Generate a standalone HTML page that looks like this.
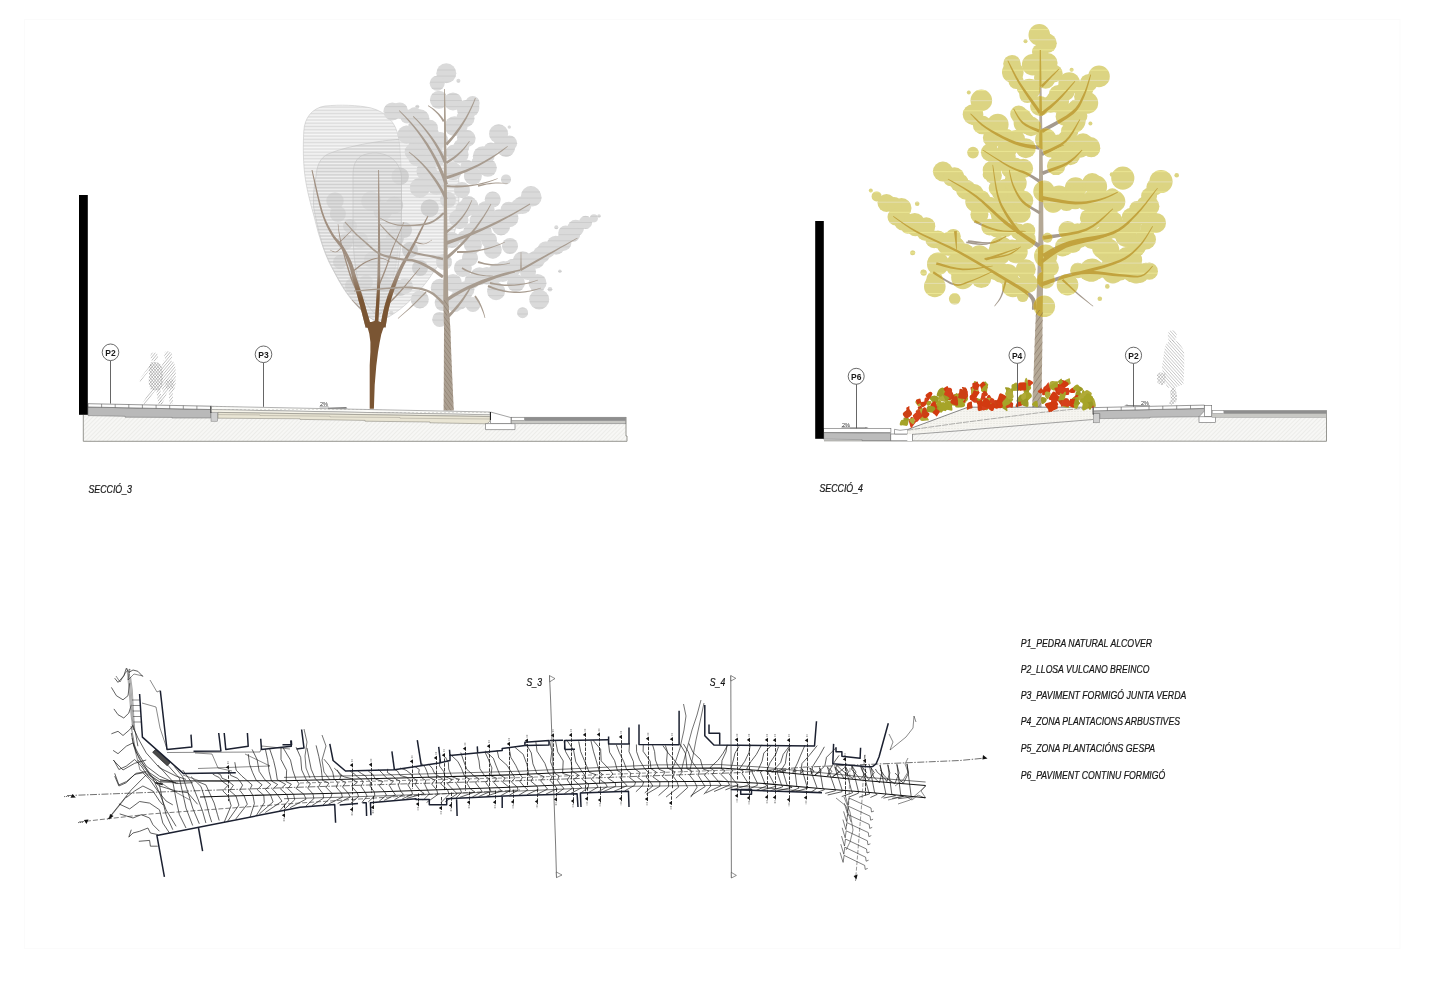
<!DOCTYPE html>
<html><head><meta charset="utf-8"><title>Seccions</title>
<style>
html,body{margin:0;padding:0;background:#fff;}
body{width:1447px;height:1000px;overflow:hidden;font-family:"Liberation Sans",sans-serif;}
svg{display:block;position:absolute;left:0;top:0;}
text{font-family:"Liberation Sans",sans-serif;}
svg{opacity:0.999;}
.it{font-style:italic;fill:#151515;stroke:#151515;stroke-width:0.22px;}
.bd{font-weight:bold;fill:#1a1a1a;}
</style></head><body>
<svg width="1447" height="1000" viewBox="0 0 1447 1000">
<defs>
<pattern id="hatchG" width="3" height="3" patternUnits="userSpaceOnUse" patternTransform="rotate(-45)">
  <rect width="3" height="3" fill="#f7f7f5"/><line x1="0" y1="0" x2="3" y2="0" stroke="#dcdcd8" stroke-width="0.8"/>
</pattern>
<pattern id="hatchB" width="4" height="1.45" patternUnits="userSpaceOnUse">
  <rect width="4" height="1.45" fill="#ffffff" fill-opacity="0"/><line x1="0" y1="0.5" x2="4" y2="0.5" stroke="#b0b0b0" stroke-width="0.46"/>
</pattern>
<pattern id="hatchP" width="2.2" height="2.2" patternUnits="userSpaceOnUse" patternTransform="rotate(-50)">
  <line x1="0" y1="0" x2="2.2" y2="0" stroke="#7c7c7c" stroke-width="0.72"/>
</pattern>
<pattern id="hatchP2" width="2.2" height="2.2" patternUnits="userSpaceOnUse" patternTransform="rotate(50)">
  <line x1="0" y1="0" x2="2.2" y2="0" stroke="#7c7c7c" stroke-width="0.72"/>
</pattern>
<pattern id="hatchT" width="3.2" height="3.2" patternUnits="userSpaceOnUse" patternTransform="rotate(55)">
  <line x1="0" y1="0" x2="3.2" y2="0" stroke="#7a6a5a" stroke-width="0.7"/>
</pattern>
<pattern id="dots" width="4" height="3" patternUnits="userSpaceOnUse">
  <rect width="4" height="3" fill="#fbfbf8"/><circle cx="1" cy="1.5" r="0.5" fill="#b8b8b0"/>
</pattern>
</defs>
<rect width="1447" height="1000" fill="#ffffff"/>
<rect x="24.5" y="19.5" width="1375.5" height="929" fill="none" stroke="#fbfbfb" stroke-width="1"/>

<g id="secc3"><clipPath id="clipGrey"><circle cx="446.3" cy="73.2" r="10"/><circle cx="437.2" cy="83.2" r="7.5"/><circle cx="458.4" cy="80.7" r="2"/><circle cx="438.9" cy="99.8" r="9"/><circle cx="453" cy="101.4" r="9"/><circle cx="470.4" cy="108" r="9"/><circle cx="392.4" cy="111.4" r="9"/><circle cx="417.3" cy="106.7" r="2"/><circle cx="419.8" cy="118.8" r="9.6"/><circle cx="429.7" cy="128" r="8.3"/><circle cx="454.6" cy="126.3" r="10"/><circle cx="406.5" cy="134.6" r="9"/><circle cx="498.6" cy="133.8" r="9.6"/><circle cx="509.3" cy="127.1" r="1.7"/><circle cx="506" cy="147.9" r="9"/><circle cx="482.8" cy="156.2" r="10"/><circle cx="459.6" cy="154.5" r="9"/><circle cx="418.1" cy="147.9" r="10"/><circle cx="436.4" cy="157.8" r="9"/><circle cx="487.8" cy="167.8" r="9"/><circle cx="472.9" cy="176" r="9"/><circle cx="453" cy="171.1" r="9"/><circle cx="426.4" cy="171.1" r="10"/><circle cx="506" cy="179.4" r="5"/><circle cx="530.9" cy="196" r="10"/><circle cx="419.8" cy="187.7" r="10"/><circle cx="436.4" cy="186" r="9"/><circle cx="465" cy="138" r="8"/><circle cx="440" cy="140" r="8"/><circle cx="532.6" cy="197.5" r="9"/><circle cx="522.6" cy="204.9" r="9"/><circle cx="509.4" cy="218.2" r="9"/><circle cx="501" cy="226.5" r="9"/><circle cx="492.8" cy="198.3" r="5"/><circle cx="469.6" cy="206.6" r="9"/><circle cx="459.6" cy="219.9" r="9"/><circle cx="482.8" cy="231.5" r="9"/><circle cx="472.9" cy="244.7" r="9"/><circle cx="492.8" cy="249.7" r="9"/><circle cx="585.6" cy="222.3" r="6.6"/><circle cx="593.9" cy="218.2" r="4"/><circle cx="575.7" cy="228.1" r="8.3"/><circle cx="565.7" cy="233.1" r="7.5"/><circle cx="555.8" cy="244.7" r="9"/><circle cx="545.8" cy="249.7" r="8.3"/><circle cx="535.9" cy="259.7" r="9"/><circle cx="522.6" cy="261.3" r="10"/><circle cx="556.3" cy="227.3" r="2"/><circle cx="559.9" cy="271.3" r="1.7"/><circle cx="537.5" cy="282.9" r="9"/><circle cx="539.2" cy="299.5" r="10"/><circle cx="516" cy="282.9" r="9"/><circle cx="502.7" cy="272.9" r="9"/><circle cx="496.1" cy="291.2" r="9"/><circle cx="479.5" cy="276.2" r="9"/><circle cx="462.9" cy="267.9" r="9"/><circle cx="453" cy="282.9" r="9"/><circle cx="459.6" cy="299.5" r="10"/><circle cx="472.9" cy="304.4" r="7.5"/><circle cx="522.6" cy="312.7" r="5.5"/><circle cx="550" cy="289.2" r="2.3"/><circle cx="439.7" cy="287.8" r="9"/><circle cx="443" cy="302.8" r="8.3"/><circle cx="439.7" cy="319.4" r="7.5"/><circle cx="419.8" cy="299.5" r="9"/><circle cx="404.9" cy="286.2" r="8"/><circle cx="391.3" cy="312.7" r="2"/><circle cx="599" cy="216" r="1.8"/><circle cx="489" cy="240" r="8"/><circle cx="510" cy="246" r="8"/><circle cx="528" cy="272" r="8"/><circle cx="470" cy="258" r="8"/><circle cx="462" cy="190" r="8"/><circle cx="448" cy="200" r="8"/><circle cx="452" cy="240" r="8"/><circle cx="444" cy="262" r="8"/><circle cx="459.1" cy="125.7" r="8.7"/><circle cx="465.5" cy="118.2" r="9.0"/><circle cx="466.0" cy="109.2" r="9.1"/><circle cx="472.6" cy="103.0" r="7.1"/><circle cx="436.2" cy="142.5" r="8.1"/><circle cx="431.7" cy="134.0" r="7.3"/><circle cx="425.0" cy="130.8" r="8.6"/><circle cx="418.7" cy="123.4" r="7.1"/><circle cx="414.4" cy="114.0" r="6.8"/><circle cx="435.5" cy="153.3" r="7.3"/><circle cx="431.5" cy="148.4" r="7.5"/><circle cx="426.5" cy="139.4" r="8.4"/><circle cx="418.0" cy="133.8" r="8.5"/><circle cx="415.8" cy="126.5" r="7.5"/><circle cx="407.2" cy="116.5" r="7.1"/><circle cx="399.7" cy="110.6" r="8.2"/><circle cx="453.4" cy="152.3" r="7.6"/><circle cx="461.3" cy="146.8" r="8.0"/><circle cx="467.1" cy="138.4" r="8.5"/><circle cx="467.2" cy="166.6" r="6.9"/><circle cx="478.4" cy="162.2" r="6.8"/><circle cx="486.5" cy="155.8" r="8.2"/><circle cx="490.8" cy="149.7" r="7.2"/><circle cx="502.4" cy="145.4" r="8.6"/><circle cx="509.5" cy="143.2" r="7.6"/><circle cx="435.2" cy="179.4" r="8.7"/><circle cx="428.8" cy="173.1" r="8.7"/><circle cx="426.3" cy="163.1" r="9.1"/><circle cx="416.7" cy="158.0" r="8.3"/><circle cx="413.6" cy="152.0" r="9.0"/><circle cx="476.9" cy="225.8" r="7.6"/><circle cx="483.6" cy="221.2" r="7.2"/><circle cx="494.0" cy="221.4" r="7.2"/><circle cx="499.2" cy="217.4" r="8.1"/><circle cx="508.8" cy="209.9" r="8.2"/><circle cx="518.5" cy="206.5" r="7.8"/><circle cx="522.9" cy="204.0" r="6.9"/><circle cx="464.4" cy="237.6" r="7.1"/><circle cx="471.5" cy="231.4" r="8.3"/><circle cx="477.3" cy="220.7" r="7.8"/><circle cx="479.7" cy="216.6" r="7.5"/><circle cx="485.9" cy="209.7" r="8.8"/><circle cx="492.7" cy="199.5" r="8.0"/><circle cx="472.0" cy="281.1" r="7.5"/><circle cx="478.8" cy="275.9" r="7.7"/><circle cx="489.7" cy="276.2" r="8.3"/><circle cx="496.1" cy="270.5" r="7.0"/><circle cx="503.7" cy="269.9" r="8.9"/><circle cx="512.8" cy="267.8" r="8.7"/><circle cx="541.4" cy="254.5" r="8.6"/><circle cx="547.8" cy="250.3" r="7.5"/><circle cx="556.1" cy="246.2" r="8.5"/><circle cx="563.1" cy="242.5" r="8.4"/><circle cx="572.2" cy="234.0" r="8.1"/><circle cx="454.7" cy="304.1" r="7.9"/><circle cx="462.8" cy="297.0" r="8.7"/><circle cx="465.8" cy="289.5" r="8.6"/><circle cx="486.8" cy="275.7" r="8.8"/><circle cx="495.5" cy="274.1" r="9.1"/><circle cx="504.4" cy="270.6" r="8.1"/><circle cx="509.6" cy="269.5" r="9.0"/><circle cx="457.4" cy="218.4" r="8.5"/><circle cx="464.3" cy="209.2" r="8.7"/><circle cx="468.5" cy="203.8" r="7.8"/></clipPath><g fill="#c9c9c9"><circle cx="335" cy="201" r="8.7"/><circle cx="337.9" cy="214" r="8"/><circle cx="371.2" cy="201" r="10"/><circle cx="382.8" cy="211" r="9.4"/><circle cx="400.2" cy="176.2" r="8.7"/><circle cx="394.4" cy="205.2" r="8.7"/><circle cx="345" cy="242" r="8"/><circle cx="360" cy="240" r="8"/><circle cx="372" cy="260" r="8"/><circle cx="353" cy="286" r="8"/><circle cx="400" cy="288" r="8"/><circle cx="340" cy="262" r="7"/><circle cx="386" cy="246" r="8"/><circle cx="410" cy="250" r="8"/><circle cx="420" cy="268" r="8"/><circle cx="404" cy="230" r="8"/><circle cx="350" cy="226" r="7"/><circle cx="394.9" cy="238.1" r="9"/><circle cx="429.7" cy="208.2" r="9"/><circle cx="366" cy="282" r="7"/><circle cx="384" cy="284" r="8"/></g><path d="M303.8,131 C304.5,118 312,108 325,106 C340,104.5 358,105 371.2,108 C386,112 396,122 398.8,138.5 C400.5,150 401.5,170 401.5,196 C401.5,230 398,262 390,290 C386,304 381,314 375,321 C362,313 349,299 339,281 C330,264 321,245 316.5,226 C312,208 308,196 305.5,180 C303,165 303,145 303.8,131 Z" fill="#ffffff" fill-opacity="0.35"/><path d="M303.8,131 C304.5,118 312,108 325,106 C340,104.5 358,105 371.2,108 C386,112 396,122 398.8,138.5 C400.5,150 401.5,170 401.5,196 C401.5,230 398,262 390,290 C386,304 381,314 375,321 C362,313 349,299 339,281 C330,264 321,245 316.5,226 C312,208 308,196 305.5,180 C303,165 303,145 303.8,131 Z" fill="url(#hatchB)" stroke="#bcbcbc" stroke-width="0.5"/><path d="M316,176 C317,165 320,158 328,154 C340,149 352,146.5 362.5,144.3 C380,141 398,138.5 415,139 C435,140 452,148 457,165 C460,180 459.5,200 457.5,219 C455,234 451,243 448,248 C444,257 439,265 433.5,272 C428,281 421,289 414.4,296 C408,303 402,308 395.2,312.8 C389,317 383,320 378,322 C368,318 360,310 354,302 C344,290 336,275 331.6,267.2 C326,257 322,245 320.8,238.4 C317,225 314.5,212 313.6,207.2 C313,196 314,185 316,176 Z" fill="#ffffff" fill-opacity="0.35"/><path d="M316,176 C317,165 320,158 328,154 C340,149 352,146.5 362.5,144.3 C380,141 398,138.5 415,139 C435,140 452,148 457,165 C460,180 459.5,200 457.5,219 C455,234 451,243 448,248 C444,257 439,265 433.5,272 C428,281 421,289 414.4,296 C408,303 402,308 395.2,312.8 C389,317 383,320 378,322 C368,318 360,310 354,302 C344,290 336,275 331.6,267.2 C326,257 322,245 320.8,238.4 C317,225 314.5,212 313.6,207.2 C313,196 314,185 316,176 Z" fill="url(#hatchB)" stroke="#bcbcbc" stroke-width="0.5"/><path d="M353,176 C353,166 355,160 361,156 C368,152.5 378,152 386,155 C394,158 400,165 401.5,176 L401.5,230 C401,255 397,280 389,300 C386,308 382,313 378,316 C372,312 366,304 362,294 C356,278 353,255 353,230 Z" fill="#ffffff" fill-opacity="0.35"/><path d="M353,176 C353,166 355,160 361,156 C368,152.5 378,152 386,155 C394,158 400,165 401.5,176 L401.5,230 C401,255 397,280 389,300 C386,308 382,313 378,316 C372,312 366,304 362,294 C356,278 353,255 353,230 Z" fill="url(#hatchB)" stroke="#bcbcbc" stroke-width="0.5"/><g fill="#dadada"><circle cx="446.3" cy="73.2" r="10"/><circle cx="437.2" cy="83.2" r="7.5"/><circle cx="458.4" cy="80.7" r="2"/><circle cx="438.9" cy="99.8" r="9"/><circle cx="453" cy="101.4" r="9"/><circle cx="470.4" cy="108" r="9"/><circle cx="392.4" cy="111.4" r="9"/><circle cx="417.3" cy="106.7" r="2"/><circle cx="419.8" cy="118.8" r="9.6"/><circle cx="429.7" cy="128" r="8.3"/><circle cx="454.6" cy="126.3" r="10"/><circle cx="406.5" cy="134.6" r="9"/><circle cx="498.6" cy="133.8" r="9.6"/><circle cx="509.3" cy="127.1" r="1.7"/><circle cx="506" cy="147.9" r="9"/><circle cx="482.8" cy="156.2" r="10"/><circle cx="459.6" cy="154.5" r="9"/><circle cx="418.1" cy="147.9" r="10"/><circle cx="436.4" cy="157.8" r="9"/><circle cx="487.8" cy="167.8" r="9"/><circle cx="472.9" cy="176" r="9"/><circle cx="453" cy="171.1" r="9"/><circle cx="426.4" cy="171.1" r="10"/><circle cx="506" cy="179.4" r="5"/><circle cx="530.9" cy="196" r="10"/><circle cx="419.8" cy="187.7" r="10"/><circle cx="436.4" cy="186" r="9"/><circle cx="465" cy="138" r="8"/><circle cx="440" cy="140" r="8"/><circle cx="532.6" cy="197.5" r="9"/><circle cx="522.6" cy="204.9" r="9"/><circle cx="509.4" cy="218.2" r="9"/><circle cx="501" cy="226.5" r="9"/><circle cx="492.8" cy="198.3" r="5"/><circle cx="469.6" cy="206.6" r="9"/><circle cx="459.6" cy="219.9" r="9"/><circle cx="482.8" cy="231.5" r="9"/><circle cx="472.9" cy="244.7" r="9"/><circle cx="492.8" cy="249.7" r="9"/><circle cx="585.6" cy="222.3" r="6.6"/><circle cx="593.9" cy="218.2" r="4"/><circle cx="575.7" cy="228.1" r="8.3"/><circle cx="565.7" cy="233.1" r="7.5"/><circle cx="555.8" cy="244.7" r="9"/><circle cx="545.8" cy="249.7" r="8.3"/><circle cx="535.9" cy="259.7" r="9"/><circle cx="522.6" cy="261.3" r="10"/><circle cx="556.3" cy="227.3" r="2"/><circle cx="559.9" cy="271.3" r="1.7"/><circle cx="537.5" cy="282.9" r="9"/><circle cx="539.2" cy="299.5" r="10"/><circle cx="516" cy="282.9" r="9"/><circle cx="502.7" cy="272.9" r="9"/><circle cx="496.1" cy="291.2" r="9"/><circle cx="479.5" cy="276.2" r="9"/><circle cx="462.9" cy="267.9" r="9"/><circle cx="453" cy="282.9" r="9"/><circle cx="459.6" cy="299.5" r="10"/><circle cx="472.9" cy="304.4" r="7.5"/><circle cx="522.6" cy="312.7" r="5.5"/><circle cx="550" cy="289.2" r="2.3"/><circle cx="439.7" cy="287.8" r="9"/><circle cx="443" cy="302.8" r="8.3"/><circle cx="439.7" cy="319.4" r="7.5"/><circle cx="419.8" cy="299.5" r="9"/><circle cx="404.9" cy="286.2" r="8"/><circle cx="391.3" cy="312.7" r="2"/><circle cx="599" cy="216" r="1.8"/><circle cx="489" cy="240" r="8"/><circle cx="510" cy="246" r="8"/><circle cx="528" cy="272" r="8"/><circle cx="470" cy="258" r="8"/><circle cx="462" cy="190" r="8"/><circle cx="448" cy="200" r="8"/><circle cx="452" cy="240" r="8"/><circle cx="444" cy="262" r="8"/><circle cx="459.1" cy="125.7" r="8.7"/><circle cx="465.5" cy="118.2" r="9.0"/><circle cx="466.0" cy="109.2" r="9.1"/><circle cx="472.6" cy="103.0" r="7.1"/><circle cx="436.2" cy="142.5" r="8.1"/><circle cx="431.7" cy="134.0" r="7.3"/><circle cx="425.0" cy="130.8" r="8.6"/><circle cx="418.7" cy="123.4" r="7.1"/><circle cx="414.4" cy="114.0" r="6.8"/><circle cx="435.5" cy="153.3" r="7.3"/><circle cx="431.5" cy="148.4" r="7.5"/><circle cx="426.5" cy="139.4" r="8.4"/><circle cx="418.0" cy="133.8" r="8.5"/><circle cx="415.8" cy="126.5" r="7.5"/><circle cx="407.2" cy="116.5" r="7.1"/><circle cx="399.7" cy="110.6" r="8.2"/><circle cx="453.4" cy="152.3" r="7.6"/><circle cx="461.3" cy="146.8" r="8.0"/><circle cx="467.1" cy="138.4" r="8.5"/><circle cx="467.2" cy="166.6" r="6.9"/><circle cx="478.4" cy="162.2" r="6.8"/><circle cx="486.5" cy="155.8" r="8.2"/><circle cx="490.8" cy="149.7" r="7.2"/><circle cx="502.4" cy="145.4" r="8.6"/><circle cx="509.5" cy="143.2" r="7.6"/><circle cx="435.2" cy="179.4" r="8.7"/><circle cx="428.8" cy="173.1" r="8.7"/><circle cx="426.3" cy="163.1" r="9.1"/><circle cx="416.7" cy="158.0" r="8.3"/><circle cx="413.6" cy="152.0" r="9.0"/><circle cx="476.9" cy="225.8" r="7.6"/><circle cx="483.6" cy="221.2" r="7.2"/><circle cx="494.0" cy="221.4" r="7.2"/><circle cx="499.2" cy="217.4" r="8.1"/><circle cx="508.8" cy="209.9" r="8.2"/><circle cx="518.5" cy="206.5" r="7.8"/><circle cx="522.9" cy="204.0" r="6.9"/><circle cx="464.4" cy="237.6" r="7.1"/><circle cx="471.5" cy="231.4" r="8.3"/><circle cx="477.3" cy="220.7" r="7.8"/><circle cx="479.7" cy="216.6" r="7.5"/><circle cx="485.9" cy="209.7" r="8.8"/><circle cx="492.7" cy="199.5" r="8.0"/><circle cx="472.0" cy="281.1" r="7.5"/><circle cx="478.8" cy="275.9" r="7.7"/><circle cx="489.7" cy="276.2" r="8.3"/><circle cx="496.1" cy="270.5" r="7.0"/><circle cx="503.7" cy="269.9" r="8.9"/><circle cx="512.8" cy="267.8" r="8.7"/><circle cx="541.4" cy="254.5" r="8.6"/><circle cx="547.8" cy="250.3" r="7.5"/><circle cx="556.1" cy="246.2" r="8.5"/><circle cx="563.1" cy="242.5" r="8.4"/><circle cx="572.2" cy="234.0" r="8.1"/><circle cx="454.7" cy="304.1" r="7.9"/><circle cx="462.8" cy="297.0" r="8.7"/><circle cx="465.8" cy="289.5" r="8.6"/><circle cx="486.8" cy="275.7" r="8.8"/><circle cx="495.5" cy="274.1" r="9.1"/><circle cx="504.4" cy="270.6" r="8.1"/><circle cx="509.6" cy="269.5" r="9.0"/><circle cx="457.4" cy="218.4" r="8.5"/><circle cx="464.3" cy="209.2" r="8.7"/><circle cx="468.5" cy="203.8" r="7.8"/></g><g clip-path="url(#clipGrey)" stroke="#bdbdbd" stroke-width="0.45"><line x1="385" y1="70.0" x2="605" y2="70.0"/><line x1="385" y1="76.1" x2="605" y2="76.1"/><line x1="385" y1="82.2" x2="605" y2="82.2"/><line x1="385" y1="88.3" x2="605" y2="88.3"/><line x1="385" y1="94.4" x2="605" y2="94.4"/><line x1="385" y1="100.5" x2="605" y2="100.5"/><line x1="385" y1="106.6" x2="605" y2="106.6"/><line x1="385" y1="112.7" x2="605" y2="112.7"/><line x1="385" y1="118.8" x2="605" y2="118.8"/><line x1="385" y1="124.9" x2="605" y2="124.9"/><line x1="385" y1="131.0" x2="605" y2="131.0"/><line x1="385" y1="137.1" x2="605" y2="137.1"/><line x1="385" y1="143.2" x2="605" y2="143.2"/><line x1="385" y1="149.3" x2="605" y2="149.3"/><line x1="385" y1="155.4" x2="605" y2="155.4"/><line x1="385" y1="161.5" x2="605" y2="161.5"/><line x1="385" y1="167.6" x2="605" y2="167.6"/><line x1="385" y1="173.7" x2="605" y2="173.7"/><line x1="385" y1="179.8" x2="605" y2="179.8"/><line x1="385" y1="185.9" x2="605" y2="185.9"/><line x1="385" y1="192.0" x2="605" y2="192.0"/><line x1="385" y1="198.1" x2="605" y2="198.1"/><line x1="385" y1="204.2" x2="605" y2="204.2"/><line x1="385" y1="210.3" x2="605" y2="210.3"/><line x1="385" y1="216.4" x2="605" y2="216.4"/><line x1="385" y1="222.5" x2="605" y2="222.5"/><line x1="385" y1="228.6" x2="605" y2="228.6"/><line x1="385" y1="234.7" x2="605" y2="234.7"/><line x1="385" y1="240.8" x2="605" y2="240.8"/><line x1="385" y1="246.9" x2="605" y2="246.9"/><line x1="385" y1="253.0" x2="605" y2="253.0"/><line x1="385" y1="259.1" x2="605" y2="259.1"/><line x1="385" y1="265.2" x2="605" y2="265.2"/><line x1="385" y1="271.3" x2="605" y2="271.3"/><line x1="385" y1="277.4" x2="605" y2="277.4"/><line x1="385" y1="283.5" x2="605" y2="283.5"/><line x1="385" y1="289.6" x2="605" y2="289.6"/><line x1="385" y1="295.7" x2="605" y2="295.7"/><line x1="385" y1="301.8" x2="605" y2="301.8"/><line x1="385" y1="307.9" x2="605" y2="307.9"/><line x1="385" y1="314.0" x2="605" y2="314.0"/><line x1="385" y1="320.1" x2="605" y2="320.1"/></g><defs><linearGradient id="gLimb" x1="0" y1="300" x2="0" y2="274" gradientUnits="userSpaceOnUse"><stop offset="0" stop-color="#7a5533"/><stop offset="1" stop-color="#7a5533" stop-opacity="0"/></linearGradient></defs><polygon points="371.1,326.3 370.0,322.5 368.5,317.1 366.7,310.9 365.0,304.7 363.4,299.3 362.0,294.8 360.7,290.7 359.4,286.8 358.2,283.1 357.1,279.4 356.0,275.8 355.0,272.4 354.0,269.1 353.0,265.7 351.7,262.3 350.2,259.0 348.6,255.7 346.9,252.4 345.1,249.2 343.2,246.2 341.3,243.5 339.2,241.1 337.1,238.9 335.0,236.4 333.0,233.4 331.0,230.0 328.9,226.3 326.9,222.3 324.8,217.5 322.8,211.8 320.6,204.0 318.2,194.5 315.9,184.6 313.9,175.9 312.5,169.9 311.5,170.1 312.8,176.2 314.7,184.9 316.8,194.8 319.1,204.4 321.2,212.2 323.2,218.1 325.1,223.1 327.1,227.3 329.0,231.0 331.0,234.6 333.0,237.8 335.1,240.5 337.1,242.9 339.0,245.2 340.8,247.8 342.4,250.8 344.1,253.9 345.6,257.1 347.0,260.4 348.3,263.7 349.4,266.9 350.3,270.1 351.1,273.5 352.0,276.9 352.9,280.6 354.0,284.3 355.1,288.1 356.2,292.0 357.4,296.2 358.6,300.7 360.1,306.1 361.7,312.3 363.3,318.5 364.7,323.9 365.7,327.7" fill="#a08f80" /><polygon points="385.5,327.5 385.9,324.9 386.5,321.2 387.2,316.9 388.0,312.5 388.8,308.6 389.7,305.0 390.6,301.5 391.6,298.0 392.7,294.4 394.0,290.7 395.3,286.7 396.8,282.6 398.4,278.4 400.0,274.4 401.6,270.7 403.1,267.4 404.7,264.3 406.2,261.4 407.8,258.5 409.3,255.7 410.7,252.9 412.0,250.3 413.4,247.8 414.7,245.2 416.0,242.5 417.4,239.7 418.7,236.8 420.1,233.9 421.4,231.1 422.7,228.4 424.0,225.6 425.4,222.8 426.6,220.1 427.7,217.9 428.4,216.2 427.6,215.8 426.7,217.3 425.5,219.6 424.1,222.2 422.7,224.9 421.3,227.6 419.9,230.3 418.4,233.1 417.0,235.9 415.5,238.8 414.0,241.5 412.6,244.1 411.1,246.6 409.7,249.1 408.3,251.6 406.7,254.3 405.1,257.1 403.5,259.9 401.8,262.8 400.1,265.9 398.4,269.3 396.7,273.0 394.9,277.0 393.2,281.2 391.6,285.3 390.0,289.3 388.7,293.0 387.4,296.6 386.3,300.2 385.2,303.8 384.2,307.4 383.2,311.5 382.2,316.0 381.4,320.3 380.7,323.9 380.1,326.5" fill="#a08f80" /><polygon points="378.2,324.1 378.4,319.4 378.8,312.8 379.2,305.0 379.6,297.2 379.9,290.1 380.1,283.8 380.2,277.7 380.2,271.8 380.2,266.0 380.2,260.0 380.2,254.0 380.2,248.0 380.1,242.0 380.0,236.0 380.0,230.0 379.9,224.0 379.8,218.0 379.7,212.0 379.6,206.0 379.5,200.0 379.4,193.5 379.3,186.6 379.2,179.8 379.1,174.1 379.0,170.0 378.2,170.0 378.2,174.1 378.2,179.8 378.1,186.6 378.1,193.5 378.1,200.0 378.1,206.0 378.1,212.0 378.1,218.0 378.1,224.0 378.0,230.0 378.0,236.0 378.0,242.0 377.9,248.0 377.9,254.0 377.8,260.0 377.6,265.9 377.5,271.8 377.4,277.7 377.2,283.7 376.9,289.9 376.5,297.0 376.0,304.8 375.4,312.5 375.0,319.2 374.6,323.9" fill="#a08f80" /><polygon points="361.4,297.6 360.2,295.2 358.5,291.9 356.5,288.0 354.5,283.8 352.8,279.7 351.2,275.6 349.7,271.2 348.3,266.6 346.9,262.2 345.6,257.8 344.4,253.6 343.2,249.4 342.2,245.4 341.2,241.5 340.4,237.9 339.8,234.5 339.2,231.2 338.8,228.3 338.5,225.8 338.2,224.0 337.8,224.0 337.9,225.8 338.2,228.3 338.5,231.3 339.0,234.7 339.6,238.1 340.3,241.7 341.2,245.6 342.2,249.7 343.3,253.9 344.4,258.2 345.6,262.5 346.9,267.1 348.3,271.6 349.7,276.1 351.2,280.3 353.0,284.5 354.9,288.7 356.8,292.7 358.5,296.0 359.6,298.4" fill="#a08f80" /><polygon points="352.5,272.6 354.3,271.1 357.0,269.0 360.1,266.6 363.3,264.3 366.3,262.5 369.1,261.2 372.0,260.1 374.8,259.2 377.5,258.6 380.0,258.4 382.3,258.7 384.6,259.5 386.8,260.6 388.6,261.6 389.9,262.2 390.1,261.8 388.8,261.1 387.1,260.0 384.9,258.9 382.5,258.0 380.0,257.6 377.4,257.7 374.6,258.3 371.6,259.1 368.7,260.2 365.7,261.5 362.6,263.3 359.3,265.5 356.2,267.9 353.5,270.0 351.5,271.4" fill="#a08f80" /><polygon points="386.6,306.6 388.2,305.0 390.5,302.7 393.2,300.1 395.9,297.2 398.5,294.5 400.9,291.7 403.4,288.9 405.8,285.9 408.1,283.1 410.4,280.3 412.6,277.6 414.9,274.7 417.1,272.1 418.9,269.8 420.2,268.2 419.8,267.8 418.4,269.4 416.5,271.6 414.3,274.2 411.9,277.0 409.6,279.7 407.3,282.4 404.9,285.2 402.4,288.0 399.9,290.9 397.5,293.5 394.9,296.2 392.1,299.0 389.4,301.6 387.0,303.8 385.4,305.4" fill="#a08f80" /><polygon points="379.7,285.3 380.7,283.0 382.0,279.8 383.6,276.0 385.2,272.0 386.6,268.2 387.9,264.6 389.1,260.9 390.2,257.1 391.3,253.5 392.5,250.2 393.7,247.1 394.8,244.3 396.0,241.6 397.2,238.9 398.4,236.2 399.6,233.1 401.0,229.9 402.3,226.7 403.4,224.0 404.2,222.1 403.8,221.9 402.9,223.8 401.8,226.5 400.4,229.6 399.0,232.8 397.6,235.8 396.4,238.6 395.2,241.2 394.0,243.9 392.7,246.8 391.5,249.8 390.3,253.2 389.1,256.8 387.9,260.5 386.7,264.2 385.4,267.8 383.9,271.5 382.3,275.4 380.7,279.2 379.3,282.4 378.3,284.7" fill="#a08f80" /><polygon points="338.4,244.4 339.5,243.2 341.0,241.6 342.8,239.7 344.7,237.9 346.2,236.2 347.7,234.8 349.0,233.4 350.3,232.1 351.4,230.9 352.1,230.1 351.9,229.9 351.1,230.6 349.9,231.7 348.6,233.0 347.2,234.3 345.8,235.8 344.1,237.3 342.3,239.2 340.4,241.0 338.8,242.5 337.6,243.6" fill="#a08f80" /><polygon points="368.5,317.6 367.4,316.3 365.8,314.3 364.0,312.0 362.1,309.7 360.3,307.7 358.6,305.9 356.7,304.0 354.8,302.3 353.3,300.9 352.2,299.8 351.8,300.2 352.9,301.3 354.4,302.8 356.2,304.5 358.0,306.4 359.7,308.3 361.4,310.3 363.2,312.6 365.0,314.9 366.5,317.0 367.5,318.4" fill="#a08f80" /><polygon points="341.7,246.6 340.9,247.5 339.7,248.7 338.4,250.0 337.1,251.0 335.9,251.7 334.8,251.7 333.4,251.3 332.1,250.8 330.9,250.2 330.1,249.8 329.9,250.2 330.7,250.6 331.9,251.2 333.2,251.9 334.7,252.3 336.1,252.3 337.5,251.7 339.0,250.6 340.3,249.3 341.5,248.1 342.3,247.4" fill="#a08f80" /><polygon points="414.9,242.5 416.1,242.8 417.9,243.4 419.9,243.9 422.1,244.3 424.0,244.3 425.9,243.8 427.8,242.9 429.6,241.8 431.0,240.8 432.1,240.2 431.9,239.8 430.8,240.4 429.3,241.4 427.5,242.4 425.7,243.2 424.0,243.7 422.2,243.6 420.1,243.1 418.1,242.5 416.4,241.9 415.1,241.5" fill="#a08f80" /><polygon points="371.1,326.3 370.0,322.5 368.5,317.1 366.7,310.9 365.0,304.7 363.4,299.3 362.0,294.8 360.7,290.7 359.4,286.8 358.2,283.1 357.1,279.4 356.0,275.8 355.0,272.4 354.0,269.1 353.0,265.7 351.7,262.3 350.2,259.0 348.6,255.7 346.9,252.4 345.1,249.2 343.2,246.2 341.3,243.5 339.2,241.1 337.1,238.9 335.0,236.4 333.0,233.4 331.0,230.0 328.9,226.3 326.9,222.3 324.8,217.5 322.8,211.8 320.6,204.0 318.2,194.5 315.9,184.6 313.9,175.9 312.5,169.9 311.5,170.1 312.8,176.2 314.7,184.9 316.8,194.8 319.1,204.4 321.2,212.2 323.2,218.1 325.1,223.1 327.1,227.3 329.0,231.0 331.0,234.6 333.0,237.8 335.1,240.5 337.1,242.9 339.0,245.2 340.8,247.8 342.4,250.8 344.1,253.9 345.6,257.1 347.0,260.4 348.3,263.7 349.4,266.9 350.3,270.1 351.1,273.5 352.0,276.9 352.9,280.6 354.0,284.3 355.1,288.1 356.2,292.0 357.4,296.2 358.6,300.7 360.1,306.1 361.7,312.3 363.3,318.5 364.7,323.9 365.7,327.7" fill="url(#gLimb)" /><polygon points="385.5,327.5 385.9,324.9 386.5,321.2 387.2,316.9 388.0,312.5 388.8,308.6 389.7,305.0 390.6,301.5 391.6,298.0 392.7,294.4 394.0,290.7 395.3,286.7 396.8,282.6 398.4,278.4 400.0,274.4 401.6,270.7 403.1,267.4 404.7,264.3 406.2,261.4 407.8,258.5 409.3,255.7 410.7,252.9 412.0,250.3 413.4,247.8 414.7,245.2 416.0,242.5 417.4,239.7 418.7,236.8 420.1,233.9 421.4,231.1 422.7,228.4 424.0,225.6 425.4,222.8 426.6,220.1 427.7,217.9 428.4,216.2 427.6,215.8 426.7,217.3 425.5,219.6 424.1,222.2 422.7,224.9 421.3,227.6 419.9,230.3 418.4,233.1 417.0,235.9 415.5,238.8 414.0,241.5 412.6,244.1 411.1,246.6 409.7,249.1 408.3,251.6 406.7,254.3 405.1,257.1 403.5,259.9 401.8,262.8 400.1,265.9 398.4,269.3 396.7,273.0 394.9,277.0 393.2,281.2 391.6,285.3 390.0,289.3 388.7,293.0 387.4,296.6 386.3,300.2 385.2,303.8 384.2,307.4 383.2,311.5 382.2,316.0 381.4,320.3 380.7,323.9 380.1,326.5" fill="url(#gLimb)" /><polygon points="378.2,324.1 378.4,319.4 378.8,312.8 379.2,305.0 379.6,297.2 379.9,290.1 380.1,283.8 380.2,277.7 380.2,271.8 380.2,266.0 380.2,260.0 380.2,254.0 380.2,248.0 380.1,242.0 380.0,236.0 380.0,230.0 379.9,224.0 379.8,218.0 379.7,212.0 379.6,206.0 379.5,200.0 379.4,193.5 379.3,186.6 379.2,179.8 379.1,174.1 379.0,170.0 378.2,170.0 378.2,174.1 378.2,179.8 378.1,186.6 378.1,193.5 378.1,200.0 378.1,206.0 378.1,212.0 378.1,218.0 378.1,224.0 378.0,230.0 378.0,236.0 378.0,242.0 377.9,248.0 377.9,254.0 377.8,260.0 377.6,265.9 377.5,271.8 377.4,277.7 377.2,283.7 376.9,289.9 376.5,297.0 376.0,304.8 375.4,312.5 375.0,319.2 374.6,323.9" fill="url(#gLimb)" /><polygon points="373.9,408.8 374.7,385.1 376.3,365.7 378.0,352.3 379.6,342.7 381.3,334.2 383.5,327.7 367.5,327.3 369.3,333.8 370.4,342.1 370.4,351.7 369.7,365.3 369.7,384.9 369.7,408.8" fill="#7a5533" /><polygon points="367.4,328 365.6,322 371.2,322 376,320.6 380.6,322 385.6,322 383.6,328" fill="#7a5533"/><polygon points="453.8,410.4 452.6,384.9 451.3,354.9 450.4,328.9 448.3,299.9 447.6,250.0 447.0,200.0 446.4,150.0 445.6,110.0 444.9,89.0 444.1,89.0 444.0,110.0 444.0,150.0 443.8,200.0 443.6,250.0 443.3,300.1 444.0,329.1 443.9,355.1 443.8,385.1 443.6,410.6" fill="#ab9f91" /><polygon points="453.8,410.4 452.6,384.9 451.3,354.9 450.4,328.9 448.3,299.9 443.3,300.1 444.0,329.1 443.9,355.1 443.8,385.1 443.6,410.6" fill="url(#hatchT)" /><polygon points="444.7,120.7 443.4,118.9 442.0,117.0 440.5,115.3 439.0,113.6 437.4,112.0 435.7,110.5 434.0,109.1 432.1,107.7 430.2,106.5 428.3,105.3 427.9,105.9 429.8,107.2 431.6,108.5 433.2,109.9 434.9,111.4 436.4,113.0 437.9,114.6 439.2,116.3 440.6,118.1 441.8,119.9 442.9,121.9" fill="#a89c90" /><polygon points="447.3,145.4 451.0,141.2 454.5,136.9 457.9,132.5 461.0,127.9 463.9,123.2 466.7,118.5 469.2,113.6 471.6,108.6 473.8,103.5 475.8,98.2 475.0,98.0 472.9,103.1 470.5,108.1 468.0,112.9 465.3,117.7 462.4,122.3 459.3,126.8 456.1,131.1 452.7,135.4 449.1,139.5 445.3,143.6" fill="#a89c90" /><polygon points="446.9,162.2 444.4,157.0 441.7,151.9 438.8,146.9 435.7,142.1 432.5,137.4 429.0,132.9 425.4,128.5 421.6,124.2 417.6,120.1 413.5,116.1 412.9,116.7 416.9,120.8 420.7,125.1 424.3,129.4 427.7,133.9 430.9,138.5 433.9,143.3 436.7,148.1 439.4,153.1 441.8,158.2 444.1,163.4" fill="#a89c90" /><polygon points="448.0,183.8 444.7,175.4 441.1,167.2 437.1,159.2 432.7,151.5 428.1,144.0 423.0,136.8 417.6,129.8 411.9,123.0 405.8,116.5 399.4,110.2 398.8,110.8 405.0,117.2 410.9,123.9 416.3,130.8 421.5,137.9 426.2,145.2 430.6,152.7 434.7,160.5 438.3,168.4 441.7,176.6 444.6,185.0" fill="#a89c90" /><polygon points="447.0,163.9 449.7,162.1 452.4,160.3 455.0,158.3 457.4,156.2 459.7,154.0 462.0,151.7 464.1,149.3 466.1,146.7 468.0,144.1 469.8,141.4 469.2,141.0 467.3,143.6 465.3,146.1 463.2,148.4 460.9,150.7 458.6,152.8 456.2,154.8 453.7,156.7 451.1,158.5 448.5,160.1 445.6,161.7" fill="#a89c90" /><polygon points="446.7,179.2 453.4,177.0 460.0,174.6 466.5,171.9 472.8,169.0 479.0,165.9 485.1,162.5 491.0,158.9 496.8,155.0 502.4,150.9 507.9,146.5 507.5,145.9 501.8,150.0 496.1,153.9 490.2,157.6 484.2,161.0 478.1,164.2 471.9,167.1 465.6,169.7 459.1,172.1 452.6,174.3 445.9,176.2" fill="#a89c90" /><polygon points="447.7,198.6 444.8,193.1 441.8,187.8 438.5,182.6 435.0,177.6 431.2,172.8 427.3,168.2 423.1,163.8 418.7,159.6 414.1,155.5 409.3,151.7 408.7,152.3 413.4,156.3 417.8,160.5 422.0,164.8 426.0,169.3 429.7,174.0 433.2,178.9 436.5,183.9 439.5,189.1 442.3,194.4 444.9,200.0" fill="#a89c90" /><polygon points="446.2,187.0 451.6,187.3 456.9,187.4 462.1,187.2 467.4,186.7 472.5,186.0 477.7,185.1 482.8,183.9 487.8,182.4 492.9,180.8 497.8,178.8 497.6,178.2 492.6,180.0 487.6,181.5 482.5,182.8 477.5,183.9 472.4,184.7 467.2,185.2 462.1,185.5 456.9,185.6 451.6,185.4 446.4,185.0" fill="#a89c90" /><polygon points="478.2,186.7 481.1,185.9 484.0,185.2 486.9,184.6 489.8,184.2 492.8,183.8 495.7,183.6 498.7,183.4 501.7,183.4 504.7,183.6 507.7,183.8 507.7,183.2 504.7,182.9 501.7,182.7 498.7,182.6 495.7,182.6 492.7,182.7 489.7,183.0 486.7,183.4 483.7,183.9 480.8,184.5 477.8,185.3" fill="#a89c90" /><polygon points="447.1,244.7 455.8,241.5 464.5,238.2 473.1,234.7 481.5,230.9 489.9,227.0 498.2,222.9 506.3,218.6 514.4,214.0 522.4,209.3 530.2,204.4 529.8,203.6 521.8,208.3 513.7,212.8 505.5,217.1 497.3,221.1 488.9,225.0 480.5,228.7 472.0,232.1 463.4,235.4 454.7,238.5 445.9,241.3" fill="#a89c90" /><polygon points="447.5,259.2 452.9,254.5 458.0,249.6 463.0,244.5 467.7,239.3 472.2,233.8 476.5,228.2 480.5,222.5 484.4,216.6 488.0,210.5 491.3,204.2 490.7,203.8 487.1,209.9 483.3,215.9 479.3,221.6 475.1,227.2 470.7,232.6 466.1,237.8 461.3,242.8 456.2,247.7 451.0,252.3 445.5,256.8" fill="#a89c90" /><polygon points="447.4,301.5 454.2,297.1 461.1,293.0 468.1,289.2 475.3,285.7 482.5,282.4 489.9,279.5 497.4,276.9 505.1,274.5 512.8,272.5 520.7,270.7 520.5,269.3 512.5,270.9 504.6,272.7 496.8,274.9 489.1,277.4 481.6,280.1 474.1,283.2 466.8,286.6 459.6,290.3 452.5,294.2 445.6,298.5" fill="#a89c90" /><polygon points="521.2,271.0 526.8,267.7 532.5,264.5 538.1,261.2 543.8,257.9 549.4,254.7 555.1,251.4 560.7,248.1 566.4,244.9 572.0,241.6 577.7,238.3 577.3,237.7 571.6,240.8 565.9,243.9 560.1,247.1 554.4,250.2 548.7,253.3 542.9,256.5 537.2,259.6 531.5,262.7 525.8,265.9 520.0,269.0" fill="#a89c90" /><polygon points="447.6,319.1 450.3,316.4 453.0,313.5 455.5,310.6 458.0,307.7 460.3,304.6 462.6,301.5 464.7,298.3 466.8,295.1 468.8,291.7 470.6,288.3 469.4,287.7 467.4,290.9 465.3,294.1 463.2,297.3 460.9,300.3 458.6,303.3 456.1,306.1 453.6,308.9 451.0,311.7 448.3,314.3 445.4,316.9" fill="#a89c90" /><polygon points="470.5,289.0 474.8,287.0 479.2,285.0 483.5,283.2 487.9,281.4 492.4,279.7 496.9,278.1 501.4,276.6 505.9,275.2 510.5,273.8 515.1,272.6 514.9,271.4 510.2,272.6 505.5,273.8 500.9,275.1 496.4,276.5 491.8,278.1 487.3,279.7 482.8,281.3 478.3,283.1 473.9,285.0 469.5,287.0" fill="#a89c90" /><polygon points="457.0,253.0 462.0,253.0 467.0,252.7 472.0,252.2 476.9,251.5 481.7,250.6 486.5,249.4 491.3,247.9 495.9,246.3 500.6,244.4 505.1,242.3 504.9,241.7 500.3,243.7 495.6,245.4 490.9,246.9 486.2,248.2 481.5,249.2 476.7,250.0 471.8,250.6 466.9,251.0 462.0,251.1 457.0,251.0" fill="#a89c90" /><polygon points="477.7,262.9 481.0,263.8 484.2,264.5 487.4,265.0 490.7,265.4 493.9,265.5 497.1,265.5 500.4,265.2 503.6,264.8 506.9,264.2 510.1,263.3 509.9,262.7 506.7,263.4 503.5,263.9 500.3,264.2 497.1,264.3 493.9,264.3 490.8,264.0 487.6,263.6 484.5,263.0 481.4,262.1 478.3,261.1" fill="#a89c90" /><polygon points="461.6,268.8 464.5,270.4 467.5,271.8 470.5,273.0 473.6,274.1 476.7,274.9 479.9,275.6 483.1,276.1 486.4,276.3 489.7,276.4 493.0,276.3 493.0,275.7 489.7,275.6 486.5,275.4 483.3,275.0 480.1,274.5 477.1,273.7 474.0,272.8 471.1,271.7 468.1,270.4 465.3,268.9 462.4,267.2" fill="#a89c90" /><polygon points="489.8,283.9 494.7,284.8 499.7,285.5 504.5,285.9 509.4,285.9 514.3,285.7 519.1,285.2 523.9,284.4 528.7,283.4 533.4,282.0 538.1,280.3 537.9,279.7 533.2,281.2 528.4,282.5 523.7,283.4 518.9,284.1 514.2,284.5 509.4,284.6 504.6,284.4 499.8,283.9 495.0,283.2 490.2,282.1" fill="#a89c90" /><polygon points="487.6,286.9 492.9,289.0 498.2,290.6 503.6,291.8 508.9,292.6 514.3,293.0 519.6,292.9 525.0,292.4 530.4,291.5 535.7,290.1 541.1,288.3 540.9,287.7 535.5,289.3 530.2,290.5 524.9,291.3 519.6,291.7 514.3,291.6 509.1,291.2 503.9,290.3 498.7,289.0 493.5,287.3 488.4,285.1" fill="#a89c90" /><polygon points="474.3,296.5 475.7,298.5 477.0,300.5 478.3,302.5 479.4,304.6 480.5,306.8 481.5,308.9 482.4,311.2 483.3,313.4 484.0,315.7 484.7,318.1 485.3,317.9 484.8,315.5 484.1,313.1 483.4,310.8 482.6,308.5 481.7,306.2 480.7,304.0 479.6,301.8 478.4,299.7 477.1,297.6 475.7,295.5" fill="#a89c90" /><polygon points="521.8,270.0 521.7,268.2 521.7,266.4 521.6,264.6 521.6,262.8 521.5,261.0 521.5,259.2 521.4,257.4 521.4,255.6 521.3,253.8 521.3,252.0 520.7,252.0 520.7,253.8 520.6,255.6 520.6,257.4 520.5,259.2 520.5,261.0 520.4,262.8 520.4,264.6 520.3,266.4 520.3,268.2 520.2,270.0" fill="#a89c90" /><polygon points="447.2,232.9 450.6,230.3 453.8,227.6 456.8,224.7 459.6,221.6 462.2,218.4 464.7,215.0 466.9,211.5 468.9,207.9 470.7,204.1 472.3,200.1 471.7,199.9 469.9,203.7 468.0,207.4 465.9,210.9 463.6,214.3 461.1,217.4 458.4,220.5 455.5,223.4 452.5,226.1 449.3,228.6 445.8,231.1" fill="#a89c90" /><polygon points="445.0,303.0 443.1,301.3 440.6,298.8 437.5,295.9 434.1,293.1 430.5,291.0 426.9,289.5 423.2,288.3 419.2,287.5 414.8,286.9 410.0,286.6 404.6,286.5 398.5,286.8 392.1,287.3 385.8,287.8 379.9,288.3 374.1,288.7 368.0,289.2 362.3,289.7 357.4,290.2 354.0,290.5 354.0,291.5 357.5,291.3 362.4,290.9 368.1,290.5 374.2,290.1 380.1,289.7 386.0,289.3 392.3,288.9 398.6,288.5 404.6,288.3 410.0,288.4 414.6,288.9 418.8,289.5 422.6,290.4 426.2,291.6 429.5,293.0 432.7,295.1 435.9,297.8 438.8,300.6 441.2,303.2 443.0,305.0" fill="#a89c90" /><polygon points="425.5,291.5 423.6,293.4 420.9,296.2 417.8,299.4 414.6,302.7 411.6,305.6 408.7,308.4 405.4,311.4 402.3,314.2 399.7,316.6 397.8,318.3 398.2,318.7 400.1,317.1 402.8,314.8 406.0,312.0 409.3,309.2 412.4,306.4 415.4,303.5 418.7,300.3 421.9,297.1 424.6,294.4 426.5,292.5" fill="#a89c90" /><polygon points="443.9,275.7 442.2,274.5 439.7,272.7 436.8,270.7 433.7,268.6 430.7,266.8 427.8,265.2 424.8,263.6 421.7,262.1 418.5,260.8 415.4,259.8 412.3,259.1 409.4,258.8 406.5,258.6 403.5,258.4 400.2,257.9 396.4,257.2 392.3,256.5 388.1,255.6 384.1,254.5 380.4,253.1 377.1,251.2 374.0,248.9 371.0,246.3 368.2,243.7 365.5,241.4 363.2,239.4 361.1,237.7 359.2,236.1 357.4,234.4 355.5,232.5 353.3,230.3 351.0,227.8 348.7,225.3 346.8,223.2 345.4,221.7 344.6,222.3 346.0,223.9 347.9,226.1 350.1,228.6 352.4,231.2 354.5,233.5 356.4,235.4 358.3,237.1 360.1,238.8 362.2,240.6 364.5,242.6 367.0,244.9 369.8,247.6 372.8,250.3 376.1,252.8 379.6,254.9 383.4,256.4 387.6,257.7 391.9,258.6 396.0,259.4 399.8,260.1 403.2,260.7 406.3,261.0 409.1,261.2 411.9,261.6 414.6,262.2 417.6,263.3 420.5,264.6 423.5,266.0 426.5,267.6 429.3,269.2 432.1,271.1 435.1,273.1 437.9,275.2 440.3,277.0 442.1,278.3" fill="#a89c90" /><polygon points="443.3,257.7 441.6,257.4 439.1,256.8 436.2,256.2 433.2,255.5 430.2,254.9 427.2,254.4 424.1,253.9 420.9,253.3 417.9,252.8 415.3,252.1 413.1,251.4 411.2,250.7 409.5,249.9 407.7,248.9 405.4,247.4 402.7,245.3 399.7,242.9 396.5,240.1 393.3,237.3 390.4,234.6 387.6,231.8 384.8,228.8 382.1,225.9 379.9,223.5 378.3,221.7 377.7,222.3 379.3,224.1 381.4,226.6 384.0,229.5 386.8,232.6 389.6,235.4 392.5,238.2 395.6,241.1 398.8,243.9 401.8,246.5 404.6,248.6 406.8,250.2 408.7,251.4 410.5,252.3 412.5,253.1 414.7,253.9 417.5,254.7 420.5,255.3 423.7,255.9 426.9,256.5 429.8,257.1 432.7,257.8 435.7,258.5 438.6,259.2 441.0,259.8 442.7,260.3" fill="#a89c90" /><polygon points="443.1,212.2 441.3,213.7 439.0,215.9 436.2,218.3 433.0,220.5 429.4,222.1 425.1,223.2 420.0,224.0 414.6,224.5 409.4,224.8 404.9,224.9 401.3,224.8 398.1,224.4 395.3,223.9 392.7,223.2 390.2,222.5 387.7,221.6 385.4,220.5 383.3,219.4 381.5,218.4 380.2,217.7 379.8,218.3 381.1,219.1 382.8,220.1 385.0,221.3 387.3,222.5 389.8,223.5 392.4,224.3 395.0,225.1 397.9,225.7 401.2,226.1 404.9,226.3 409.4,226.3 414.7,226.1 420.2,225.7 425.4,224.9 430.0,223.9 433.9,222.1 437.4,219.8 440.4,217.4 442.8,215.3 444.5,213.8" fill="#a89c90" /><polygon points="83.3,415.2 211,418 490,423.4 626,423.8 626,436 627,436 627,441.3 83.3,441.3" fill="url(#hatchG)" stroke="none"/><polyline points="83.3,415 83.3,441.3 627,441.3 627,436 626,436 626,417" fill="none" stroke="#8a8a84" stroke-width="0.9"/><polygon points="88,407 210.5,409.5 210.5,418 172,418 172,417.4 125,417.2 125,416.3 88,415.6" fill="#b9b9b9" stroke="#666" stroke-width="0.5"/><polygon points="88,403.7 210.5,406.2 210.5,409.5 88,407.0" fill="#fdfdfd" stroke="#555" stroke-width="0.6"/><line x1="101.6" y1="404.0" x2="101.6" y2="407.3" stroke="#555" stroke-width="0.6"/><line x1="115.2" y1="404.3" x2="115.2" y2="407.6" stroke="#555" stroke-width="0.6"/><line x1="128.8" y1="404.5" x2="128.8" y2="407.8" stroke="#555" stroke-width="0.6"/><line x1="142.4" y1="404.8" x2="142.4" y2="408.1" stroke="#555" stroke-width="0.6"/><line x1="156.1" y1="405.1" x2="156.1" y2="408.4" stroke="#555" stroke-width="0.6"/><line x1="169.7" y1="405.4" x2="169.7" y2="408.7" stroke="#555" stroke-width="0.6"/><line x1="183.3" y1="405.6" x2="183.3" y2="408.9" stroke="#555" stroke-width="0.6"/><line x1="196.9" y1="405.9" x2="196.9" y2="409.2" stroke="#555" stroke-width="0.6"/><rect x="211" y="412" width="6.5" height="9.2" fill="#cfcfcf" stroke="#777" stroke-width="0.5"/><line x1="211" y1="405.8" x2="211" y2="413" stroke="#222" stroke-width="1"/><polygon points="211.5,406.3 490,412 490,414.8 211.5,409.6" fill="url(#dots)" stroke="#666" stroke-width="0.5"/><polygon points="211.5,409.6 490,414.8 490,416.4 211.5,412.3" fill="#f6f4ea" stroke="#777" stroke-width="0.4"/><polygon points="218,412.4 490,416.6 490,421.2 487,423.8 430,422.8 430,422 365,421.2 365,420.4 300,419.4 300,418.8 218,418.2" fill="#e9e5d4" stroke="#77746a" stroke-width="0.5"/><polyline points="218,414.6 260,414.9 260,415.5 330,416.2 330,416.9 400,417.5 400,418.2 490,419" fill="none" stroke="#8a877c" stroke-width="0.4"/><polygon points="490.5,412 511,417.6 511,423.6 490.5,423.6" fill="#fff" stroke="#666" stroke-width="0.6"/><polygon points="485.5,423.6 515,423.6 515,429.6 485.5,429.6" fill="#fff" stroke="#666" stroke-width="0.6"/><line x1="490.5" y1="412" x2="490.5" y2="420" stroke="#222" stroke-width="1"/><rect x="511.3" y="417.2" width="114.5" height="6.6" fill="#c8c8c4" stroke="#777" stroke-width="0.5"/><rect x="524.5" y="417.2" width="101.3" height="3.6" fill="#8e8e8e"/><rect x="511.8" y="417.6" width="12.5" height="2.6" fill="#fff" stroke="#777" stroke-width="0.4"/><rect x="79" y="195" width="8.8" height="219.8" fill="#000"/><text x="320" y="406.2" font-size="5.5" fill="#333">2%</text><line x1="319.5" y1="406.9" x2="328.5" y2="406.9" stroke="#333" stroke-width="0.5"/><polygon points="328,407.8 346,407.3 347.5,408.3 345,408.6 328,408.4" fill="#555"/><path d="M151.2,353.2 c1.6,-1.2 4.6,-1 6,0.6 c1.4,1.8 1.2,5 -0.4,7 l-4.6,0.6 c-1.6,-2 -2.4,-5.8 -1,-8.2z" fill="url(#hatchP)"/><path d="M150.4,364.6 l1.6,1.8 l-11.6,15.6 l-1.6,-1.4z" fill="url(#hatchP)"/><path d="M151.4,388.2 l4.6,1 l-10.2,15 l-3.4,-0.6z M156.2,389 l4.2,-0.6 l1.6,15.8 l-3.6,0.2 l-1.4,-8.4z" fill="url(#hatchP)"/><path d="M165,351.8 c1.8,-1 5,-0.8 6.4,1 c1.2,1.8 1,5 -0.6,7 l-5,0.4 c-1.6,-2.2 -2,-6 -0.8,-8.4z" fill="url(#hatchP)"/><path d="M163.6,360.6 c3,-1 7.4,-0.8 9.6,1 c2,2.6 2.6,7 2.6,12 l-0.2,10 c-0.2,4 -1,6 -2.4,7.2 l-10.6,-0.2 c-1.2,-2 -1.6,-5 -1.4,-9 l0.4,-12 c0.2,-4 0.6,-7 2,-9z" fill="url(#hatchP)"/><path d="M163.4,390.4 l4.6,0.4 l-5.6,13 l-3.6,-0.2z M168.6,390.6 l4.2,-0.2 l0.2,13.4 l-3.4,0.2z" fill="url(#hatchP)"/><path d="M150.6,362.6 c3.4,-1 7.6,-0.6 10,1.6 c1.6,2.4 2,6 2,10 l-0.2,9 c-0.2,3.6 -1.4,6 -3.4,6.8 c-3,0.8 -6.6,0.4 -8.4,-1.4 c-1.6,-2 -2,-5 -1.8,-9 l0.4,-8 c0,-3.6 0.2,-7 1.4,-9z" fill="url(#hatchP)"/><path d="M150.6,362.6 c3.4,-1 7.6,-0.6 10,1.6 c1.6,2.4 2,6 2,10 l-0.2,9 c-0.2,3.6 -1.4,6 -3.4,6.8 c-3,0.8 -6.6,0.4 -8.4,-1.4 c-1.6,-2 -2,-5 -1.8,-9 l0.4,-8 c0,-3.6 0.2,-7 1.4,-9z" fill="url(#hatchP2)"/><path d="M165.4,380 l8,-0.4 l0.4,8.6 l-8,0.6z" fill="url(#hatchP2)"/><line x1="110.5" y1="360.6" x2="110.5" y2="403.6" stroke="#555" stroke-width="0.9"/><circle cx="110.5" cy="352.3" r="8.3" fill="#fff" stroke="#444" stroke-width="0.8"/><text x="110.5" y="355.8" text-anchor="middle" class="bd" font-size="8.5">P2</text><line x1="263.5" y1="362.6" x2="263.5" y2="406.8" stroke="#555" stroke-width="0.9"/><circle cx="263.5" cy="354.3" r="8.3" fill="#fff" stroke="#444" stroke-width="0.8"/><text x="263.5" y="357.8" text-anchor="middle" class="bd" font-size="8.5">P3</text></g>
<g id="secc4"><defs>
<pattern id="hatchT2" width="4.2" height="4.2" patternUnits="userSpaceOnUse" patternTransform="rotate(-55)">
  <line x1="0" y1="0" x2="4.2" y2="0" stroke="#6e5c4c" stroke-width="0.7"/>
</pattern>
<pattern id="hatchP3" width="2.3" height="2.3" patternUnits="userSpaceOnUse" patternTransform="rotate(48)">
  <line x1="0" y1="0" x2="2.3" y2="0" stroke="#868686" stroke-width="0.7"/>
</pattern>
<pattern id="hatchP4" width="2.3" height="2.3" patternUnits="userSpaceOnUse" patternTransform="rotate(-48)">
  <line x1="0" y1="0" x2="2.3" y2="0" stroke="#868686" stroke-width="0.7"/>
</pattern>
<pattern id="dots2" width="3" height="2.4" patternUnits="userSpaceOnUse">
  <rect width="3" height="2.4" fill="#f6f5f0"/><circle cx="1" cy="1.2" r="0.45" fill="#d0cfc6"/>
</pattern>
</defs><clipPath id="clipYel"><circle cx="1039.3" cy="34.9" r="10.8"/><circle cx="1046.8" cy="43.2" r="10"/><circle cx="1025.5" cy="41.2" r="2"/><circle cx="1032.7" cy="64.7" r="10.8"/><circle cx="1047.6" cy="63.1" r="10"/><circle cx="1012.8" cy="72.2" r="10.8"/><circle cx="1099" cy="76.4" r="10.8"/><circle cx="1069.2" cy="83" r="10.8"/><circle cx="1071.6" cy="69.7" r="2"/><circle cx="981.3" cy="100.4" r="10.8"/><circle cx="973" cy="114.5" r="10.3"/><circle cx="1029.4" cy="89.6" r="10.8"/><circle cx="1087.4" cy="102.9" r="10.8"/><circle cx="1057.5" cy="101.2" r="11.5"/><circle cx="997.8" cy="124.5" r="10.8"/><circle cx="992.9" cy="137.7" r="10"/><circle cx="1024.4" cy="122.8" r="10.8"/><circle cx="1074.1" cy="121.1" r="11.5"/><circle cx="1045.9" cy="139.4" r="10.8"/><circle cx="1090.7" cy="146" r="9"/><circle cx="973" cy="152.6" r="5.8"/><circle cx="1007.8" cy="147.7" r="10"/><circle cx="1090.4" cy="123.6" r="2"/><circle cx="968.8" cy="92.6" r="2"/><circle cx="1040" cy="52" r="8"/><circle cx="1040" cy="106" r="10"/><circle cx="1043" cy="78" r="9"/><circle cx="942.9" cy="171.5" r="10"/><circle cx="954.5" cy="177.3" r="10"/><circle cx="966.1" cy="189.8" r="10"/><circle cx="976.1" cy="201.4" r="10.8"/><circle cx="979.4" cy="214.6" r="9"/><circle cx="987.7" cy="174.8" r="5"/><circle cx="876.6" cy="196.4" r="5"/><circle cx="870.8" cy="190.6" r="2"/><circle cx="886.5" cy="203" r="9"/><circle cx="901.5" cy="208" r="10"/><circle cx="917.2" cy="203.8" r="2.3"/><circle cx="914.7" cy="222.9" r="10"/><circle cx="926.3" cy="226.2" r="9"/><circle cx="937.9" cy="239.5" r="9"/><circle cx="949.5" cy="242.8" r="10.8"/><circle cx="913" cy="252.8" r="2.3"/><circle cx="937.9" cy="264.4" r="10.8"/><circle cx="959.5" cy="262.7" r="10"/><circle cx="923.8" cy="272.7" r="3"/><circle cx="934.6" cy="279.3" r="8.3"/><circle cx="962.8" cy="277.6" r="11.6"/><circle cx="979.4" cy="256" r="10.8"/><circle cx="1001" cy="247.8" r="11.6"/><circle cx="1005.9" cy="189.7" r="10.8"/><circle cx="1015.9" cy="183.1" r="10.8"/><circle cx="1009.2" cy="206.3" r="10"/><circle cx="1020.8" cy="213" r="10"/><circle cx="996" cy="227.9" r="9"/><circle cx="1025.8" cy="239.5" r="10"/><circle cx="1045.7" cy="256" r="11.6"/><circle cx="1025.8" cy="269.3" r="10"/><circle cx="1001" cy="272.7" r="10"/><circle cx="1047.4" cy="237.8" r="5"/><circle cx="1044.1" cy="191.4" r="10.8"/><circle cx="1059" cy="196.4" r="10.8"/><circle cx="1075.6" cy="188.1" r="10.8"/><circle cx="1092.2" cy="183.1" r="10"/><circle cx="1088.9" cy="217.9" r="9"/><circle cx="1077.2" cy="239.5" r="9"/><circle cx="1092.2" cy="269.3" r="10.8"/><circle cx="1025.8" cy="148.3" r="10"/><circle cx="1059" cy="150" r="10.8"/><circle cx="1075.6" cy="146.6" r="10"/><circle cx="1009.2" cy="156.6" r="6.6"/><circle cx="894" cy="205" r="8"/><circle cx="1091.3" cy="148.3" r="9"/><circle cx="1083" cy="143.3" r="10"/><circle cx="1122.8" cy="178.1" r="11.6"/><circle cx="1112" cy="174.5" r="2.3"/><circle cx="1096.3" cy="186.4" r="10.8"/><circle cx="1074.7" cy="194.7" r="9"/><circle cx="1053.2" cy="203" r="10"/><circle cx="1114.5" cy="201.4" r="10.8"/><circle cx="1161" cy="181.5" r="11.6"/><circle cx="1176.7" cy="175.2" r="2.3"/><circle cx="1149.4" cy="206.3" r="10"/><circle cx="1156" cy="222.9" r="10"/><circle cx="1146" cy="239.5" r="10"/><circle cx="1093" cy="217.9" r="10.8"/><circle cx="1112.9" cy="221.3" r="10"/><circle cx="1126.1" cy="236.2" r="10.8"/><circle cx="1136.1" cy="247.8" r="9"/><circle cx="1102.9" cy="247.8" r="10.8"/><circle cx="1126.1" cy="256.1" r="9"/><circle cx="1074.7" cy="241.2" r="8.3"/><circle cx="1061.5" cy="249.5" r="6.6"/><circle cx="1091.3" cy="271" r="10.8"/><circle cx="1112.9" cy="272.7" r="10.8"/><circle cx="1136.1" cy="272.7" r="10.8"/><circle cx="1146" cy="271" r="8.3"/><circle cx="1049.9" cy="267.7" r="9"/><circle cx="1140" cy="216" r="9"/><circle cx="1132" cy="226" r="9"/><circle cx="948.1" cy="244.9" r="10.8"/><circle cx="912.4" cy="252.9" r="2.3"/><circle cx="938.1" cy="263.2" r="10.8"/><circle cx="956.4" cy="263.2" r="10"/><circle cx="974.6" cy="258.2" r="10"/><circle cx="923.2" cy="272.3" r="2.7"/><circle cx="934.8" cy="286.4" r="10.8"/><circle cx="961.4" cy="274.8" r="10"/><circle cx="981.3" cy="278.1" r="10"/><circle cx="954.7" cy="298.8" r="5.8"/><circle cx="999.5" cy="253.2" r="11.6"/><circle cx="1016.1" cy="251.6" r="11.6"/><circle cx="1007.8" cy="274.8" r="10.8"/><circle cx="1012.8" cy="286.4" r="10.8"/><circle cx="1027.7" cy="283.1" r="10"/><circle cx="1022.7" cy="296.3" r="5.8"/><circle cx="1045.9" cy="258.2" r="10"/><circle cx="1045.9" cy="279.7" r="9"/><circle cx="1044.3" cy="306.3" r="10.8"/><circle cx="1067.5" cy="284.7" r="10.8"/><circle cx="1062.5" cy="251.6" r="5"/><circle cx="1079.1" cy="238.3" r="10"/><circle cx="1090.7" cy="269.8" r="10.8"/><circle cx="1107.3" cy="249.9" r="12"/><circle cx="1115.6" cy="268.1" r="10"/><circle cx="1132.2" cy="259.9" r="10"/><circle cx="1137.1" cy="276.4" r="6.6"/><circle cx="1107.3" cy="286.4" r="2.3"/><circle cx="1099.8" cy="298.8" r="2.3"/><circle cx="1027.3" cy="95.0" r="8.0"/><circle cx="1024.0" cy="88.0" r="7.2"/><circle cx="1016.2" cy="81.4" r="7.7"/><circle cx="1013.0" cy="74.4" r="8.3"/><circle cx="1012.0" cy="63.7" r="8.8"/><circle cx="1045.6" cy="79.4" r="9.4"/><circle cx="1053.8" cy="73.5" r="8.9"/><circle cx="1050.6" cy="104.1" r="8.7"/><circle cx="1058.3" cy="94.3" r="9.4"/><circle cx="1065.3" cy="91.2" r="9.5"/><circle cx="1072.5" cy="85.4" r="8.1"/><circle cx="1065.2" cy="116.5" r="9.6"/><circle cx="1073.1" cy="109.7" r="7.4"/><circle cx="1076.1" cy="107.7" r="8.2"/><circle cx="1082.5" cy="96.6" r="8.4"/><circle cx="1084.9" cy="88.6" r="8.6"/><circle cx="1088.8" cy="82.8" r="8.9"/><circle cx="1031.0" cy="126.4" r="9.8"/><circle cx="1022.4" cy="117.8" r="9.4"/><circle cx="1018.8" cy="114.1" r="8.6"/><circle cx="1015.8" cy="139.3" r="9.3"/><circle cx="1006.8" cy="136.1" r="7.2"/><circle cx="1000.2" cy="135.5" r="7.2"/><circle cx="992.2" cy="128.2" r="7.4"/><circle cx="982.2" cy="124.9" r="9.4"/><circle cx="974.2" cy="118.2" r="7.1"/><circle cx="1058.2" cy="143.9" r="9.5"/><circle cx="1067.0" cy="139.9" r="9.8"/><circle cx="1069.7" cy="131.1" r="8.7"/><circle cx="1073.0" cy="124.1" r="8.1"/><circle cx="1080.3" cy="116.0" r="7.1"/><circle cx="1023.4" cy="168.5" r="9.7"/><circle cx="1015.1" cy="165.7" r="8.3"/><circle cx="1005.3" cy="162.8" r="8.7"/><circle cx="997.8" cy="158.0" r="9.6"/><circle cx="989.9" cy="152.3" r="9.0"/><circle cx="1023.6" cy="200.5" r="9.7"/><circle cx="1019.1" cy="195.0" r="7.0"/><circle cx="1014.3" cy="187.3" r="7.1"/><circle cx="1012.1" cy="179.1" r="7.2"/><circle cx="1010.3" cy="169.5" r="8.9"/><circle cx="1008.5" cy="224.4" r="9.1"/><circle cx="999.8" cy="215.6" r="8.9"/><circle cx="997.8" cy="210.6" r="8.3"/><circle cx="989.4" cy="204.7" r="8.0"/><circle cx="981.4" cy="198.9" r="8.7"/><circle cx="974.3" cy="193.2" r="9.2"/><circle cx="965.5" cy="189.1" r="9.1"/><circle cx="959.3" cy="182.7" r="9.3"/><circle cx="951.1" cy="178.1" r="8.2"/><circle cx="1006.8" cy="209.3" r="7.9"/><circle cx="1000.6" cy="205.1" r="8.2"/><circle cx="1000.0" cy="193.3" r="7.9"/><circle cx="997.0" cy="188.1" r="8.3"/><circle cx="993.4" cy="175.4" r="8.5"/><circle cx="992.0" cy="170.0" r="9.3"/><circle cx="994.7" cy="270.6" r="9.3"/><circle cx="989.2" cy="268.6" r="8.0"/><circle cx="978.9" cy="261.5" r="9.2"/><circle cx="971.9" cy="257.2" r="8.2"/><circle cx="964.8" cy="253.1" r="9.6"/><circle cx="955.6" cy="246.8" r="9.6"/><circle cx="951.2" cy="247.6" r="8.2"/><circle cx="943.4" cy="243.5" r="7.6"/><circle cx="934.2" cy="239.3" r="8.9"/><circle cx="924.9" cy="232.7" r="8.0"/><circle cx="915.4" cy="227.6" r="8.6"/><circle cx="907.9" cy="226.7" r="7.1"/><circle cx="903.5" cy="221.1" r="9.6"/><circle cx="896.1" cy="217.0" r="8.6"/><circle cx="953.3" cy="236.4" r="7.5"/><circle cx="955.4" cy="245.0" r="8.5"/><circle cx="1066.5" cy="202.3" r="8.7"/><circle cx="1075.1" cy="199.8" r="9.4"/><circle cx="1084.7" cy="202.0" r="8.0"/><circle cx="1092.2" cy="199.4" r="9.3"/><circle cx="1100.8" cy="198.4" r="9.6"/><circle cx="1112.3" cy="195.2" r="7.0"/><circle cx="1050.0" cy="150.5" r="7.1"/><circle cx="1056.6" cy="144.3" r="8.5"/><circle cx="1056.1" cy="165.9" r="9.2"/><circle cx="1062.2" cy="160.3" r="7.4"/><circle cx="1070.4" cy="155.5" r="9.7"/><circle cx="1080.6" cy="149.4" r="8.4"/><circle cx="995.7" cy="252.8" r="8.0"/><circle cx="1005.9" cy="251.2" r="8.0"/><circle cx="1012.1" cy="246.9" r="7.3"/><circle cx="954.3" cy="267.2" r="8.1"/><circle cx="960.8" cy="265.8" r="8.0"/><circle cx="972.5" cy="268.4" r="8.1"/><circle cx="982.4" cy="266.4" r="8.2"/><circle cx="989.1" cy="264.4" r="9.0"/><circle cx="989.6" cy="227.1" r="8.3"/><circle cx="997.4" cy="228.7" r="8.9"/><circle cx="1005.5" cy="228.9" r="8.2"/><circle cx="1018.5" cy="231.5" r="8.0"/><circle cx="1027.6" cy="230.7" r="7.7"/><circle cx="1067.7" cy="230.3" r="9.3"/><circle cx="1077.5" cy="232.4" r="9.2"/><circle cx="1086.2" cy="229.1" r="8.6"/><circle cx="1091.3" cy="224.2" r="7.0"/><circle cx="1098.6" cy="219.7" r="7.1"/><circle cx="1105.0" cy="210.2" r="9.5"/><circle cx="1082.2" cy="235.2" r="9.4"/><circle cx="1090.8" cy="237.7" r="8.9"/><circle cx="1103.2" cy="236.4" r="8.6"/><circle cx="1111.6" cy="229.5" r="9.1"/><circle cx="1118.4" cy="229.2" r="7.3"/><circle cx="1126.9" cy="225.1" r="7.2"/><circle cx="1131.2" cy="217.0" r="9.3"/><circle cx="1137.0" cy="208.6" r="7.7"/><circle cx="1144.8" cy="204.6" r="8.1"/><circle cx="1149.1" cy="195.8" r="8.0"/><circle cx="1154.8" cy="187.1" r="8.4"/><circle cx="1111.2" cy="262.5" r="9.1"/><circle cx="1115.6" cy="260.9" r="9.1"/><circle cx="1126.2" cy="256.1" r="8.4"/><circle cx="1133.3" cy="252.7" r="7.4"/><circle cx="1137.0" cy="245.7" r="9.6"/><circle cx="1144.7" cy="237.1" r="9.0"/><circle cx="1147.8" cy="228.6" r="7.6"/><circle cx="1077.8" cy="270.5" r="7.7"/><circle cx="1087.3" cy="272.7" r="7.8"/><circle cx="1096.3" cy="270.2" r="9.4"/><circle cx="1104.7" cy="270.3" r="7.6"/><circle cx="1110.8" cy="272.5" r="8.1"/><circle cx="1120.5" cy="272.7" r="7.9"/><circle cx="1132.5" cy="272.5" r="9.8"/><circle cx="1140.0" cy="274.7" r="8.3"/><circle cx="1149.3" cy="271.2" r="8.6"/><circle cx="1064.5" cy="246.3" r="9.4"/><circle cx="1072.6" cy="243.4" r="9.7"/><circle cx="1081.7" cy="238.9" r="7.7"/><circle cx="1091.7" cy="239.2" r="9.7"/><circle cx="1101.1" cy="234.9" r="7.5"/><circle cx="1106.6" cy="231.5" r="9.0"/><circle cx="1117.8" cy="231.3" r="7.7"/></clipPath><polygon points="1041.5,408.1 1041.8,380.1 1042.4,340.1 1042.7,310.1 1043.3,270.1 1043.4,230.0 1043.0,180.0 1042.3,130.0 1041.6,90.0 1040.9,50.0 1039.7,50.0 1039.4,90.0 1039.3,130.0 1039.0,180.0 1038.6,230.0 1037.5,269.9 1036.1,309.9 1034.8,339.9 1033.4,379.9 1032.1,407.9" fill="#b4a896" /><polygon points="1041.4,111.8 1038.3,107.7 1034.0,101.8 1029.0,95.1 1024.2,88.3 1020.3,82.5 1017.1,77.2 1014.3,72.1 1011.8,67.3 1009.7,63.3 1008.2,60.4 1007.4,60.8 1008.8,63.8 1010.6,67.9 1012.9,72.8 1015.5,78.1 1018.5,83.5 1022.3,89.6 1026.9,96.6 1031.6,103.5 1035.8,109.5 1038.6,113.8" fill="#a59a8e" /><polygon points="1042.7,87.2 1043.8,86.0 1045.2,84.4 1047.0,82.5 1048.8,80.5 1050.6,78.6 1052.4,76.6 1054.5,74.4 1056.5,72.3 1058.2,70.5 1059.4,69.1 1059.0,68.7 1057.6,69.8 1055.8,71.5 1053.6,73.5 1051.4,75.6 1049.4,77.4 1047.5,79.2 1045.5,81.1 1043.7,82.8 1042.0,84.3 1040.9,85.4" fill="#a59a8e" /><polygon points="1042.2,115.9 1044.4,113.9 1047.5,111.1 1051.3,107.9 1055.2,104.3 1058.8,100.8 1062.4,96.9 1066.2,92.5 1069.9,88.1 1073.1,84.3 1075.3,81.6 1074.7,81.0 1072.3,83.6 1068.9,87.2 1065.0,91.4 1061.0,95.6 1057.2,99.2 1053.5,102.5 1049.5,105.7 1045.6,108.8 1042.3,111.3 1039.8,113.1" fill="#a59a8e" /><polygon points="1042.8,132.9 1047.2,130.3 1053.7,126.7 1061.0,122.5 1068.0,118.1 1073.5,114.0 1077.2,110.2 1079.8,106.5 1081.7,102.8 1083.3,99.2 1084.9,95.4 1086.5,91.1 1088.0,86.3 1089.3,81.7 1090.4,77.6 1091.1,74.8 1090.3,74.6 1089.4,77.4 1088.1,81.3 1086.6,85.9 1085.0,90.5 1083.1,94.6 1081.3,98.3 1079.6,101.7 1077.6,105.1 1075.1,108.3 1071.5,111.6 1066.2,115.4 1059.3,119.5 1051.9,123.5 1045.3,126.9 1040.8,129.3" fill="#a59a8e" /><polygon points="1039.9,129.7 1037.5,128.7 1034.0,127.5 1030.1,125.9 1026.4,124.0 1023.3,122.1 1020.9,119.6 1018.7,116.5 1016.7,113.3 1015.1,110.5 1013.9,108.5 1013.3,108.9 1014.3,110.9 1015.7,113.9 1017.5,117.3 1019.6,120.6 1022.1,123.5 1025.3,125.9 1029.1,128.0 1033.0,129.9 1036.4,131.4 1038.7,132.5" fill="#a59a8e" /><polygon points="1039.6,145.7 1036.2,145.2 1031.6,144.7 1026.1,143.9 1020.4,142.8 1014.9,141.3 1009.4,139.1 1003.3,136.3 997.3,133.1 991.6,130.0 986.7,127.0 982.5,124.0 978.8,120.9 975.5,117.8 972.8,115.2 970.8,113.4 970.2,114.0 972.1,116.0 974.6,118.7 977.8,122.0 981.5,125.4 985.7,128.6 990.5,131.8 996.2,135.2 1002.2,138.6 1008.2,141.6 1013.9,144.1 1019.6,146.0 1025.5,147.4 1031.0,148.4 1035.7,149.1 1039.0,149.7" fill="#a59a8e" /><polygon points="1042.6,155.9 1045.9,154.1 1050.8,151.7 1056.4,148.8 1061.9,145.4 1066.5,141.8 1070.2,137.5 1073.5,132.4 1076.3,127.3 1078.6,122.8 1080.2,119.7 1079.6,119.3 1077.7,122.3 1075.2,126.6 1072.1,131.5 1068.7,136.3 1065.1,140.2 1060.6,143.4 1055.1,146.3 1049.5,149.0 1044.5,151.1 1041.0,152.7" fill="#a59a8e" /><polygon points="1040.8,180.1 1038.9,179.0 1036.2,177.4 1033.0,175.6 1029.6,173.7 1026.3,172.1 1023.2,170.8 1020.2,169.9 1017.1,168.9 1013.6,167.6 1009.7,165.8 1004.6,163.0 998.4,159.3 992.2,155.4 986.7,152.0 982.9,149.7 982.5,150.3 986.2,152.8 991.6,156.3 997.8,160.3 1003.8,164.2 1008.9,167.2 1012.9,169.2 1016.4,170.7 1019.5,171.9 1022.4,173.0 1025.3,174.3 1028.4,176.0 1031.6,178.0 1034.6,180.0 1037.2,181.7 1039.0,182.9" fill="#a59a8e" /><polygon points="1040.7,211.7 1038.2,210.2 1034.5,208.2 1030.4,205.8 1026.5,203.2 1023.3,200.6 1020.9,197.8 1018.7,194.6 1016.8,191.3 1015.2,187.9 1013.7,184.7 1012.5,181.5 1011.5,178.0 1010.7,174.7 1010.1,171.9 1009.6,169.8 1009.0,170.0 1009.3,172.0 1009.7,174.9 1010.4,178.3 1011.2,181.8 1012.3,185.3 1013.6,188.6 1015.2,192.1 1017.0,195.6 1019.1,199.0 1021.7,202.2 1025.0,205.2 1029.0,208.0 1033.1,210.6 1036.7,212.8 1039.1,214.3" fill="#a59a8e" /><polygon points="1040.3,244.3 1035.7,241.3 1029.1,237.0 1021.6,232.0 1013.9,226.7 1006.9,221.6 1000.7,216.6 994.6,211.1 988.6,205.6 982.6,200.3 976.7,195.6 970.4,191.3 963.7,187.3 957.4,183.7 952.0,180.8 948.1,178.7 947.7,179.3 951.5,181.7 956.8,184.8 963.0,188.6 969.4,192.8 975.5,197.2 981.2,202.0 986.9,207.4 992.7,213.1 998.7,218.8 1004.9,224.2 1011.8,229.5 1019.5,235.0 1026.9,240.3 1033.4,244.7 1037.9,247.9" fill="#a59a8e" /><polygon points="1020.6,231.9 1018.5,229.1 1015.4,225.0 1012.0,220.3 1008.7,215.6 1006.1,211.4 1004.1,208.0 1002.4,205.0 1001.0,202.0 999.7,198.6 998.4,194.5 997.1,188.9 995.8,182.2 994.7,175.2 993.8,169.1 993.0,164.8 992.4,165.0 992.9,169.2 993.7,175.4 994.6,182.3 995.7,189.2 996.8,194.9 998.0,199.2 999.2,202.7 1000.5,205.9 1002.0,209.1 1003.9,212.6 1006.5,217.0 1009.7,221.9 1013.0,226.7 1015.9,230.9 1017.8,233.9" fill="#a59a8e" /><polygon points="1036.6,309.5 1036.4,307.8 1036.4,305.3 1036.1,302.1 1034.9,298.5 1032.5,295.0 1028.9,291.9 1024.7,289.0 1019.7,285.9 1013.8,282.4 1006.9,278.4 998.6,273.4 988.9,267.7 978.5,261.7 968.2,255.8 958.5,250.6 949.5,246.0 940.5,241.9 931.9,238.1 924.0,234.5 917.0,231.0 910.8,227.5 905.2,224.0 900.3,220.7 896.4,217.9 893.4,216.0 893.0,216.6 895.8,218.7 899.7,221.6 904.5,225.0 910.0,228.7 916.2,232.4 923.2,236.0 931.1,239.8 939.7,243.8 948.5,248.0 957.5,252.6 966.9,258.0 977.2,263.9 987.5,270.1 997.1,276.0 1005.3,281.0 1012.1,285.2 1017.9,288.8 1022.7,291.9 1026.6,294.8 1029.5,297.6 1031.3,300.3 1032.0,302.9 1032.1,305.5 1031.9,307.9 1032.0,309.7" fill="#a59a8e" /><polygon points="954.0,231.3 956.3,250.0 956.9,250.0 956.8,231.1" fill="#a59a8e" /><polygon points="1042.1,199.9 1046.7,200.6 1053.4,201.7 1061.1,203.0 1068.8,204.0 1075.5,204.4 1081.2,204.3 1086.5,203.7 1091.3,202.8 1095.9,201.8 1100.2,200.6 1104.5,199.1 1108.7,197.3 1112.5,195.4 1115.7,193.7 1118.0,192.6 1117.6,191.8 1115.3,192.8 1112.0,194.3 1108.2,196.0 1104.0,197.6 1099.8,198.8 1095.5,199.8 1090.9,200.6 1086.2,201.3 1081.1,201.6 1075.7,201.6 1069.2,200.9 1061.6,199.7 1054.0,198.3 1047.4,197.0 1042.7,196.1" fill="#a59a8e" /><polygon points="1042.9,154.5 1064.1,145.3 1063.9,144.7 1041.9,152.1" fill="#a59a8e" /><polygon points="1043.1,175.0 1046.6,173.6 1051.6,171.6 1057.4,169.3 1063.1,166.8 1067.9,164.2 1071.8,161.4 1075.3,158.2 1078.3,155.0 1080.7,152.2 1082.5,150.3 1081.9,149.7 1079.9,151.5 1077.3,154.0 1074.1,156.9 1070.5,159.7 1066.7,162.2 1062.0,164.4 1056.3,166.5 1050.5,168.5 1045.3,170.2 1041.7,171.4" fill="#a59a8e" /><polygon points="986.4,260.6 1019.3,248.1 1019.1,247.5 985.6,258.2" fill="#a59a8e" /><polygon points="967.7,242.2 971.3,242.5 976.4,243.0 982.3,243.5 988.1,243.7 992.8,243.5 996.5,242.5 999.7,240.9 1002.4,239.1 1004.5,237.5 1006.1,236.5 1005.7,235.9 1004.1,236.9 1001.9,238.4 999.2,240.0 996.1,241.3 992.6,242.1 988.1,242.2 982.4,241.9 976.6,241.2 971.5,240.6 967.9,240.2" fill="#a59a8e" /><polygon points="936.0,264.7 939.5,265.6 944.5,266.9 950.5,268.4 956.7,269.6 962.8,270.2 969.1,270.0 976.0,269.2 982.8,268.1 988.6,267.0 992.8,266.3 992.6,265.7 988.5,266.2 982.6,267.0 975.9,267.9 969.0,268.5 962.8,268.6 957.0,267.8 950.9,266.4 945.1,264.8 940.2,263.3 936.6,262.3" fill="#a59a8e" /><polygon points="973.9,222.5 977.0,223.8 981.3,225.7 986.5,227.9 992.0,229.8 997.4,231.2 1003.3,231.8 1009.9,232.0 1016.3,231.9 1021.9,231.7 1025.8,231.5 1025.8,230.9 1021.9,230.8 1016.3,230.8 1009.9,230.7 1003.4,230.4 997.8,229.6 992.6,228.1 987.2,226.0 982.2,223.7 978.0,221.6 974.9,220.1" fill="#a59a8e" /><polygon points="1043.5,239.7 1049.6,238.7 1058.4,237.3 1068.4,235.6 1078.4,233.5 1086.7,230.7 1093.7,226.8 1099.9,221.9 1105.4,216.7 1109.9,212.2 1113.2,209.1 1112.6,208.5 1109.2,211.4 1104.5,215.7 1098.9,220.5 1092.6,225.1 1085.9,228.5 1077.7,230.9 1067.9,232.7 1057.9,234.1 1049.1,235.1 1042.9,235.9" fill="#a59a8e" /><polygon points="1044.4,258.3 1047.7,256.3 1052.2,253.5 1057.7,250.4 1063.8,247.3 1070.4,244.7 1078.1,242.5 1087.1,240.7 1096.6,238.9 1105.7,236.8 1113.4,234.2 1119.5,231.1 1124.4,227.5 1128.7,223.7 1132.6,219.6 1136.8,215.2 1141.5,209.9 1146.4,203.8 1151.1,197.6 1155.1,192.1 1157.9,188.3 1157.3,187.9 1154.3,191.5 1150.1,196.8 1145.3,202.9 1140.2,208.9 1135.4,214.0 1131.2,218.2 1127.1,222.1 1122.9,225.6 1118.2,228.8 1112.4,231.6 1104.9,233.9 1096.0,235.7 1086.5,237.3 1077.3,238.9 1069.2,240.9 1062.2,243.6 1055.7,246.6 1050.0,249.6 1045.4,252.2 1042.0,253.9" fill="#a59a8e" /><polygon points="1081.9,274.3 1087.3,272.7 1095.2,270.5 1104.1,267.9 1112.9,265.1 1120.0,262.2 1125.3,259.4 1129.7,256.4 1133.4,253.3 1136.8,250.1 1140.0,246.6 1143.3,242.5 1146.3,237.9 1149.1,233.2 1151.4,229.2 1153.0,226.4 1152.4,226.0 1150.6,228.8 1148.2,232.7 1145.3,237.2 1142.1,241.7 1138.8,245.6 1135.5,248.8 1132.2,251.9 1128.5,254.7 1124.2,257.4 1119.0,260.0 1112.0,262.6 1103.3,265.2 1094.4,267.6 1086.5,269.6 1080.9,271.1" fill="#a59a8e" /><polygon points="1042.3,286.3 1047.7,284.4 1055.3,281.6 1064.2,278.6 1073.3,276.0 1081.6,274.3 1089.4,273.9 1097.4,274.2 1105.4,275.0 1112.8,275.9 1119.4,276.4 1124.9,276.8 1129.7,277.2 1133.9,277.5 1137.8,277.5 1141.3,276.8 1144.6,275.2 1147.5,272.8 1149.8,270.2 1151.6,267.9 1153.0,266.3 1152.4,265.7 1150.9,267.2 1149.0,269.4 1146.6,271.8 1143.9,273.9 1140.9,275.2 1137.6,275.7 1134.0,275.6 1129.9,275.1 1125.1,274.5 1119.6,274.0 1113.1,273.3 1105.7,272.3 1097.7,271.3 1089.4,270.8 1081.2,271.1 1072.5,272.6 1063.2,275.1 1054.1,278.0 1046.4,280.6 1040.9,282.3" fill="#a59a8e" /><polygon points="932.6,273.3 935.6,275.2 940.0,278.0 945.0,281.1 950.1,283.9 954.5,285.6 958.0,286.0 960.9,285.6 963.7,284.6 966.5,283.4 969.9,282.0 974.4,280.2 979.7,277.9 985.1,275.5 989.8,273.3 993.0,271.8 992.8,271.2 989.4,272.6 984.7,274.6 979.3,277.0 974.0,279.2 969.5,280.8 966.0,282.1 963.2,283.3 960.6,284.1 958.0,284.3 954.9,283.8 950.9,282.2 946.0,279.4 941.1,276.2 936.8,273.3 933.8,271.3" fill="#a59a8e" /><polygon points="1005.1,279.4 1004.5,281.8 1003.7,285.2 1002.7,289.1 1001.7,292.9 1000.6,296.0 999.4,298.6 997.9,301.0 996.4,303.1 995.1,304.8 994.3,306.1 994.7,306.5 995.7,305.3 997.1,303.6 998.8,301.6 1000.4,299.2 1001.8,296.6 1003.1,293.4 1004.3,289.6 1005.4,285.7 1006.4,282.3 1007.1,280.0" fill="#a59a8e" /><polygon points="1061.8,280.5 1064.0,282.4 1067.0,285.1 1070.5,288.3 1074.2,291.6 1077.6,294.5 1080.9,297.2 1084.5,300.1 1088.0,302.7 1090.9,305.0 1093.0,306.5 1093.4,306.1 1091.4,304.4 1088.5,302.0 1085.2,299.3 1081.7,296.3 1078.4,293.5 1075.2,290.5 1071.6,287.1 1068.2,283.8 1065.3,281.0 1063.2,278.9" fill="#a59a8e" /><polygon points="1042.8,263.0 1045.9,260.8 1050.2,257.6 1055.2,254.1 1060.7,250.7 1066.3,247.8 1072.4,245.7 1079.3,243.9 1086.5,242.3 1093.3,240.8 1099.3,239.1 1104.4,237.2 1109.1,235.2 1113.3,233.3 1116.6,231.6 1119.1,230.4 1118.7,229.6 1116.2,230.7 1112.8,232.2 1108.6,234.0 1103.9,235.8 1098.7,237.5 1092.8,238.9 1086.0,240.3 1078.8,241.7 1071.7,243.3 1065.3,245.4 1059.3,248.1 1053.6,251.5 1048.3,255.0 1043.9,258.0 1040.8,260.0" fill="#a59a8e" /><polygon points="984.8,260.0 988.0,259.5 992.8,258.7 998.3,257.8 1003.6,256.8 1008.0,255.5 1011.6,253.9 1014.7,251.9 1017.4,249.9 1019.6,248.1 1021.2,246.8 1020.8,246.4 1019.1,247.5 1016.9,249.2 1014.1,251.1 1011.0,252.8 1007.6,254.3 1003.3,255.3 998.0,256.2 992.6,257.0 987.8,257.6 984.4,258.0" fill="#a59a8e" /><polygon points="966.2,243.3 968.9,243.6 972.7,244.2 977.2,244.7 981.9,245.0 986.3,244.7 990.7,243.6 995.3,241.8 999.7,239.9 1003.5,238.1 1006.2,236.9 1006.0,236.3 1003.2,237.4 999.4,239.1 994.9,241.0 990.3,242.6 986.1,243.5 981.9,243.7 977.4,243.3 972.9,242.6 969.1,241.9 966.4,241.5" fill="#a59a8e" /><g fill="#dcd482"><circle cx="1039.3" cy="34.9" r="10.8"/><circle cx="1046.8" cy="43.2" r="10"/><circle cx="1025.5" cy="41.2" r="2"/><circle cx="1032.7" cy="64.7" r="10.8"/><circle cx="1047.6" cy="63.1" r="10"/><circle cx="1012.8" cy="72.2" r="10.8"/><circle cx="1099" cy="76.4" r="10.8"/><circle cx="1069.2" cy="83" r="10.8"/><circle cx="1071.6" cy="69.7" r="2"/><circle cx="981.3" cy="100.4" r="10.8"/><circle cx="973" cy="114.5" r="10.3"/><circle cx="1029.4" cy="89.6" r="10.8"/><circle cx="1087.4" cy="102.9" r="10.8"/><circle cx="1057.5" cy="101.2" r="11.5"/><circle cx="997.8" cy="124.5" r="10.8"/><circle cx="992.9" cy="137.7" r="10"/><circle cx="1024.4" cy="122.8" r="10.8"/><circle cx="1074.1" cy="121.1" r="11.5"/><circle cx="1045.9" cy="139.4" r="10.8"/><circle cx="1090.7" cy="146" r="9"/><circle cx="973" cy="152.6" r="5.8"/><circle cx="1007.8" cy="147.7" r="10"/><circle cx="1090.4" cy="123.6" r="2"/><circle cx="968.8" cy="92.6" r="2"/><circle cx="1040" cy="52" r="8"/><circle cx="1040" cy="106" r="10"/><circle cx="1043" cy="78" r="9"/><circle cx="942.9" cy="171.5" r="10"/><circle cx="954.5" cy="177.3" r="10"/><circle cx="966.1" cy="189.8" r="10"/><circle cx="976.1" cy="201.4" r="10.8"/><circle cx="979.4" cy="214.6" r="9"/><circle cx="987.7" cy="174.8" r="5"/><circle cx="876.6" cy="196.4" r="5"/><circle cx="870.8" cy="190.6" r="2"/><circle cx="886.5" cy="203" r="9"/><circle cx="901.5" cy="208" r="10"/><circle cx="917.2" cy="203.8" r="2.3"/><circle cx="914.7" cy="222.9" r="10"/><circle cx="926.3" cy="226.2" r="9"/><circle cx="937.9" cy="239.5" r="9"/><circle cx="949.5" cy="242.8" r="10.8"/><circle cx="913" cy="252.8" r="2.3"/><circle cx="937.9" cy="264.4" r="10.8"/><circle cx="959.5" cy="262.7" r="10"/><circle cx="923.8" cy="272.7" r="3"/><circle cx="934.6" cy="279.3" r="8.3"/><circle cx="962.8" cy="277.6" r="11.6"/><circle cx="979.4" cy="256" r="10.8"/><circle cx="1001" cy="247.8" r="11.6"/><circle cx="1005.9" cy="189.7" r="10.8"/><circle cx="1015.9" cy="183.1" r="10.8"/><circle cx="1009.2" cy="206.3" r="10"/><circle cx="1020.8" cy="213" r="10"/><circle cx="996" cy="227.9" r="9"/><circle cx="1025.8" cy="239.5" r="10"/><circle cx="1045.7" cy="256" r="11.6"/><circle cx="1025.8" cy="269.3" r="10"/><circle cx="1001" cy="272.7" r="10"/><circle cx="1047.4" cy="237.8" r="5"/><circle cx="1044.1" cy="191.4" r="10.8"/><circle cx="1059" cy="196.4" r="10.8"/><circle cx="1075.6" cy="188.1" r="10.8"/><circle cx="1092.2" cy="183.1" r="10"/><circle cx="1088.9" cy="217.9" r="9"/><circle cx="1077.2" cy="239.5" r="9"/><circle cx="1092.2" cy="269.3" r="10.8"/><circle cx="1025.8" cy="148.3" r="10"/><circle cx="1059" cy="150" r="10.8"/><circle cx="1075.6" cy="146.6" r="10"/><circle cx="1009.2" cy="156.6" r="6.6"/><circle cx="894" cy="205" r="8"/><circle cx="1091.3" cy="148.3" r="9"/><circle cx="1083" cy="143.3" r="10"/><circle cx="1122.8" cy="178.1" r="11.6"/><circle cx="1112" cy="174.5" r="2.3"/><circle cx="1096.3" cy="186.4" r="10.8"/><circle cx="1074.7" cy="194.7" r="9"/><circle cx="1053.2" cy="203" r="10"/><circle cx="1114.5" cy="201.4" r="10.8"/><circle cx="1161" cy="181.5" r="11.6"/><circle cx="1176.7" cy="175.2" r="2.3"/><circle cx="1149.4" cy="206.3" r="10"/><circle cx="1156" cy="222.9" r="10"/><circle cx="1146" cy="239.5" r="10"/><circle cx="1093" cy="217.9" r="10.8"/><circle cx="1112.9" cy="221.3" r="10"/><circle cx="1126.1" cy="236.2" r="10.8"/><circle cx="1136.1" cy="247.8" r="9"/><circle cx="1102.9" cy="247.8" r="10.8"/><circle cx="1126.1" cy="256.1" r="9"/><circle cx="1074.7" cy="241.2" r="8.3"/><circle cx="1061.5" cy="249.5" r="6.6"/><circle cx="1091.3" cy="271" r="10.8"/><circle cx="1112.9" cy="272.7" r="10.8"/><circle cx="1136.1" cy="272.7" r="10.8"/><circle cx="1146" cy="271" r="8.3"/><circle cx="1049.9" cy="267.7" r="9"/><circle cx="1140" cy="216" r="9"/><circle cx="1132" cy="226" r="9"/><circle cx="948.1" cy="244.9" r="10.8"/><circle cx="912.4" cy="252.9" r="2.3"/><circle cx="938.1" cy="263.2" r="10.8"/><circle cx="956.4" cy="263.2" r="10"/><circle cx="974.6" cy="258.2" r="10"/><circle cx="923.2" cy="272.3" r="2.7"/><circle cx="934.8" cy="286.4" r="10.8"/><circle cx="961.4" cy="274.8" r="10"/><circle cx="981.3" cy="278.1" r="10"/><circle cx="954.7" cy="298.8" r="5.8"/><circle cx="999.5" cy="253.2" r="11.6"/><circle cx="1016.1" cy="251.6" r="11.6"/><circle cx="1007.8" cy="274.8" r="10.8"/><circle cx="1012.8" cy="286.4" r="10.8"/><circle cx="1027.7" cy="283.1" r="10"/><circle cx="1022.7" cy="296.3" r="5.8"/><circle cx="1045.9" cy="258.2" r="10"/><circle cx="1045.9" cy="279.7" r="9"/><circle cx="1044.3" cy="306.3" r="10.8"/><circle cx="1067.5" cy="284.7" r="10.8"/><circle cx="1062.5" cy="251.6" r="5"/><circle cx="1079.1" cy="238.3" r="10"/><circle cx="1090.7" cy="269.8" r="10.8"/><circle cx="1107.3" cy="249.9" r="12"/><circle cx="1115.6" cy="268.1" r="10"/><circle cx="1132.2" cy="259.9" r="10"/><circle cx="1137.1" cy="276.4" r="6.6"/><circle cx="1107.3" cy="286.4" r="2.3"/><circle cx="1099.8" cy="298.8" r="2.3"/><circle cx="1027.3" cy="95.0" r="8.0"/><circle cx="1024.0" cy="88.0" r="7.2"/><circle cx="1016.2" cy="81.4" r="7.7"/><circle cx="1013.0" cy="74.4" r="8.3"/><circle cx="1012.0" cy="63.7" r="8.8"/><circle cx="1045.6" cy="79.4" r="9.4"/><circle cx="1053.8" cy="73.5" r="8.9"/><circle cx="1050.6" cy="104.1" r="8.7"/><circle cx="1058.3" cy="94.3" r="9.4"/><circle cx="1065.3" cy="91.2" r="9.5"/><circle cx="1072.5" cy="85.4" r="8.1"/><circle cx="1065.2" cy="116.5" r="9.6"/><circle cx="1073.1" cy="109.7" r="7.4"/><circle cx="1076.1" cy="107.7" r="8.2"/><circle cx="1082.5" cy="96.6" r="8.4"/><circle cx="1084.9" cy="88.6" r="8.6"/><circle cx="1088.8" cy="82.8" r="8.9"/><circle cx="1031.0" cy="126.4" r="9.8"/><circle cx="1022.4" cy="117.8" r="9.4"/><circle cx="1018.8" cy="114.1" r="8.6"/><circle cx="1015.8" cy="139.3" r="9.3"/><circle cx="1006.8" cy="136.1" r="7.2"/><circle cx="1000.2" cy="135.5" r="7.2"/><circle cx="992.2" cy="128.2" r="7.4"/><circle cx="982.2" cy="124.9" r="9.4"/><circle cx="974.2" cy="118.2" r="7.1"/><circle cx="1058.2" cy="143.9" r="9.5"/><circle cx="1067.0" cy="139.9" r="9.8"/><circle cx="1069.7" cy="131.1" r="8.7"/><circle cx="1073.0" cy="124.1" r="8.1"/><circle cx="1080.3" cy="116.0" r="7.1"/><circle cx="1023.4" cy="168.5" r="9.7"/><circle cx="1015.1" cy="165.7" r="8.3"/><circle cx="1005.3" cy="162.8" r="8.7"/><circle cx="997.8" cy="158.0" r="9.6"/><circle cx="989.9" cy="152.3" r="9.0"/><circle cx="1023.6" cy="200.5" r="9.7"/><circle cx="1019.1" cy="195.0" r="7.0"/><circle cx="1014.3" cy="187.3" r="7.1"/><circle cx="1012.1" cy="179.1" r="7.2"/><circle cx="1010.3" cy="169.5" r="8.9"/><circle cx="1008.5" cy="224.4" r="9.1"/><circle cx="999.8" cy="215.6" r="8.9"/><circle cx="997.8" cy="210.6" r="8.3"/><circle cx="989.4" cy="204.7" r="8.0"/><circle cx="981.4" cy="198.9" r="8.7"/><circle cx="974.3" cy="193.2" r="9.2"/><circle cx="965.5" cy="189.1" r="9.1"/><circle cx="959.3" cy="182.7" r="9.3"/><circle cx="951.1" cy="178.1" r="8.2"/><circle cx="1006.8" cy="209.3" r="7.9"/><circle cx="1000.6" cy="205.1" r="8.2"/><circle cx="1000.0" cy="193.3" r="7.9"/><circle cx="997.0" cy="188.1" r="8.3"/><circle cx="993.4" cy="175.4" r="8.5"/><circle cx="992.0" cy="170.0" r="9.3"/><circle cx="994.7" cy="270.6" r="9.3"/><circle cx="989.2" cy="268.6" r="8.0"/><circle cx="978.9" cy="261.5" r="9.2"/><circle cx="971.9" cy="257.2" r="8.2"/><circle cx="964.8" cy="253.1" r="9.6"/><circle cx="955.6" cy="246.8" r="9.6"/><circle cx="951.2" cy="247.6" r="8.2"/><circle cx="943.4" cy="243.5" r="7.6"/><circle cx="934.2" cy="239.3" r="8.9"/><circle cx="924.9" cy="232.7" r="8.0"/><circle cx="915.4" cy="227.6" r="8.6"/><circle cx="907.9" cy="226.7" r="7.1"/><circle cx="903.5" cy="221.1" r="9.6"/><circle cx="896.1" cy="217.0" r="8.6"/><circle cx="953.3" cy="236.4" r="7.5"/><circle cx="955.4" cy="245.0" r="8.5"/><circle cx="1066.5" cy="202.3" r="8.7"/><circle cx="1075.1" cy="199.8" r="9.4"/><circle cx="1084.7" cy="202.0" r="8.0"/><circle cx="1092.2" cy="199.4" r="9.3"/><circle cx="1100.8" cy="198.4" r="9.6"/><circle cx="1112.3" cy="195.2" r="7.0"/><circle cx="1050.0" cy="150.5" r="7.1"/><circle cx="1056.6" cy="144.3" r="8.5"/><circle cx="1056.1" cy="165.9" r="9.2"/><circle cx="1062.2" cy="160.3" r="7.4"/><circle cx="1070.4" cy="155.5" r="9.7"/><circle cx="1080.6" cy="149.4" r="8.4"/><circle cx="995.7" cy="252.8" r="8.0"/><circle cx="1005.9" cy="251.2" r="8.0"/><circle cx="1012.1" cy="246.9" r="7.3"/><circle cx="954.3" cy="267.2" r="8.1"/><circle cx="960.8" cy="265.8" r="8.0"/><circle cx="972.5" cy="268.4" r="8.1"/><circle cx="982.4" cy="266.4" r="8.2"/><circle cx="989.1" cy="264.4" r="9.0"/><circle cx="989.6" cy="227.1" r="8.3"/><circle cx="997.4" cy="228.7" r="8.9"/><circle cx="1005.5" cy="228.9" r="8.2"/><circle cx="1018.5" cy="231.5" r="8.0"/><circle cx="1027.6" cy="230.7" r="7.7"/><circle cx="1067.7" cy="230.3" r="9.3"/><circle cx="1077.5" cy="232.4" r="9.2"/><circle cx="1086.2" cy="229.1" r="8.6"/><circle cx="1091.3" cy="224.2" r="7.0"/><circle cx="1098.6" cy="219.7" r="7.1"/><circle cx="1105.0" cy="210.2" r="9.5"/><circle cx="1082.2" cy="235.2" r="9.4"/><circle cx="1090.8" cy="237.7" r="8.9"/><circle cx="1103.2" cy="236.4" r="8.6"/><circle cx="1111.6" cy="229.5" r="9.1"/><circle cx="1118.4" cy="229.2" r="7.3"/><circle cx="1126.9" cy="225.1" r="7.2"/><circle cx="1131.2" cy="217.0" r="9.3"/><circle cx="1137.0" cy="208.6" r="7.7"/><circle cx="1144.8" cy="204.6" r="8.1"/><circle cx="1149.1" cy="195.8" r="8.0"/><circle cx="1154.8" cy="187.1" r="8.4"/><circle cx="1111.2" cy="262.5" r="9.1"/><circle cx="1115.6" cy="260.9" r="9.1"/><circle cx="1126.2" cy="256.1" r="8.4"/><circle cx="1133.3" cy="252.7" r="7.4"/><circle cx="1137.0" cy="245.7" r="9.6"/><circle cx="1144.7" cy="237.1" r="9.0"/><circle cx="1147.8" cy="228.6" r="7.6"/><circle cx="1077.8" cy="270.5" r="7.7"/><circle cx="1087.3" cy="272.7" r="7.8"/><circle cx="1096.3" cy="270.2" r="9.4"/><circle cx="1104.7" cy="270.3" r="7.6"/><circle cx="1110.8" cy="272.5" r="8.1"/><circle cx="1120.5" cy="272.7" r="7.9"/><circle cx="1132.5" cy="272.5" r="9.8"/><circle cx="1140.0" cy="274.7" r="8.3"/><circle cx="1149.3" cy="271.2" r="8.6"/><circle cx="1064.5" cy="246.3" r="9.4"/><circle cx="1072.6" cy="243.4" r="9.7"/><circle cx="1081.7" cy="238.9" r="7.7"/><circle cx="1091.7" cy="239.2" r="9.7"/><circle cx="1101.1" cy="234.9" r="7.5"/><circle cx="1106.6" cy="231.5" r="9.0"/><circle cx="1117.8" cy="231.3" r="7.7"/></g><g clip-path="url(#clipYel)" stroke-width="0.7"><line x1="865" y1="29.6" x2="1185" y2="29.6" stroke="#f1ee9c"/><line x1="865" y1="39.8" x2="1185" y2="39.8" stroke="#e6e2c4"/><line x1="865" y1="49.9" x2="1185" y2="49.9" stroke="#f1ee9c"/><line x1="865" y1="60.0" x2="1185" y2="60.0" stroke="#e6e2c4"/><line x1="865" y1="70.2" x2="1185" y2="70.2" stroke="#f1ee9c"/><line x1="865" y1="80.4" x2="1185" y2="80.4" stroke="#e6e2c4"/><line x1="865" y1="90.5" x2="1185" y2="90.5" stroke="#f1ee9c"/><line x1="865" y1="100.7" x2="1185" y2="100.7" stroke="#e6e2c4"/><line x1="865" y1="110.8" x2="1185" y2="110.8" stroke="#f1ee9c"/><line x1="865" y1="121.0" x2="1185" y2="121.0" stroke="#e6e2c4"/><line x1="865" y1="131.1" x2="1185" y2="131.1" stroke="#f1ee9c"/><line x1="865" y1="141.3" x2="1185" y2="141.3" stroke="#e6e2c4"/><line x1="865" y1="151.4" x2="1185" y2="151.4" stroke="#f1ee9c"/><line x1="865" y1="161.6" x2="1185" y2="161.6" stroke="#e6e2c4"/><line x1="865" y1="171.7" x2="1185" y2="171.7" stroke="#f1ee9c"/><line x1="865" y1="181.9" x2="1185" y2="181.9" stroke="#e6e2c4"/><line x1="865" y1="192.0" x2="1185" y2="192.0" stroke="#f1ee9c"/><line x1="865" y1="202.2" x2="1185" y2="202.2" stroke="#e6e2c4"/><line x1="865" y1="212.3" x2="1185" y2="212.3" stroke="#f1ee9c"/><line x1="865" y1="222.5" x2="1185" y2="222.5" stroke="#e6e2c4"/><line x1="865" y1="232.6" x2="1185" y2="232.6" stroke="#f1ee9c"/><line x1="865" y1="242.8" x2="1185" y2="242.8" stroke="#e6e2c4"/><line x1="865" y1="252.9" x2="1185" y2="252.9" stroke="#f1ee9c"/><line x1="865" y1="263.1" x2="1185" y2="263.1" stroke="#e6e2c4"/><line x1="865" y1="273.2" x2="1185" y2="273.2" stroke="#f1ee9c"/><line x1="865" y1="283.4" x2="1185" y2="283.4" stroke="#e6e2c4"/><line x1="865" y1="293.5" x2="1185" y2="293.5" stroke="#f1ee9c"/><line x1="865" y1="303.6" x2="1185" y2="303.6" stroke="#e6e2c4"/><line x1="865" y1="313.8" x2="1185" y2="313.8" stroke="#f1ee9c"/></g><g clip-path="url(#clipYel)"><polygon points="1041.5,408.1 1041.8,380.1 1042.4,340.1 1042.7,310.1 1043.3,270.1 1043.4,230.0 1043.0,180.0 1042.3,130.0 1041.6,90.0 1040.9,50.0 1039.7,50.0 1039.4,90.0 1039.3,130.0 1039.0,180.0 1038.6,230.0 1037.5,269.9 1036.1,309.9 1034.8,339.9 1033.4,379.9 1032.1,407.9" fill="#c4a83f" /><polygon points="1041.4,111.8 1038.3,107.7 1034.0,101.8 1029.0,95.1 1024.2,88.3 1020.3,82.5 1017.1,77.2 1014.3,72.1 1011.8,67.3 1009.7,63.3 1008.2,60.4 1007.4,60.8 1008.8,63.8 1010.6,67.9 1012.9,72.8 1015.5,78.1 1018.5,83.5 1022.3,89.6 1026.9,96.6 1031.6,103.5 1035.8,109.5 1038.6,113.8" fill="#c2a33e" /><polygon points="1042.7,87.2 1043.8,86.0 1045.2,84.4 1047.0,82.5 1048.8,80.5 1050.6,78.6 1052.4,76.6 1054.5,74.4 1056.5,72.3 1058.2,70.5 1059.4,69.1 1059.0,68.7 1057.6,69.8 1055.8,71.5 1053.6,73.5 1051.4,75.6 1049.4,77.4 1047.5,79.2 1045.5,81.1 1043.7,82.8 1042.0,84.3 1040.9,85.4" fill="#c2a33e" /><polygon points="1042.2,115.9 1044.4,113.9 1047.5,111.1 1051.3,107.9 1055.2,104.3 1058.8,100.8 1062.4,96.9 1066.2,92.5 1069.9,88.1 1073.1,84.3 1075.3,81.6 1074.7,81.0 1072.3,83.6 1068.9,87.2 1065.0,91.4 1061.0,95.6 1057.2,99.2 1053.5,102.5 1049.5,105.7 1045.6,108.8 1042.3,111.3 1039.8,113.1" fill="#c2a33e" /><polygon points="1042.8,132.9 1047.2,130.3 1053.7,126.7 1061.0,122.5 1068.0,118.1 1073.5,114.0 1077.2,110.2 1079.8,106.5 1081.7,102.8 1083.3,99.2 1084.9,95.4 1086.5,91.1 1088.0,86.3 1089.3,81.7 1090.4,77.6 1091.1,74.8 1090.3,74.6 1089.4,77.4 1088.1,81.3 1086.6,85.9 1085.0,90.5 1083.1,94.6 1081.3,98.3 1079.6,101.7 1077.6,105.1 1075.1,108.3 1071.5,111.6 1066.2,115.4 1059.3,119.5 1051.9,123.5 1045.3,126.9 1040.8,129.3" fill="#c2a33e" /><polygon points="1039.9,129.7 1037.5,128.7 1034.0,127.5 1030.1,125.9 1026.4,124.0 1023.3,122.1 1020.9,119.6 1018.7,116.5 1016.7,113.3 1015.1,110.5 1013.9,108.5 1013.3,108.9 1014.3,110.9 1015.7,113.9 1017.5,117.3 1019.6,120.6 1022.1,123.5 1025.3,125.9 1029.1,128.0 1033.0,129.9 1036.4,131.4 1038.7,132.5" fill="#c2a33e" /><polygon points="1039.6,145.7 1036.2,145.2 1031.6,144.7 1026.1,143.9 1020.4,142.8 1014.9,141.3 1009.4,139.1 1003.3,136.3 997.3,133.1 991.6,130.0 986.7,127.0 982.5,124.0 978.8,120.9 975.5,117.8 972.8,115.2 970.8,113.4 970.2,114.0 972.1,116.0 974.6,118.7 977.8,122.0 981.5,125.4 985.7,128.6 990.5,131.8 996.2,135.2 1002.2,138.6 1008.2,141.6 1013.9,144.1 1019.6,146.0 1025.5,147.4 1031.0,148.4 1035.7,149.1 1039.0,149.7" fill="#c2a33e" /><polygon points="1042.6,155.9 1045.9,154.1 1050.8,151.7 1056.4,148.8 1061.9,145.4 1066.5,141.8 1070.2,137.5 1073.5,132.4 1076.3,127.3 1078.6,122.8 1080.2,119.7 1079.6,119.3 1077.7,122.3 1075.2,126.6 1072.1,131.5 1068.7,136.3 1065.1,140.2 1060.6,143.4 1055.1,146.3 1049.5,149.0 1044.5,151.1 1041.0,152.7" fill="#c2a33e" /><polygon points="1040.8,180.1 1038.9,179.0 1036.2,177.4 1033.0,175.6 1029.6,173.7 1026.3,172.1 1023.2,170.8 1020.2,169.9 1017.1,168.9 1013.6,167.6 1009.7,165.8 1004.6,163.0 998.4,159.3 992.2,155.4 986.7,152.0 982.9,149.7 982.5,150.3 986.2,152.8 991.6,156.3 997.8,160.3 1003.8,164.2 1008.9,167.2 1012.9,169.2 1016.4,170.7 1019.5,171.9 1022.4,173.0 1025.3,174.3 1028.4,176.0 1031.6,178.0 1034.6,180.0 1037.2,181.7 1039.0,182.9" fill="#c2a33e" /><polygon points="1040.7,211.7 1038.2,210.2 1034.5,208.2 1030.4,205.8 1026.5,203.2 1023.3,200.6 1020.9,197.8 1018.7,194.6 1016.8,191.3 1015.2,187.9 1013.7,184.7 1012.5,181.5 1011.5,178.0 1010.7,174.7 1010.1,171.9 1009.6,169.8 1009.0,170.0 1009.3,172.0 1009.7,174.9 1010.4,178.3 1011.2,181.8 1012.3,185.3 1013.6,188.6 1015.2,192.1 1017.0,195.6 1019.1,199.0 1021.7,202.2 1025.0,205.2 1029.0,208.0 1033.1,210.6 1036.7,212.8 1039.1,214.3" fill="#c2a33e" /><polygon points="1040.3,244.3 1035.7,241.3 1029.1,237.0 1021.6,232.0 1013.9,226.7 1006.9,221.6 1000.7,216.6 994.6,211.1 988.6,205.6 982.6,200.3 976.7,195.6 970.4,191.3 963.7,187.3 957.4,183.7 952.0,180.8 948.1,178.7 947.7,179.3 951.5,181.7 956.8,184.8 963.0,188.6 969.4,192.8 975.5,197.2 981.2,202.0 986.9,207.4 992.7,213.1 998.7,218.8 1004.9,224.2 1011.8,229.5 1019.5,235.0 1026.9,240.3 1033.4,244.7 1037.9,247.9" fill="#c2a33e" /><polygon points="1020.6,231.9 1018.5,229.1 1015.4,225.0 1012.0,220.3 1008.7,215.6 1006.1,211.4 1004.1,208.0 1002.4,205.0 1001.0,202.0 999.7,198.6 998.4,194.5 997.1,188.9 995.8,182.2 994.7,175.2 993.8,169.1 993.0,164.8 992.4,165.0 992.9,169.2 993.7,175.4 994.6,182.3 995.7,189.2 996.8,194.9 998.0,199.2 999.2,202.7 1000.5,205.9 1002.0,209.1 1003.9,212.6 1006.5,217.0 1009.7,221.9 1013.0,226.7 1015.9,230.9 1017.8,233.9" fill="#c2a33e" /><polygon points="1036.6,309.5 1036.4,307.8 1036.4,305.3 1036.1,302.1 1034.9,298.5 1032.5,295.0 1028.9,291.9 1024.7,289.0 1019.7,285.9 1013.8,282.4 1006.9,278.4 998.6,273.4 988.9,267.7 978.5,261.7 968.2,255.8 958.5,250.6 949.5,246.0 940.5,241.9 931.9,238.1 924.0,234.5 917.0,231.0 910.8,227.5 905.2,224.0 900.3,220.7 896.4,217.9 893.4,216.0 893.0,216.6 895.8,218.7 899.7,221.6 904.5,225.0 910.0,228.7 916.2,232.4 923.2,236.0 931.1,239.8 939.7,243.8 948.5,248.0 957.5,252.6 966.9,258.0 977.2,263.9 987.5,270.1 997.1,276.0 1005.3,281.0 1012.1,285.2 1017.9,288.8 1022.7,291.9 1026.6,294.8 1029.5,297.6 1031.3,300.3 1032.0,302.9 1032.1,305.5 1031.9,307.9 1032.0,309.7" fill="#c2a33e" /><polygon points="954.0,231.3 956.3,250.0 956.9,250.0 956.8,231.1" fill="#c2a33e" /><polygon points="1042.1,199.9 1046.7,200.6 1053.4,201.7 1061.1,203.0 1068.8,204.0 1075.5,204.4 1081.2,204.3 1086.5,203.7 1091.3,202.8 1095.9,201.8 1100.2,200.6 1104.5,199.1 1108.7,197.3 1112.5,195.4 1115.7,193.7 1118.0,192.6 1117.6,191.8 1115.3,192.8 1112.0,194.3 1108.2,196.0 1104.0,197.6 1099.8,198.8 1095.5,199.8 1090.9,200.6 1086.2,201.3 1081.1,201.6 1075.7,201.6 1069.2,200.9 1061.6,199.7 1054.0,198.3 1047.4,197.0 1042.7,196.1" fill="#c2a33e" /><polygon points="1042.9,154.5 1064.1,145.3 1063.9,144.7 1041.9,152.1" fill="#c2a33e" /><polygon points="1043.1,175.0 1046.6,173.6 1051.6,171.6 1057.4,169.3 1063.1,166.8 1067.9,164.2 1071.8,161.4 1075.3,158.2 1078.3,155.0 1080.7,152.2 1082.5,150.3 1081.9,149.7 1079.9,151.5 1077.3,154.0 1074.1,156.9 1070.5,159.7 1066.7,162.2 1062.0,164.4 1056.3,166.5 1050.5,168.5 1045.3,170.2 1041.7,171.4" fill="#c2a33e" /><polygon points="986.4,260.6 1019.3,248.1 1019.1,247.5 985.6,258.2" fill="#c2a33e" /><polygon points="967.7,242.2 971.3,242.5 976.4,243.0 982.3,243.5 988.1,243.7 992.8,243.5 996.5,242.5 999.7,240.9 1002.4,239.1 1004.5,237.5 1006.1,236.5 1005.7,235.9 1004.1,236.9 1001.9,238.4 999.2,240.0 996.1,241.3 992.6,242.1 988.1,242.2 982.4,241.9 976.6,241.2 971.5,240.6 967.9,240.2" fill="#c2a33e" /><polygon points="936.0,264.7 939.5,265.6 944.5,266.9 950.5,268.4 956.7,269.6 962.8,270.2 969.1,270.0 976.0,269.2 982.8,268.1 988.6,267.0 992.8,266.3 992.6,265.7 988.5,266.2 982.6,267.0 975.9,267.9 969.0,268.5 962.8,268.6 957.0,267.8 950.9,266.4 945.1,264.8 940.2,263.3 936.6,262.3" fill="#c2a33e" /><polygon points="973.9,222.5 977.0,223.8 981.3,225.7 986.5,227.9 992.0,229.8 997.4,231.2 1003.3,231.8 1009.9,232.0 1016.3,231.9 1021.9,231.7 1025.8,231.5 1025.8,230.9 1021.9,230.8 1016.3,230.8 1009.9,230.7 1003.4,230.4 997.8,229.6 992.6,228.1 987.2,226.0 982.2,223.7 978.0,221.6 974.9,220.1" fill="#c2a33e" /><polygon points="1043.5,239.7 1049.6,238.7 1058.4,237.3 1068.4,235.6 1078.4,233.5 1086.7,230.7 1093.7,226.8 1099.9,221.9 1105.4,216.7 1109.9,212.2 1113.2,209.1 1112.6,208.5 1109.2,211.4 1104.5,215.7 1098.9,220.5 1092.6,225.1 1085.9,228.5 1077.7,230.9 1067.9,232.7 1057.9,234.1 1049.1,235.1 1042.9,235.9" fill="#c2a33e" /><polygon points="1044.4,258.3 1047.7,256.3 1052.2,253.5 1057.7,250.4 1063.8,247.3 1070.4,244.7 1078.1,242.5 1087.1,240.7 1096.6,238.9 1105.7,236.8 1113.4,234.2 1119.5,231.1 1124.4,227.5 1128.7,223.7 1132.6,219.6 1136.8,215.2 1141.5,209.9 1146.4,203.8 1151.1,197.6 1155.1,192.1 1157.9,188.3 1157.3,187.9 1154.3,191.5 1150.1,196.8 1145.3,202.9 1140.2,208.9 1135.4,214.0 1131.2,218.2 1127.1,222.1 1122.9,225.6 1118.2,228.8 1112.4,231.6 1104.9,233.9 1096.0,235.7 1086.5,237.3 1077.3,238.9 1069.2,240.9 1062.2,243.6 1055.7,246.6 1050.0,249.6 1045.4,252.2 1042.0,253.9" fill="#c2a33e" /><polygon points="1081.9,274.3 1087.3,272.7 1095.2,270.5 1104.1,267.9 1112.9,265.1 1120.0,262.2 1125.3,259.4 1129.7,256.4 1133.4,253.3 1136.8,250.1 1140.0,246.6 1143.3,242.5 1146.3,237.9 1149.1,233.2 1151.4,229.2 1153.0,226.4 1152.4,226.0 1150.6,228.8 1148.2,232.7 1145.3,237.2 1142.1,241.7 1138.8,245.6 1135.5,248.8 1132.2,251.9 1128.5,254.7 1124.2,257.4 1119.0,260.0 1112.0,262.6 1103.3,265.2 1094.4,267.6 1086.5,269.6 1080.9,271.1" fill="#c2a33e" /><polygon points="1042.3,286.3 1047.7,284.4 1055.3,281.6 1064.2,278.6 1073.3,276.0 1081.6,274.3 1089.4,273.9 1097.4,274.2 1105.4,275.0 1112.8,275.9 1119.4,276.4 1124.9,276.8 1129.7,277.2 1133.9,277.5 1137.8,277.5 1141.3,276.8 1144.6,275.2 1147.5,272.8 1149.8,270.2 1151.6,267.9 1153.0,266.3 1152.4,265.7 1150.9,267.2 1149.0,269.4 1146.6,271.8 1143.9,273.9 1140.9,275.2 1137.6,275.7 1134.0,275.6 1129.9,275.1 1125.1,274.5 1119.6,274.0 1113.1,273.3 1105.7,272.3 1097.7,271.3 1089.4,270.8 1081.2,271.1 1072.5,272.6 1063.2,275.1 1054.1,278.0 1046.4,280.6 1040.9,282.3" fill="#c2a33e" /><polygon points="932.6,273.3 935.6,275.2 940.0,278.0 945.0,281.1 950.1,283.9 954.5,285.6 958.0,286.0 960.9,285.6 963.7,284.6 966.5,283.4 969.9,282.0 974.4,280.2 979.7,277.9 985.1,275.5 989.8,273.3 993.0,271.8 992.8,271.2 989.4,272.6 984.7,274.6 979.3,277.0 974.0,279.2 969.5,280.8 966.0,282.1 963.2,283.3 960.6,284.1 958.0,284.3 954.9,283.8 950.9,282.2 946.0,279.4 941.1,276.2 936.8,273.3 933.8,271.3" fill="#c2a33e" /><polygon points="1005.1,279.4 1004.5,281.8 1003.7,285.2 1002.7,289.1 1001.7,292.9 1000.6,296.0 999.4,298.6 997.9,301.0 996.4,303.1 995.1,304.8 994.3,306.1 994.7,306.5 995.7,305.3 997.1,303.6 998.8,301.6 1000.4,299.2 1001.8,296.6 1003.1,293.4 1004.3,289.6 1005.4,285.7 1006.4,282.3 1007.1,280.0" fill="#c2a33e" /><polygon points="1061.8,280.5 1064.0,282.4 1067.0,285.1 1070.5,288.3 1074.2,291.6 1077.6,294.5 1080.9,297.2 1084.5,300.1 1088.0,302.7 1090.9,305.0 1093.0,306.5 1093.4,306.1 1091.4,304.4 1088.5,302.0 1085.2,299.3 1081.7,296.3 1078.4,293.5 1075.2,290.5 1071.6,287.1 1068.2,283.8 1065.3,281.0 1063.2,278.9" fill="#c2a33e" /><polygon points="1042.8,263.0 1045.9,260.8 1050.2,257.6 1055.2,254.1 1060.7,250.7 1066.3,247.8 1072.4,245.7 1079.3,243.9 1086.5,242.3 1093.3,240.8 1099.3,239.1 1104.4,237.2 1109.1,235.2 1113.3,233.3 1116.6,231.6 1119.1,230.4 1118.7,229.6 1116.2,230.7 1112.8,232.2 1108.6,234.0 1103.9,235.8 1098.7,237.5 1092.8,238.9 1086.0,240.3 1078.8,241.7 1071.7,243.3 1065.3,245.4 1059.3,248.1 1053.6,251.5 1048.3,255.0 1043.9,258.0 1040.8,260.0" fill="#c2a33e" /><polygon points="984.8,260.0 988.0,259.5 992.8,258.7 998.3,257.8 1003.6,256.8 1008.0,255.5 1011.6,253.9 1014.7,251.9 1017.4,249.9 1019.6,248.1 1021.2,246.8 1020.8,246.4 1019.1,247.5 1016.9,249.2 1014.1,251.1 1011.0,252.8 1007.6,254.3 1003.3,255.3 998.0,256.2 992.6,257.0 987.8,257.6 984.4,258.0" fill="#c2a33e" /><polygon points="966.2,243.3 968.9,243.6 972.7,244.2 977.2,244.7 981.9,245.0 986.3,244.7 990.7,243.6 995.3,241.8 999.7,239.9 1003.5,238.1 1006.2,236.9 1006.0,236.3 1003.2,237.4 999.4,239.1 994.9,241.0 990.3,242.6 986.1,243.5 981.9,243.7 977.4,243.3 972.9,242.6 969.1,241.9 966.4,241.5" fill="#c2a33e" /></g><polygon points="1041.5,408.1 1041.9,380.1 1042.6,340.1 1043.0,310.1 1035.8,309.9 1034.6,339.9 1033.3,379.9 1032.1,407.9" fill="url(#hatchT2)" /><polygon points="912.5,434 968,428 1093,419.5 1100,418.6 1199,417.3 1326.5,417.3 1326.5,441.3 912.5,441.3" fill="url(#hatchG)"/><polyline points="824,440.8 1326.5,441.3 1326.5,410.5" fill="none" stroke="#8a8a84" stroke-width="0.9"/><rect x="823.7" y="428.3" width="67.2" height="4.3" fill="#fff" stroke="#666" stroke-width="0.6"/><polygon points="823.7,432.6 890.8,433.4 890.8,440.6 862,440.6 862,439.6 823.7,439.2" fill="#bcbcbc" stroke="#666" stroke-width="0.5"/><rect x="890.8" y="434" width="21.7" height="6.8" fill="#fff" stroke="#666" stroke-width="0.6"/><polygon points="894.5,429.3 900,430.3 907.5,429.3 907.5,434 894.5,434" fill="#fff" stroke="#666" stroke-width="0.6"/><polygon points="907.5,429.6 968,407.2 1093,407.2 1093,419.5 968,428.4 912.5,434.2 912.5,441 907.5,441" fill="url(#dots2)" stroke="none"/><polygon points="907.5,434.2 912.5,434.2 912.5,441 907.5,441" fill="#fff"/><polyline points="907.5,429.6 968,407.2 1093,407.2" fill="none" stroke="#555" stroke-width="0.7"/><polyline points="907.5,430.2 960,422.9 1040,412.6 1090,407.6" fill="none" stroke="#666" stroke-width="0.5" stroke-dasharray="6 1"/><polyline points="912.5,434.4 960,430.7 1040,423.8 1093,419.5" fill="none" stroke="#666" stroke-width="0.6"/><line x1="912.5" y1="434" x2="912.5" y2="441" stroke="#666" stroke-width="0.6"/><rect x="1093.3" y="413.6" width="6.3" height="9.2" fill="#cfcfcf" stroke="#777" stroke-width="0.5"/><line x1="1093.2" y1="407" x2="1093.2" y2="414.5" stroke="#222" stroke-width="1.1"/><polygon points="1093.5,410.6 1204.4,408.6 1204.4,411 1199,416.8 1150,417.3 1150,418 1099.8,418.6 1099.8,413.4 1093.5,413.4" fill="#bcbcbc" stroke="#666" stroke-width="0.5"/><polygon points="1093.5,407.6 1204.4,405.1 1204.4,408.40000000000003 1093.5,410.90000000000003" fill="#fdfdfd" stroke="#555" stroke-width="0.6"/><line x1="1107.4" y1="407.3" x2="1107.4" y2="410.6" stroke="#555" stroke-width="0.6"/><line x1="1121.2" y1="407.0" x2="1121.2" y2="410.3" stroke="#555" stroke-width="0.6"/><line x1="1135.1" y1="406.7" x2="1135.1" y2="410.0" stroke="#555" stroke-width="0.6"/><line x1="1149.0" y1="406.4" x2="1149.0" y2="409.7" stroke="#555" stroke-width="0.6"/><line x1="1162.8" y1="406.0" x2="1162.8" y2="409.3" stroke="#555" stroke-width="0.6"/><line x1="1176.7" y1="405.7" x2="1176.7" y2="409.0" stroke="#555" stroke-width="0.6"/><line x1="1190.5" y1="405.4" x2="1190.5" y2="408.7" stroke="#555" stroke-width="0.6"/><rect x="1204.4" y="405.4" width="7.3" height="11.2" fill="#fff" stroke="#666" stroke-width="0.6"/><rect x="1199" y="416.8" width="16.5" height="5.8" fill="#fff" stroke="#666" stroke-width="0.6"/><rect x="1211.9" y="410.4" width="114.6" height="7" fill="#c8c8c4" stroke="#888" stroke-width="0.4"/><rect x="1224" y="410.4" width="102.5" height="3.3" fill="#8e8e8e"/><rect x="1212.4" y="410.8" width="11.4" height="2.5" fill="#fff" stroke="#888" stroke-width="0.4"/><rect x="815.2" y="221" width="8.6" height="217.8" fill="#000"/><text x="842" y="426.6" font-size="5.5" fill="#333">2%</text><line x1="841.5" y1="427.2" x2="850" y2="427.2" stroke="#333" stroke-width="0.5"/><polygon points="850,427.6 865.5,427.6 865.5,427 868.5,428 865.5,428.3 850,428.2" fill="#666"/><text x="1141" y="404.6" font-size="5.5" fill="#333">2%</text><polygon points="1124,405.3 1127.5,404.5 1127.5,405 1150,405 1150,405.6 1127,405.7" fill="#666"/><path d="M938.3,406.7Q937.6,408.4 936.8,410.5Q935.9,412.6 934.6,411.2Q933.4,409.8 931.4,409.1Q929.4,408.5 931.4,407.0Q933.4,405.6 934.9,404.2Q936.3,402.8 937.6,403.9Q939.0,405.0 938.3,406.7Z" fill="#a6a428"/><path d="M915.5,422.8Q913.7,424.9 912.3,427.1Q911.0,429.3 910.3,426.6Q909.7,423.9 908.8,421.2Q907.8,418.5 910.1,419.3Q912.4,420.2 914.8,420.5Q917.3,420.8 915.5,422.8Z" fill="#d5401a"/><path d="M937.1,410.4Q935.0,411.2 933.0,411.8Q931.0,412.3 930.9,410.8Q930.9,409.3 931.1,407.8Q931.3,406.4 933.2,406.3Q935.1,406.1 936.6,406.4Q938.1,406.7 938.7,408.2Q939.2,409.6 937.1,410.4Z" fill="#a6a428"/><path d="M992.9,405.9Q992.2,404.4 991.3,403.2Q990.4,402.0 991.4,401.4Q992.4,400.8 993.9,400.4Q995.4,399.9 995.6,401.7Q995.8,403.6 996.1,405.1Q996.4,406.7 995.0,407.0Q993.6,407.3 992.9,405.9Z" fill="#d5401a"/><path d="M1010.8,401.5Q1010.6,403.3 1009.5,404.7Q1008.3,406.0 1007.1,405.1Q1005.8,404.1 1004.3,402.9Q1002.8,401.7 1004.9,401.3Q1007.0,400.8 1009.0,400.2Q1011.0,399.7 1010.8,401.5Z" fill="#a6a428"/><path d="M985.8,389.4Q984.4,389.7 982.9,390.0Q981.5,390.3 981.7,389.1Q982.0,388.0 982.7,387.0Q983.4,386.0 984.6,386.1Q985.8,386.2 986.9,386.5Q988.1,386.8 987.6,387.9Q987.1,389.1 985.8,389.4Z" fill="#d23a10"/><path d="M979.0,403.6Q978.5,402.5 978.0,401.2Q977.4,399.8 978.6,399.3Q979.8,398.8 980.8,398.2Q981.7,397.7 981.9,399.0Q982.1,400.3 982.9,401.5Q983.8,402.7 982.5,403.1Q981.3,403.4 980.4,404.1Q979.5,404.7 979.0,403.6Z" fill="#b0aa38"/><path d="M1043.6,391.6Q1042.8,392.4 1041.8,393.1Q1040.9,393.8 1039.9,393.2Q1039.0,392.6 1038.1,391.9Q1037.2,391.1 1038.4,390.5Q1039.6,389.9 1040.3,388.7Q1041.1,387.6 1041.8,388.6Q1042.6,389.7 1043.5,390.3Q1044.5,390.9 1043.6,391.6Z" fill="#cc3f14"/><path d="M966.5,397.4Q964.7,396.7 962.7,395.9Q960.7,395.1 962.0,392.6Q963.3,390.0 964.8,388.9Q966.3,387.7 967.1,390.1Q968.0,392.4 968.1,395.3Q968.3,398.2 966.5,397.4Z" fill="#d5401a"/><path d="M964.6,401.3Q963.3,400.4 962.4,399.2Q961.6,398.1 962.3,396.7Q963.1,395.4 964.4,394.6Q965.8,393.9 966.7,395.2Q967.6,396.5 968.0,398.1Q968.4,399.7 967.1,401.0Q965.9,402.2 964.6,401.3Z" fill="#a6a428"/><path d="M1013.2,404.3Q1013.0,405.5 1012.9,406.8Q1012.9,408.2 1011.5,407.7Q1010.1,407.2 1009.0,406.4Q1007.9,405.6 1008.0,404.4Q1008.1,403.3 1008.2,402.0Q1008.3,400.7 1009.7,401.3Q1011.0,401.9 1012.3,402.5Q1013.5,403.2 1013.2,404.3Z" fill="#cc3f14"/><path d="M1085.0,391.6Q1086.9,392.3 1088.8,393.3Q1090.7,394.3 1089.1,396.5Q1087.5,398.6 1085.7,400.0Q1083.9,401.4 1083.3,398.9Q1082.7,396.5 1082.9,393.7Q1083.1,391.0 1085.0,391.6Z" fill="#a6a428"/><path d="M1086.2,396.7Q1088.1,396.2 1090.0,395.9Q1092.0,395.7 1091.7,398.0Q1091.4,400.3 1090.7,403.0Q1089.9,405.7 1087.9,405.0Q1085.8,404.2 1084.1,403.3Q1082.4,402.3 1083.4,399.8Q1084.3,397.3 1086.2,396.7Z" fill="#9c9a24"/><path d="M945.3,395.6Q946.7,393.9 948.4,392.6Q950.1,391.4 950.7,393.7Q951.3,396.1 951.3,398.7Q951.3,401.2 949.3,400.6Q947.4,400.0 945.7,398.7Q944.0,397.4 945.3,395.6Z" fill="#a6a428"/><path d="M1016.0,404.8Q1017.3,402.1 1018.4,399.6Q1019.5,397.1 1021.4,398.2Q1023.2,399.3 1023.9,401.9Q1024.6,404.5 1022.1,405.6Q1019.6,406.6 1017.2,407.0Q1014.8,407.5 1016.0,404.8Z" fill="#d23a10"/><path d="M920.7,415.9Q922.4,415.0 924.0,413.4Q925.7,411.8 926.3,414.2Q926.9,416.7 928.3,418.7Q929.7,420.7 927.4,420.6Q925.0,420.5 922.9,421.0Q920.8,421.5 919.9,419.2Q919.1,416.9 920.7,415.9Z" fill="#b0aa38"/><path d="M955.0,394.4Q956.7,394.9 958.9,394.7Q961.1,394.5 959.7,397.0Q958.2,399.5 957.8,402.4Q957.4,405.4 955.6,404.0Q953.9,402.6 952.5,400.8Q951.0,399.0 952.2,396.4Q953.4,393.9 955.0,394.4Z" fill="#9c9a24"/><path d="M909.4,413.1Q909.8,414.5 909.5,415.9Q909.3,417.2 908.0,416.8Q906.7,416.3 905.2,415.5Q903.7,414.7 904.9,413.5Q906.0,412.2 907.5,411.9Q909.1,411.6 909.4,413.1Z" fill="#d5401a"/><path d="M985.9,400.1Q987.5,401.4 988.2,402.9Q988.9,404.5 987.4,405.3Q985.8,406.2 983.7,406.7Q981.5,407.1 981.7,404.9Q981.9,402.7 983.0,400.8Q984.2,398.9 985.9,400.1Z" fill="#a6a428"/><path d="M1027.8,381.5Q1029.3,382.2 1030.4,383.4Q1031.5,384.6 1030.8,386.2Q1030.1,387.9 1028.7,389.3Q1027.3,390.8 1026.5,388.8Q1025.7,386.9 1024.8,385.4Q1023.9,384.0 1025.1,382.4Q1026.2,380.7 1027.8,381.5Z" fill="#9c9a24"/><path d="M1059.6,386.1Q1061.1,387.3 1062.4,388.3Q1063.7,389.3 1062.7,390.8Q1061.7,392.2 1060.5,393.7Q1059.2,395.1 1058.4,393.4Q1057.5,391.7 1056.9,390.2Q1056.4,388.7 1057.3,386.8Q1058.2,384.9 1059.6,386.1Z" fill="#9c9a24"/><path d="M1057.2,384.1Q1058.7,383.6 1060.4,383.8Q1062.1,384.0 1061.7,385.4Q1061.4,386.7 1061.1,388.1Q1060.7,389.6 1059.2,388.5Q1057.7,387.5 1056.7,386.0Q1055.7,384.6 1057.2,384.1Z" fill="#d23a10"/><path d="M1002.9,401.0Q1004.8,402.2 1006.7,403.4Q1008.7,404.6 1007.8,406.0Q1007.0,407.4 1007.4,409.9Q1007.9,412.3 1005.8,410.5Q1003.8,408.8 1001.6,407.8Q999.5,406.8 1000.5,405.3Q1001.5,403.9 1001.2,401.8Q1001.0,399.7 1002.9,401.0Z" fill="#9c9a24"/><path d="M1093.5,407.0Q1090.8,406.1 1088.1,404.8Q1085.4,403.5 1087.0,401.3Q1088.5,399.1 1090.8,397.8Q1093.1,396.5 1094.3,399.3Q1095.4,402.1 1095.8,405.0Q1096.2,407.8 1093.5,407.0Z" fill="#b0aa38"/><path d="M1087.8,407.7Q1087.0,405.8 1086.2,404.2Q1085.4,402.6 1086.6,401.8Q1087.7,401.1 1088.6,399.8Q1089.5,398.5 1090.5,400.0Q1091.4,401.4 1092.0,403.2Q1092.7,405.0 1091.6,405.9Q1090.6,406.9 1089.6,408.3Q1088.5,409.6 1087.8,407.7Z" fill="#b0aa38"/><path d="M909.6,420.3Q910.2,419.1 910.5,417.9Q910.8,416.7 911.7,417.0Q912.6,417.3 913.8,417.9Q914.9,418.5 914.1,419.8Q913.2,421.1 912.9,422.9Q912.7,424.6 911.7,423.6Q910.7,422.5 909.9,421.9Q909.0,421.4 909.6,420.3Z" fill="#cc3f14"/><path d="M991.9,403.6Q993.4,401.8 995.5,400.7Q997.7,399.5 998.3,401.8Q999.0,404.1 998.8,406.6Q998.7,409.2 996.2,408.7Q993.8,408.1 992.1,406.7Q990.4,405.4 991.9,403.6Z" fill="#d23a10"/><path d="M977.6,386.7Q977.4,389.1 978.7,391.3Q980.1,393.4 977.7,393.3Q975.3,393.2 973.2,394.3Q971.2,395.4 971.2,393.0Q971.3,390.7 970.6,388.8Q969.9,386.9 971.8,386.8Q973.7,386.7 975.7,385.5Q977.7,384.4 977.6,386.7Z" fill="#d23a10"/><path d="M998.6,399.8Q999.7,400.1 1000.5,400.7Q1001.2,401.3 1000.5,402.1Q999.7,402.9 998.7,403.8Q997.6,404.6 996.6,404.0Q995.7,403.4 994.1,403.1Q992.6,402.7 994.2,401.9Q995.9,401.1 996.7,400.3Q997.5,399.4 998.6,399.8Z" fill="#cc3f14"/><path d="M986.3,382.2Q986.7,383.6 987.8,384.4Q988.8,385.2 987.4,386.0Q986.0,386.7 984.8,387.3Q983.6,388.0 983.3,386.8Q983.0,385.6 982.9,384.2Q982.8,382.8 984.3,381.8Q985.8,380.8 986.3,382.2Z" fill="#9c9a24"/><path d="M919.0,410.7Q918.6,409.5 917.9,408.0Q917.3,406.6 918.4,406.5Q919.6,406.4 920.4,405.8Q921.1,405.1 921.5,406.3Q922.0,407.5 922.3,408.7Q922.7,409.9 921.9,410.4Q921.1,410.8 920.3,411.3Q919.5,411.9 919.0,410.7Z" fill="#cc3f14"/><path d="M1045.1,394.3Q1043.6,392.2 1043.2,389.6Q1042.8,386.9 1045.1,386.3Q1047.4,385.8 1049.4,386.5Q1051.4,387.2 1050.8,389.8Q1050.2,392.3 1048.3,394.4Q1046.5,396.4 1045.1,394.3Z" fill="#d23a10"/><path d="M1059.6,400.5Q1056.6,401.5 1053.7,403.0Q1050.8,404.5 1051.0,401.4Q1051.2,398.2 1052.4,395.5Q1053.5,392.7 1055.9,394.1Q1058.3,395.6 1060.4,397.5Q1062.6,399.5 1059.6,400.5Z" fill="#d5401a"/><path d="M937.6,402.4Q935.9,403.4 934.5,403.7Q933.0,404.0 932.8,402.0Q932.5,400.0 932.3,398.0Q932.1,396.1 933.6,395.8Q935.0,395.6 936.6,396.0Q938.2,396.4 938.7,398.9Q939.2,401.5 937.6,402.4Z" fill="#9c9a24"/><path d="M950.3,398.1Q949.2,399.6 947.8,401.3Q946.4,403.1 945.8,401.1Q945.1,399.2 943.9,397.8Q942.6,396.4 944.5,395.4Q946.4,394.4 947.5,392.3Q948.6,390.2 949.1,392.3Q949.6,394.3 950.5,395.5Q951.4,396.7 950.3,398.1Z" fill="#a6a428"/><path d="M948.0,390.7Q948.6,392.6 949.5,395.1Q950.4,397.5 948.1,396.5Q945.7,395.5 944.0,395.9Q942.3,396.2 942.3,394.2Q942.2,392.2 941.2,390.1Q940.2,388.0 942.0,387.9Q943.7,387.8 945.5,388.3Q947.3,388.7 948.0,390.7Z" fill="#a6a428"/><path d="M1023.7,392.1Q1023.4,389.1 1023.2,386.5Q1022.9,384.0 1025.4,384.4Q1028.0,384.8 1030.1,386.2Q1032.1,387.7 1030.4,389.4Q1028.7,391.2 1026.4,393.1Q1024.1,395.1 1023.7,392.1Z" fill="#a6a428"/><path d="M1055.6,392.6Q1057.5,394.6 1058.0,397.4Q1058.6,400.2 1055.9,400.3Q1053.1,400.3 1050.4,399.9Q1047.7,399.5 1049.1,397.2Q1050.5,394.8 1052.1,392.7Q1053.6,390.6 1055.6,392.6Z" fill="#d23a10"/><path d="M927.1,405.2Q926.1,404.0 925.6,402.5Q925.1,401.0 926.8,400.9Q928.4,400.8 930.3,401.1Q932.2,401.4 931.3,402.9Q930.4,404.4 929.3,405.4Q928.2,406.3 927.1,405.2Z" fill="#a6a428"/><path d="M977.5,398.1Q978.9,398.7 980.3,399.4Q981.8,400.1 980.7,401.4Q979.7,402.6 978.6,403.5Q977.5,404.4 976.7,403.3Q976.0,402.1 975.1,401.1Q974.3,400.1 975.2,398.8Q976.1,397.6 977.5,398.1Z" fill="#9c9a24"/><path d="M1048.3,385.9Q1049.4,384.3 1049.8,382.6Q1050.3,380.8 1052.6,381.0Q1055.0,381.2 1057.3,381.2Q1059.5,381.3 1058.0,383.0Q1056.6,384.6 1056.4,386.3Q1056.3,388.1 1054.3,387.4Q1052.2,386.7 1049.7,387.1Q1047.3,387.5 1048.3,385.9Z" fill="#b0aa38"/><path d="M1080.3,391.4Q1080.8,392.9 1081.4,394.4Q1082.0,395.9 1080.5,396.2Q1078.9,396.5 1077.1,397.0Q1075.3,397.5 1075.3,395.6Q1075.3,393.6 1075.9,392.1Q1076.5,390.7 1078.1,390.3Q1079.7,389.9 1080.3,391.4Z" fill="#9c9a24"/><path d="M1085.7,401.9Q1087.3,403.0 1088.3,405.0Q1089.3,407.0 1087.8,408.3Q1086.3,409.5 1084.4,409.8Q1082.4,410.0 1082.4,407.4Q1082.5,404.9 1083.2,402.9Q1084.0,400.9 1085.7,401.9Z" fill="#a6a428"/><path d="M1073.1,401.7Q1072.5,400.6 1072.1,399.6Q1071.7,398.5 1072.8,397.9Q1074.0,397.3 1075.0,396.6Q1076.0,395.9 1076.5,396.9Q1077.0,397.8 1077.6,398.7Q1078.2,399.7 1077.0,400.2Q1075.9,400.8 1074.8,401.8Q1073.7,402.9 1073.1,401.7Z" fill="#cc3f14"/><path d="M1047.0,394.7Q1045.3,394.9 1043.7,395.3Q1042.1,395.6 1042.1,393.9Q1042.1,392.2 1042.4,390.6Q1042.8,389.1 1044.3,389.3Q1045.8,389.6 1047.1,390.2Q1048.5,390.9 1048.5,392.7Q1048.6,394.5 1047.0,394.7Z" fill="#d23a10"/><path d="M919.7,399.6Q920.5,401.2 921.7,402.2Q922.9,403.3 921.8,404.2Q920.7,405.1 919.7,406.0Q918.7,406.9 917.7,405.7Q916.8,404.4 915.8,403.2Q914.7,402.0 915.7,401.0Q916.8,400.0 917.9,399.0Q919.0,398.1 919.7,399.6Z" fill="#b0aa38"/><path d="M954.5,405.7Q951.9,405.2 949.4,404.5Q947.0,403.7 949.5,402.3Q952.0,400.9 954.5,399.4Q957.0,397.9 957.8,399.9Q958.5,401.9 957.9,404.1Q957.2,406.3 954.5,405.7Z" fill="#a6a428"/><path d="M1079.3,404.1Q1078.3,405.8 1077.7,407.6Q1077.1,409.5 1075.4,408.6Q1073.6,407.8 1071.8,406.7Q1070.0,405.7 1071.3,404.1Q1072.5,402.5 1073.0,400.6Q1073.4,398.6 1074.9,400.1Q1076.4,401.5 1078.3,402.0Q1080.2,402.4 1079.3,404.1Z" fill="#a6a428"/><path d="M941.0,401.2Q942.3,403.7 944.3,404.6Q946.4,405.5 944.7,407.1Q943.0,408.6 941.7,410.5Q940.4,412.4 938.9,410.8Q937.5,409.3 936.0,408.0Q934.5,406.7 935.7,405.0Q936.8,403.3 938.3,401.0Q939.8,398.7 941.0,401.2Z" fill="#b0aa38"/><path d="M1084.1,390.7Q1085.0,392.4 1086.0,394.0Q1087.1,395.7 1085.7,396.1Q1084.3,396.5 1083.0,396.1Q1081.7,395.6 1081.8,393.8Q1081.8,391.9 1082.5,390.5Q1083.2,389.0 1084.1,390.7Z" fill="#a6a428"/><path d="M1016.5,390.0Q1015.0,389.0 1013.5,387.9Q1011.9,386.8 1014.2,386.4Q1016.5,385.9 1018.4,385.9Q1020.3,385.8 1020.2,387.1Q1020.1,388.4 1019.0,389.8Q1017.9,391.1 1016.5,390.0Z" fill="#d5401a"/><path d="M1027.4,404.0Q1025.8,404.7 1024.1,405.3Q1022.4,406.0 1022.4,404.1Q1022.4,402.2 1023.3,400.8Q1024.2,399.5 1025.6,400.0Q1027.0,400.5 1028.0,401.9Q1029.0,403.3 1027.4,404.0Z" fill="#d23a10"/><path d="M1078.3,397.9Q1077.5,399.2 1076.8,400.8Q1076.2,402.3 1075.4,401.2Q1074.6,400.1 1073.6,399.5Q1072.6,398.9 1073.5,397.6Q1074.4,396.4 1075.7,395.3Q1077.1,394.3 1078.1,395.4Q1079.1,396.5 1078.3,397.9Z" fill="#d23a10"/><path d="M1046.4,401.0Q1045.5,402.6 1043.5,403.7Q1041.5,404.7 1041.3,402.6Q1041.0,400.5 1040.8,398.7Q1040.6,397.0 1042.5,397.1Q1044.4,397.1 1045.9,398.2Q1047.4,399.3 1046.4,401.0Z" fill="#9c9a24"/><path d="M1048.9,394.7Q1048.2,395.9 1047.1,396.5Q1045.9,397.1 1045.2,395.3Q1044.4,393.5 1043.6,391.7Q1042.7,389.9 1044.1,390.1Q1045.6,390.3 1046.9,389.7Q1048.2,389.1 1048.9,391.3Q1049.6,393.5 1048.9,394.7Z" fill="#d23a10"/><path d="M936.1,405.2Q937.4,405.2 938.6,405.5Q939.7,405.8 939.8,407.0Q939.8,408.2 940.0,409.8Q940.2,411.3 938.7,411.1Q937.2,410.8 935.6,411.0Q934.0,411.2 934.6,409.6Q935.3,408.1 935.0,406.7Q934.7,405.3 936.1,405.2Z" fill="#9c9a24"/><path d="M1050.5,385.3Q1052.3,383.8 1055.0,382.4Q1057.7,381.0 1057.9,383.4Q1058.1,385.8 1057.3,388.4Q1056.4,391.0 1053.7,390.4Q1051.1,389.9 1049.8,388.3Q1048.6,386.8 1050.5,385.3Z" fill="#a6a428"/><path d="M1045.5,385.7Q1046.6,384.7 1047.7,383.0Q1048.8,381.3 1048.8,383.1Q1048.8,384.8 1049.3,386.0Q1049.9,387.1 1048.6,388.0Q1047.4,388.9 1046.2,389.2Q1045.0,389.5 1044.7,388.1Q1044.4,386.7 1045.5,385.7Z" fill="#d5401a"/><path d="M1083.3,393.0Q1084.5,393.6 1085.7,395.0Q1086.9,396.4 1085.2,398.0Q1083.6,399.6 1082.4,401.7Q1081.2,403.7 1080.3,402.0Q1079.5,400.2 1078.6,399.1Q1077.7,398.0 1078.7,396.4Q1079.8,394.9 1081.0,393.6Q1082.1,392.3 1083.3,393.0Z" fill="#b0aa38"/><path d="M943.9,387.9Q945.2,387.3 946.4,386.4Q947.7,385.5 947.9,386.8Q948.2,388.0 949.2,388.8Q950.2,389.6 948.7,390.0Q947.3,390.4 946.3,391.2Q945.3,391.9 944.7,391.0Q944.2,390.2 943.5,389.4Q942.7,388.5 943.9,387.9Z" fill="#d23a10"/><path d="M1030.6,398.1Q1028.4,399.9 1027.0,402.6Q1025.6,405.3 1024.0,402.8Q1022.4,400.3 1020.9,398.2Q1019.5,396.1 1021.7,394.8Q1024.0,393.6 1026.5,392.3Q1029.1,391.1 1031.0,393.7Q1032.9,396.2 1030.6,398.1Z" fill="#a6a428"/><path d="M944.6,395.1Q944.9,396.7 944.8,398.6Q944.8,400.6 942.6,400.4Q940.5,400.2 938.5,399.6Q936.6,399.0 938.4,397.2Q940.2,395.4 942.2,394.5Q944.3,393.5 944.6,395.1Z" fill="#a6a428"/><path d="M1065.8,379.8Q1067.2,379.3 1068.6,378.5Q1070.1,377.7 1070.0,379.5Q1069.9,381.3 1070.6,382.5Q1071.2,383.7 1070.0,384.2Q1068.8,384.7 1067.4,385.4Q1066.1,386.1 1065.8,384.5Q1065.6,383.0 1065.0,381.6Q1064.4,380.2 1065.8,379.8Z" fill="#b0aa38"/><path d="M1062.5,380.1Q1065.1,380.6 1067.5,382.3Q1069.9,384.0 1067.6,385.8Q1065.4,387.7 1062.9,389.1Q1060.3,390.5 1060.1,387.6Q1059.8,384.8 1059.8,382.2Q1059.8,379.7 1062.5,380.1Z" fill="#d23a10"/><path d="M1069.5,390.0Q1071.2,388.4 1073.0,387.6Q1074.8,386.8 1075.4,388.3Q1076.0,389.8 1075.5,391.4Q1074.9,393.1 1073.2,393.1Q1071.5,393.1 1069.7,392.4Q1067.9,391.7 1069.5,390.0Z" fill="#d23a10"/><path d="M939.4,407.1Q938.3,406.2 936.9,405.6Q935.5,405.1 936.5,403.5Q937.4,401.9 938.4,400.8Q939.4,399.7 940.1,401.1Q940.7,402.4 941.4,403.7Q942.1,404.9 941.3,406.5Q940.5,408.1 939.4,407.1Z" fill="#a6a428"/><path d="M962.7,403.6Q961.3,403.1 960.0,402.0Q958.7,401.0 959.5,399.9Q960.4,398.9 961.2,397.6Q962.1,396.3 963.3,397.7Q964.5,399.2 965.5,400.7Q966.5,402.2 965.3,403.2Q964.1,404.1 962.7,403.6Z" fill="#b0aa38"/><path d="M981.8,406.4Q983.3,404.6 984.8,402.8Q986.3,401.0 987.0,403.3Q987.8,405.7 988.0,408.2Q988.3,410.8 986.2,410.2Q984.2,409.5 982.2,408.8Q980.3,408.1 981.8,406.4Z" fill="#a6a428"/><path d="M1027.0,378.5Q1027.8,379.9 1028.0,381.3Q1028.2,382.6 1027.3,382.7Q1026.3,382.8 1025.3,382.6Q1024.3,382.4 1024.6,381.2Q1024.9,379.9 1025.5,378.5Q1026.1,377.1 1027.0,378.5Z" fill="#b0aa38"/><path d="M964.7,402.4Q963.3,403.9 961.7,404.9Q960.1,405.9 959.3,404.4Q958.4,403.0 957.9,401.3Q957.3,399.6 959.2,399.3Q961.0,399.1 962.9,398.0Q964.8,396.8 965.5,398.9Q966.2,400.9 964.7,402.4Z" fill="#d23a10"/><path d="M966.4,398.4Q964.4,400.6 962.1,402.2Q959.8,403.7 959.3,401.7Q958.8,399.7 959.6,397.5Q960.3,395.3 962.3,395.3Q964.3,395.2 966.4,395.7Q968.4,396.3 966.4,398.4Z" fill="#cc3f14"/><path d="M925.8,405.2Q924.6,406.2 923.3,407.0Q922.1,407.7 921.3,406.6Q920.5,405.6 920.4,404.0Q920.3,402.5 921.7,402.1Q923.2,401.7 924.6,401.4Q926.0,401.2 926.5,402.6Q927.1,404.1 925.8,405.2Z" fill="#d23a10"/><path d="M973.9,386.8Q975.7,387.3 977.5,388.6Q979.3,389.8 977.6,392.0Q975.9,394.1 973.7,395.2Q971.4,396.2 971.2,393.6Q971.0,391.1 971.5,388.7Q972.0,386.3 973.9,386.8Z" fill="#b0aa38"/><path d="M1024.4,389.4Q1025.2,387.6 1024.9,385.4Q1024.6,383.2 1025.9,384.2Q1027.3,385.2 1028.7,385.4Q1030.1,385.6 1029.5,387.3Q1028.8,389.1 1029.0,391.1Q1029.2,393.2 1027.9,392.7Q1026.6,392.2 1025.1,391.7Q1023.7,391.2 1024.4,389.4Z" fill="#9c9a24"/><path d="M1076.4,403.2Q1074.8,401.9 1073.7,400.2Q1072.7,398.5 1074.3,397.8Q1075.9,397.1 1077.5,396.8Q1079.2,396.4 1079.1,398.3Q1079.0,400.3 1078.5,402.4Q1078.0,404.5 1076.4,403.2Z" fill="#a6a428"/><path d="M1087.5,405.9Q1088.3,403.8 1089.7,402.6Q1091.2,401.4 1091.9,402.8Q1092.6,404.3 1093.6,406.0Q1094.5,407.8 1092.6,407.8Q1090.7,407.9 1088.7,408.0Q1086.7,408.1 1087.5,405.9Z" fill="#d5401a"/><path d="M997.0,400.4Q998.3,397.7 999.0,395.0Q999.6,392.3 1002.0,393.7Q1004.4,395.1 1007.0,396.4Q1009.6,397.7 1007.4,399.7Q1005.2,401.6 1003.4,403.0Q1001.6,404.4 998.6,403.7Q995.6,403.1 997.0,400.4Z" fill="#d23a10"/><path d="M1005.9,405.8Q1006.6,403.4 1007.5,401.3Q1008.5,399.2 1009.5,401.0Q1010.5,402.7 1011.3,404.3Q1012.1,405.9 1010.6,406.8Q1009.0,407.6 1007.2,407.9Q1005.3,408.2 1005.9,405.8Z" fill="#d5401a"/><path d="M975.5,381.3Q976.7,382.0 977.8,382.6Q978.9,383.3 978.2,384.5Q977.6,385.6 977.1,386.6Q976.6,387.6 975.8,386.6Q975.1,385.6 974.3,384.6Q973.5,383.5 973.9,382.1Q974.4,380.6 975.5,381.3Z" fill="#a6a428"/><path d="M972.8,401.8Q971.1,400.4 969.9,398.4Q968.8,396.5 970.4,395.5Q972.1,394.6 974.0,394.1Q975.9,393.5 976.2,395.6Q976.6,397.7 977.4,399.6Q978.2,401.5 976.3,402.4Q974.5,403.2 972.8,401.8Z" fill="#d5401a"/><path d="M905.7,419.5Q906.6,419.8 907.8,419.6Q909.1,419.4 908.2,420.8Q907.4,422.3 907.3,423.8Q907.3,425.3 906.2,424.9Q905.2,424.5 904.1,424.4Q903.1,424.4 903.6,423.1Q904.1,421.8 904.4,420.5Q904.7,419.2 905.7,419.5Z" fill="#d5401a"/><path d="M1018.2,388.5Q1017.4,389.6 1016.4,390.3Q1015.3,391.1 1014.3,390.0Q1013.4,388.9 1012.2,387.9Q1011.1,386.9 1012.0,385.9Q1012.9,384.8 1013.9,384.1Q1014.9,383.3 1015.9,384.3Q1016.8,385.2 1017.9,386.3Q1019.0,387.3 1018.2,388.5Z" fill="#a6a428"/><path d="M991.4,401.2Q989.6,402.1 988.0,401.4Q986.3,400.8 986.4,399.1Q986.5,397.4 987.7,395.6Q988.9,393.9 990.0,395.6Q991.1,397.4 992.2,398.9Q993.3,400.4 991.4,401.2Z" fill="#d23a10"/><path d="M1015.0,385.7Q1015.7,384.8 1016.9,384.5Q1018.2,384.2 1019.0,385.3Q1019.9,386.5 1020.3,388.0Q1020.8,389.4 1019.3,389.4Q1017.8,389.3 1016.5,389.2Q1015.2,389.2 1014.7,387.8Q1014.3,386.5 1015.0,385.7Z" fill="#b0aa38"/><path d="M1068.9,399.8Q1069.9,401.8 1070.3,403.8Q1070.7,405.9 1067.9,406.0Q1065.1,406.1 1062.7,406.6Q1060.2,407.2 1061.0,405.3Q1061.8,403.3 1062.0,401.4Q1062.1,399.5 1065.1,398.6Q1068.0,397.8 1068.9,399.8Z" fill="#cc3f14"/><path d="M930.3,396.6Q932.5,396.1 934.5,395.8Q936.5,395.6 936.6,397.9Q936.8,400.2 936.4,402.7Q935.9,405.2 933.8,403.3Q931.7,401.3 929.9,399.2Q928.1,397.1 930.3,396.6Z" fill="#9c9a24"/><path d="M916.5,410.3Q918.1,408.7 920.2,408.0Q922.3,407.2 922.2,409.5Q922.2,411.7 921.9,413.7Q921.7,415.6 920.1,414.7Q918.5,413.8 916.7,412.8Q914.8,411.8 916.5,410.3Z" fill="#d5401a"/><path d="M1062.2,382.9Q1061.2,383.5 1060.4,384.4Q1059.6,385.3 1059.2,384.3Q1058.8,383.4 1058.2,382.2Q1057.6,381.0 1058.7,380.4Q1059.9,379.9 1060.6,379.0Q1061.4,378.1 1061.7,379.1Q1062.0,380.1 1062.7,381.1Q1063.3,382.2 1062.2,382.9Z" fill="#9c9a24"/><path d="M1082.2,390.5Q1080.7,391.3 1079.0,392.1Q1077.3,392.9 1076.9,391.0Q1076.5,389.1 1077.3,387.5Q1078.1,386.0 1079.8,386.4Q1081.4,386.8 1082.6,388.2Q1083.8,389.6 1082.2,390.5Z" fill="#9c9a24"/><path d="M1021.4,401.8Q1019.5,401.5 1017.7,401.8Q1015.8,402.0 1016.8,399.9Q1017.7,397.8 1019.1,395.9Q1020.5,394.0 1021.9,394.6Q1023.3,395.1 1024.1,396.2Q1024.9,397.4 1024.1,399.7Q1023.3,402.1 1021.4,401.8Z" fill="#9c9a24"/><path d="M989.5,403.7Q987.6,403.9 985.7,404.1Q983.8,404.2 984.2,402.8Q984.6,401.3 984.1,399.8Q983.6,398.3 985.7,398.1Q987.8,398.0 989.7,397.7Q991.7,397.5 991.1,399.1Q990.4,400.7 990.9,402.0Q991.3,403.4 989.5,403.7Z" fill="#b0aa38"/><path d="M924.3,411.3Q923.4,412.9 922.2,413.8Q921.1,414.7 920.2,413.6Q919.3,412.5 917.9,411.5Q916.6,410.4 918.2,409.9Q919.8,409.3 920.9,408.5Q922.0,407.8 923.6,408.7Q925.2,409.7 924.3,411.3Z" fill="#b0aa38"/><path d="M935.8,402.7Q936.3,404.9 937.1,407.1Q937.8,409.4 935.6,408.7Q933.4,408.0 931.5,407.1Q929.6,406.2 930.6,404.4Q931.6,402.7 933.5,401.6Q935.3,400.6 935.8,402.7Z" fill="#d23a10"/><path d="M909.4,407.2Q909.2,408.8 909.7,410.1Q910.1,411.5 909.1,411.4Q908.1,411.3 907.4,411.7Q906.6,412.1 906.5,410.9Q906.5,409.7 906.3,408.5Q906.1,407.4 906.9,407.2Q907.7,407.1 908.7,406.3Q909.6,405.5 909.4,407.2Z" fill="#d23a10"/><path d="M1006.9,401.2Q1007.2,399.6 1007.6,398.1Q1007.9,396.6 1009.3,397.3Q1010.6,398.0 1012.2,398.4Q1013.9,398.8 1012.9,400.2Q1011.9,401.6 1010.9,402.6Q1009.9,403.5 1008.3,403.2Q1006.7,402.8 1006.9,401.2Z" fill="#a6a428"/><path d="M946.5,400.5Q948.9,401.2 951.2,401.2Q953.6,401.3 952.6,403.5Q951.6,405.7 952.4,408.4Q953.2,411.1 950.6,410.6Q948.0,410.0 945.8,409.5Q943.6,409.1 944.4,407.0Q945.2,404.9 944.6,402.3Q944.1,399.8 946.5,400.5Z" fill="#a6a428"/><path d="M940.8,407.4Q941.2,406.2 942.1,405.5Q943.1,404.9 944.2,406.3Q945.4,407.7 946.0,409.5Q946.7,411.4 945.1,411.1Q943.4,410.9 942.0,409.8Q940.5,408.7 940.8,407.4Z" fill="#a6a428"/><path d="M1011.7,387.4Q1013.0,384.8 1014.5,383.3Q1016.1,381.7 1017.6,383.6Q1019.1,385.5 1019.6,388.4Q1020.0,391.3 1017.7,390.9Q1015.3,390.4 1012.8,390.2Q1010.3,389.9 1011.7,387.4Z" fill="#b0aa38"/><path d="M987.1,403.9Q988.3,401.6 989.7,400.2Q991.2,398.8 992.4,400.6Q993.6,402.3 994.0,404.9Q994.4,407.4 992.3,407.4Q990.2,407.5 988.0,406.9Q985.9,406.3 987.1,403.9Z" fill="#b0aa38"/><path d="M961.0,397.9Q959.5,398.3 958.0,398.0Q956.6,397.6 957.1,396.1Q957.6,394.6 958.4,393.4Q959.3,392.2 960.1,393.4Q960.9,394.6 961.7,396.1Q962.5,397.6 961.0,397.9Z" fill="#d23a10"/><path d="M1088.0,402.4Q1089.0,401.1 1090.1,399.6Q1091.1,398.1 1091.7,399.9Q1092.2,401.8 1093.0,403.1Q1093.8,404.4 1092.9,405.8Q1092.0,407.2 1090.9,409.1Q1089.8,411.0 1089.1,408.9Q1088.4,406.8 1087.7,405.2Q1087.0,403.7 1088.0,402.4Z" fill="#9c9a24"/><path d="M934.9,408.3Q934.3,409.7 933.9,411.4Q933.4,413.1 931.3,412.6Q929.2,412.0 927.3,411.9Q925.3,411.9 925.9,410.4Q926.4,409.0 926.9,407.2Q927.3,405.4 929.7,405.7Q932.0,406.0 933.7,406.5Q935.4,407.0 934.9,408.3Z" fill="#9c9a24"/><path d="M961.2,401.2Q960.6,400.1 959.5,399.4Q958.4,398.7 959.8,397.5Q961.3,396.3 962.9,395.3Q964.6,394.3 964.9,395.7Q965.3,397.1 965.0,398.5Q964.7,400.0 963.2,401.2Q961.8,402.3 961.2,401.2Z" fill="#b0aa38"/><path d="M1050.5,394.7Q1049.8,396.6 1048.6,398.3Q1047.5,400.0 1046.2,398.3Q1044.9,396.6 1044.7,394.4Q1044.5,392.1 1046.2,391.6Q1047.9,391.1 1049.6,392.0Q1051.2,392.8 1050.5,394.7Z" fill="#b0aa38"/><path d="M928.6,400.6Q927.4,401.8 925.9,403.0Q924.4,404.2 924.3,402.3Q924.3,400.4 924.6,398.8Q925.0,397.3 926.3,397.5Q927.6,397.7 928.7,398.6Q929.8,399.5 928.6,400.6Z" fill="#d5401a"/><path d="M962.7,390.0Q963.7,389.3 964.5,388.2Q965.2,387.0 965.6,387.9Q965.9,388.8 966.7,389.4Q967.5,389.9 966.4,390.7Q965.3,391.6 964.4,392.7Q963.6,393.8 963.1,393.0Q962.6,392.2 962.2,391.5Q961.8,390.7 962.7,390.0Z" fill="#d5401a"/><path d="M1069.1,389.3Q1069.2,391.4 1069.3,393.3Q1069.3,395.1 1068.0,395.0Q1066.8,394.8 1065.4,395.2Q1063.9,395.6 1063.9,393.3Q1063.9,391.1 1063.7,389.1Q1063.6,387.0 1064.9,387.7Q1066.3,388.4 1067.7,387.8Q1069.0,387.1 1069.1,389.3Z" fill="#d5401a"/><path d="M912.3,423.9Q910.8,422.8 909.7,421.2Q908.5,419.7 910.0,419.0Q911.5,418.2 913.0,417.7Q914.5,417.3 914.7,419.2Q914.9,421.2 914.3,423.1Q913.7,425.0 912.3,423.9Z" fill="#b0aa38"/><path d="M955.1,406.0Q955.2,404.5 954.8,403.2Q954.5,401.9 955.9,401.6Q957.2,401.3 958.6,401.2Q959.9,401.2 959.8,402.5Q959.7,403.8 960.6,405.4Q961.4,406.9 959.8,407.1Q958.1,407.3 956.6,407.4Q955.0,407.5 955.1,406.0Z" fill="#a6a428"/><path d="M983.5,403.2Q984.1,405.0 984.7,407.1Q985.2,409.2 983.5,409.8Q981.8,410.5 979.7,410.9Q977.5,411.4 977.6,408.7Q977.8,406.0 978.2,403.5Q978.7,400.9 980.8,401.1Q982.9,401.4 983.5,403.2Z" fill="#cc3f14"/><path d="M987.9,385.9Q987.0,388.2 987.2,390.8Q987.4,393.4 985.7,393.0Q984.0,392.7 982.3,392.1Q980.5,391.6 981.0,389.0Q981.4,386.5 981.9,384.5Q982.5,382.5 983.9,383.1Q985.3,383.7 987.1,383.6Q988.8,383.6 987.9,385.9Z" fill="#a6a428"/><path d="M952.9,393.1Q953.4,394.8 954.6,396.2Q955.8,397.6 953.9,398.3Q952.1,399.0 950.2,399.7Q948.4,400.3 947.4,398.9Q946.3,397.5 945.6,395.8Q945.0,394.1 947.1,393.8Q949.2,393.5 950.8,392.4Q952.5,391.4 952.9,393.1Z" fill="#cc3f14"/><path d="M976.6,390.0Q974.2,389.8 972.8,388.2Q971.5,386.7 972.9,385.1Q974.3,383.5 976.0,382.0Q977.7,380.5 978.0,382.8Q978.2,385.1 978.6,387.7Q979.0,390.3 976.6,390.0Z" fill="#cc3f14"/><path d="M996.3,401.3Q996.3,403.3 996.5,405.3Q996.7,407.4 995.5,406.7Q994.3,406.0 993.0,405.0Q991.8,404.0 992.9,402.7Q994.0,401.3 995.1,400.3Q996.2,399.3 996.3,401.3Z" fill="#cc3f14"/><path d="M1060.4,397.2Q1061.9,398.5 1063.7,399.0Q1065.5,399.5 1064.2,401.0Q1062.9,402.5 1061.7,403.6Q1060.5,404.8 1059.6,403.5Q1058.7,402.1 1057.7,400.8Q1056.7,399.5 1057.8,397.6Q1059.0,395.8 1060.4,397.2Z" fill="#cc3f14"/><path d="M1083.2,399.3Q1085.5,398.5 1087.6,399.0Q1089.7,399.6 1089.4,402.2Q1089.0,404.8 1087.4,407.0Q1085.8,409.3 1084.4,407.0Q1083.1,404.8 1082.0,402.4Q1080.9,400.1 1083.2,399.3Z" fill="#a6a428"/><path d="M1000.3,408.2Q998.8,408.1 997.4,408.1Q996.0,408.1 996.4,406.8Q996.9,405.6 997.6,404.4Q998.3,403.1 999.9,402.9Q1001.4,402.6 1002.7,402.8Q1004.0,403.1 1003.5,404.3Q1003.1,405.5 1002.4,406.9Q1001.8,408.3 1000.3,408.2Z" fill="#d23a10"/><path d="M1010.5,391.1Q1009.8,391.8 1008.8,391.9Q1007.7,392.1 1006.8,391.0Q1005.9,389.9 1005.2,388.6Q1004.5,387.2 1005.8,387.2Q1007.2,387.2 1008.5,387.5Q1009.9,387.9 1010.5,389.2Q1011.1,390.5 1010.5,391.1Z" fill="#9c9a24"/><path d="M1086.2,395.0Q1088.2,395.7 1090.4,397.1Q1092.5,398.5 1090.8,399.6Q1089.1,400.7 1087.4,401.6Q1085.8,402.4 1084.6,400.3Q1083.4,398.2 1083.8,396.2Q1084.2,394.3 1086.2,395.0Z" fill="#a6a428"/><path d="M977.8,407.2Q977.7,404.8 976.8,402.6Q975.9,400.3 977.7,400.7Q979.5,401.1 980.9,399.7Q982.3,398.4 982.2,400.9Q982.1,403.5 983.3,405.8Q984.5,408.0 982.7,408.2Q981.0,408.4 979.5,409.0Q978.0,409.5 977.8,407.2Z" fill="#d23a10"/><path d="M1092.8,398.0Q1092.5,400.9 1091.9,403.2Q1091.4,405.6 1089.2,404.5Q1087.1,403.5 1085.6,401.7Q1084.0,400.0 1086.0,398.6Q1087.9,397.3 1090.5,396.2Q1093.2,395.1 1092.8,398.0Z" fill="#9c9a24"/><path d="M958.1,395.8Q958.7,398.6 959.4,400.7Q960.2,402.9 958.2,402.9Q956.1,402.9 954.0,403.2Q951.9,403.4 952.4,401.1Q952.9,398.9 953.0,396.8Q953.0,394.7 955.3,393.9Q957.6,393.1 958.1,395.8Z" fill="#d23a10"/><path d="M1052.9,407.0Q1051.7,408.3 1050.3,409.0Q1048.9,409.8 1047.4,408.5Q1045.9,407.3 1045.1,405.6Q1044.3,403.9 1045.9,403.3Q1047.5,402.8 1049.5,402.2Q1051.5,401.6 1052.8,403.6Q1054.0,405.7 1052.9,407.0Z" fill="#cc3f14"/><path d="M982.6,401.0Q983.3,399.2 984.2,397.8Q985.2,396.5 986.2,398.7Q987.2,401.0 987.6,402.9Q988.1,404.8 986.8,404.9Q985.4,405.1 983.6,404.0Q981.9,402.8 982.6,401.0Z" fill="#d5401a"/><path d="M1002.6,397.8Q1003.9,396.8 1005.4,396.5Q1006.9,396.1 1007.5,397.7Q1008.0,399.3 1008.9,400.9Q1009.8,402.6 1008.3,403.4Q1006.8,404.3 1005.1,405.4Q1003.3,406.4 1002.9,404.2Q1002.4,402.0 1001.9,400.4Q1001.4,398.8 1002.6,397.8Z" fill="#cc3f14"/><path d="M1009.5,402.9Q1008.6,403.1 1007.6,403.8Q1006.6,404.4 1006.5,403.1Q1006.4,401.7 1006.4,400.5Q1006.5,399.3 1007.4,398.9Q1008.3,398.5 1009.4,398.1Q1010.5,397.7 1010.2,399.1Q1009.9,400.6 1010.1,401.7Q1010.4,402.7 1009.5,402.9Z" fill="#9c9a24"/><path d="M939.9,406.8Q941.9,406.9 943.9,407.5Q945.9,408.1 944.5,409.4Q943.2,410.8 942.1,412.0Q941.1,413.3 939.9,411.9Q938.7,410.5 938.3,408.6Q937.9,406.7 939.9,406.8Z" fill="#a6a428"/><path d="M958.5,396.5Q959.1,395.4 959.0,393.5Q959.0,391.7 960.3,392.8Q961.6,393.9 962.9,394.6Q964.2,395.3 963.8,396.8Q963.5,398.3 963.2,399.9Q962.9,401.5 961.6,400.1Q960.4,398.7 959.2,398.2Q958.0,397.6 958.5,396.5Z" fill="#9c9a24"/><path d="M903.1,419.9Q904.7,420.3 906.8,419.8Q908.9,419.4 908.6,421.1Q908.3,422.7 907.9,424.5Q907.5,426.4 905.5,425.8Q903.4,425.2 901.4,425.4Q899.4,425.5 899.7,423.9Q899.9,422.3 900.7,420.9Q901.5,419.5 903.1,419.9Z" fill="#a6a428"/><path d="M1077.0,398.9Q1078.4,400.7 1079.7,402.3Q1081.0,403.9 1079.2,404.2Q1077.4,404.5 1075.7,404.7Q1073.9,405.0 1072.8,403.2Q1071.7,401.5 1071.6,399.8Q1071.6,398.1 1073.5,397.6Q1075.5,397.1 1077.0,398.9Z" fill="#9c9a24"/><path d="M922.5,415.2Q923.2,413.5 923.6,411.5Q924.0,409.5 925.6,410.8Q927.2,412.0 928.7,412.8Q930.1,413.6 929.2,415.0Q928.3,416.5 926.9,417.6Q925.4,418.7 923.6,417.8Q921.9,416.8 922.5,415.2Z" fill="#d23a10"/><path d="M1056.6,393.5Q1056.2,391.4 1054.8,389.6Q1053.3,387.8 1056.2,387.4Q1059.1,386.9 1061.9,386.9Q1064.8,386.9 1064.7,388.9Q1064.6,390.9 1063.8,392.8Q1063.1,394.7 1060.0,395.1Q1056.9,395.6 1056.6,393.5Z" fill="#cc3f14"/><path d="M1084.1,401.7Q1083.0,401.7 1081.9,402.0Q1080.8,402.4 1080.6,401.4Q1080.5,400.4 1080.6,399.4Q1080.7,398.3 1081.8,398.4Q1083.0,398.4 1084.4,397.7Q1085.8,396.9 1085.6,398.3Q1085.4,399.6 1085.3,400.6Q1085.2,401.6 1084.1,401.7Z" fill="#a6a428"/><path d="M907.1,420.6Q905.6,420.6 904.2,420.7Q902.9,420.8 903.2,420.0Q903.6,419.2 903.5,418.2Q903.4,417.3 904.9,417.6Q906.3,417.9 907.9,418.1Q909.5,418.4 909.1,419.4Q908.6,420.5 907.1,420.6Z" fill="#9c9a24"/><path d="M1088.2,390.4Q1089.7,391.4 1091.2,392.5Q1092.6,393.6 1091.3,395.0Q1089.9,396.3 1088.8,397.7Q1087.7,399.0 1086.6,397.7Q1085.4,396.4 1083.2,395.8Q1081.0,395.2 1082.6,393.7Q1084.2,392.2 1085.4,390.8Q1086.7,389.4 1088.2,390.4Z" fill="#b0aa38"/><path d="M1003.3,400.7Q1005.1,399.3 1006.4,396.9Q1007.7,394.4 1008.5,397.0Q1009.2,399.6 1010.0,401.8Q1010.7,404.1 1008.9,404.6Q1007.1,405.1 1005.3,406.2Q1003.4,407.4 1002.5,404.8Q1001.5,402.1 1003.3,400.7Z" fill="#a6a428"/><path d="M994.5,400.3Q994.7,401.7 994.6,403.3Q994.4,404.8 992.9,404.0Q991.3,403.1 990.0,402.7Q988.6,402.2 989.2,401.1Q989.8,400.0 990.4,398.7Q991.1,397.5 992.7,398.2Q994.3,398.9 994.5,400.3Z" fill="#d5401a"/><path d="M921.5,417.5Q919.8,418.9 918.1,421.0Q916.5,423.1 915.5,421.1Q914.5,419.1 913.2,417.2Q911.9,415.4 914.1,413.9Q916.2,412.5 918.0,410.6Q919.7,408.6 920.2,411.1Q920.6,413.6 921.9,414.9Q923.2,416.2 921.5,417.5Z" fill="#d5401a"/><path d="M984.8,385.6Q983.3,386.3 982.3,388.0Q981.3,389.6 980.9,388.2Q980.6,386.7 980.0,385.9Q979.4,385.1 980.3,384.0Q981.2,383.0 982.4,381.9Q983.5,380.9 984.0,382.0Q984.5,383.1 985.4,384.0Q986.4,384.9 984.8,385.6Z" fill="#d23a10"/><path d="M1011.1,395.5Q1009.2,395.4 1007.3,395.6Q1005.3,395.8 1005.6,393.9Q1005.9,392.1 1006.2,390.2Q1006.5,388.4 1008.5,388.4Q1010.4,388.4 1012.0,388.7Q1013.5,389.0 1013.2,390.5Q1012.8,392.0 1012.9,393.8Q1012.9,395.5 1011.1,395.5Z" fill="#a6a428"/><path d="M1055.4,392.5Q1055.6,391.3 1055.3,390.1Q1055.0,388.9 1056.4,389.2Q1057.7,389.5 1059.2,389.5Q1060.7,389.5 1060.0,390.6Q1059.2,391.8 1058.8,393.1Q1058.4,394.5 1056.8,394.1Q1055.2,393.8 1055.4,392.5Z" fill="#d23a10"/><path d="M974.3,382.8Q976.6,383.3 978.8,384.1Q980.9,384.9 979.4,386.4Q977.9,388.0 976.0,389.3Q974.2,390.6 973.5,388.6Q972.8,386.6 972.3,384.5Q971.9,382.3 974.3,382.8Z" fill="#d23a10"/><path d="M966.4,388.6Q966.7,389.9 967.1,391.3Q967.6,392.6 966.3,392.2Q965.0,391.8 964.1,391.8Q963.1,391.8 963.1,390.7Q963.1,389.6 962.2,388.2Q961.4,386.7 962.7,387.1Q964.0,387.4 965.0,387.4Q966.1,387.4 966.4,388.6Z" fill="#cc3f14"/><path d="M1048.3,403.5Q1050.0,403.1 1051.8,401.7Q1053.5,400.2 1054.2,402.7Q1054.8,405.1 1055.5,407.6Q1056.2,410.0 1054.1,410.1Q1051.9,410.2 1050.2,411.7Q1048.5,413.1 1048.3,410.5Q1048.1,407.9 1047.4,405.9Q1046.6,403.9 1048.3,403.5Z" fill="#d23a10"/><path d="M969.9,398.7Q970.3,397.5 970.1,396.1Q969.9,394.8 971.3,395.4Q972.7,395.9 973.9,396.0Q975.1,396.1 974.9,397.2Q974.7,398.3 974.7,399.4Q974.7,400.6 973.4,400.5Q972.1,400.4 970.8,400.1Q969.5,399.8 969.9,398.7Z" fill="#d23a10"/><path d="M945.4,402.1Q943.0,401.8 940.9,401.1Q938.8,400.3 939.3,397.8Q939.8,395.4 941.2,393.8Q942.6,392.1 943.8,394.5Q945.0,396.8 946.4,399.6Q947.8,402.3 945.4,402.1Z" fill="#b0aa38"/><path d="M1032.4,403.4Q1033.6,402.1 1035.3,401.1Q1037.0,400.1 1037.5,402.0Q1038.0,403.8 1037.9,405.9Q1037.9,408.1 1036.1,407.1Q1034.2,406.2 1032.8,405.4Q1031.3,404.7 1032.4,403.4Z" fill="#a6a428"/><path d="M1056.7,401.5Q1057.7,402.7 1058.2,404.0Q1058.7,405.3 1057.0,405.7Q1055.2,406.2 1053.5,406.3Q1051.8,406.5 1052.6,404.9Q1053.3,403.4 1054.5,401.9Q1055.7,400.4 1056.7,401.5Z" fill="#d23a10"/><path d="M1065.9,393.4Q1065.5,395.6 1065.0,398.2Q1064.5,400.7 1062.9,400.2Q1061.3,399.7 1059.4,400.6Q1057.5,401.4 1058.6,398.8Q1059.8,396.1 1059.9,393.8Q1059.9,391.4 1061.5,391.7Q1063.1,392.0 1064.7,391.6Q1066.3,391.2 1065.9,393.4Z" fill="#a6a428"/><path d="M1063.8,400.7Q1065.3,401.0 1066.9,401.2Q1068.5,401.4 1068.6,403.1Q1068.8,404.8 1069.0,406.5Q1069.2,408.3 1067.5,407.7Q1065.9,407.1 1064.4,407.2Q1062.9,407.2 1062.7,405.6Q1062.5,403.9 1062.4,402.2Q1062.2,400.5 1063.8,400.7Z" fill="#a6a428"/><path d="M1012.8,390.0Q1011.8,388.0 1011.5,386.0Q1011.3,384.1 1013.3,383.9Q1015.4,383.7 1017.1,384.5Q1018.8,385.3 1017.7,386.8Q1016.7,388.3 1015.3,390.1Q1013.8,391.9 1012.8,390.0Z" fill="#a6a428"/><path d="M939.4,389.1Q940.9,387.7 942.5,387.5Q944.0,387.3 943.7,389.5Q943.4,391.7 943.1,394.0Q942.8,396.2 941.2,396.5Q939.6,396.8 937.9,396.5Q936.1,396.2 937.0,393.4Q937.9,390.6 939.4,389.1Z" fill="#9c9a24"/><path d="M1026.1,396.4Q1025.7,398.3 1025.4,400.8Q1025.2,403.4 1024.0,401.6Q1022.7,399.8 1021.6,398.8Q1020.6,397.8 1021.3,396.2Q1022.0,394.5 1023.0,393.3Q1024.1,392.0 1025.3,393.3Q1026.6,394.5 1026.1,396.4Z" fill="#b0aa38"/><path d="M1021.1,385.2Q1022.0,386.1 1023.4,386.8Q1024.8,387.4 1023.5,388.6Q1022.2,389.7 1021.3,390.6Q1020.3,391.5 1019.8,390.3Q1019.4,389.0 1018.3,387.6Q1017.2,386.2 1018.7,385.3Q1020.2,384.3 1021.1,385.2Z" fill="#9c9a24"/><path d="M1017.9,388.5Q1018.3,386.6 1018.1,384.7Q1017.8,382.9 1019.9,382.6Q1022.0,382.3 1024.2,382.3Q1026.4,382.2 1026.2,384.2Q1025.9,386.2 1026.2,388.4Q1026.5,390.6 1024.1,390.6Q1021.7,390.6 1019.5,390.5Q1017.4,390.5 1017.9,388.5Z" fill="#d23a10"/><path d="M1032.7,383.7Q1031.4,384.9 1030.0,385.8Q1028.6,386.7 1028.3,384.9Q1028.0,383.0 1027.8,381.1Q1027.6,379.2 1029.2,379.8Q1030.9,380.3 1032.4,381.4Q1034.0,382.6 1032.7,383.7Z" fill="#d5401a"/><path d="M932.0,395.1Q930.9,396.8 929.8,398.4Q928.7,400.0 927.5,398.9Q926.4,397.7 925.7,396.3Q925.0,394.8 926.5,394.0Q927.9,393.2 929.2,392.1Q930.5,391.1 931.8,392.3Q933.1,393.4 932.0,395.1Z" fill="#d23a10"/><path d="M920.6,399.6Q920.6,401.0 921.1,402.1Q921.7,403.2 920.5,403.3Q919.2,403.5 918.1,404.2Q917.0,404.9 916.8,403.6Q916.6,402.3 916.0,401.0Q915.5,399.8 916.8,399.5Q918.1,399.1 919.3,398.7Q920.5,398.2 920.6,399.6Z" fill="#d23a10"/><path d="M1065.5,390.1Q1064.6,391.9 1063.6,393.2Q1062.5,394.6 1061.2,393.5Q1059.9,392.5 1057.8,392.2Q1055.8,391.9 1056.8,390.3Q1057.9,388.6 1058.7,387.2Q1059.5,385.8 1061.2,386.2Q1062.8,386.6 1064.6,387.4Q1066.5,388.3 1065.5,390.1Z" fill="#d5401a"/><path d="M994.3,404.4Q994.6,406.8 993.9,409.2Q993.3,411.7 991.5,410.9Q989.6,410.2 988.3,408.5Q987.0,406.8 988.7,405.4Q990.4,404.1 992.2,403.1Q994.0,402.0 994.3,404.4Z" fill="#d23a10"/><path d="M933.1,411.5Q934.6,410.4 935.4,409.1Q936.1,407.9 937.0,408.9Q937.9,410.0 939.3,410.8Q940.7,411.7 939.5,412.8Q938.3,413.9 937.5,415.5Q936.8,417.2 935.8,415.7Q934.9,414.2 933.2,413.4Q931.6,412.6 933.1,411.5Z" fill="#d23a10"/><path d="M982.7,402.2Q984.5,401.6 986.3,400.9Q988.1,400.1 988.7,402.1Q989.3,404.1 989.7,406.1Q990.2,408.2 988.3,408.8Q986.4,409.4 984.4,410.2Q982.4,411.0 982.1,408.8Q981.7,406.5 981.3,404.6Q980.9,402.7 982.7,402.2Z" fill="#d5401a"/><path d="M982.2,395.2Q982.5,393.4 983.1,391.8Q983.8,390.2 985.2,391.1Q986.6,391.9 987.6,393.4Q988.6,394.8 987.0,395.8Q985.5,396.8 983.7,396.9Q981.9,397.0 982.2,395.2Z" fill="#cc3f14"/><path d="M963.4,406.9Q961.0,407.6 958.7,407.5Q956.3,407.5 956.6,405.2Q956.8,403.0 957.8,400.5Q958.9,397.9 961.2,399.7Q963.6,401.5 964.7,403.8Q965.8,406.2 963.4,406.9Z" fill="#a6a428"/><path d="M909.9,409.9Q911.1,411.2 911.9,412.7Q912.6,414.2 911.2,415.4Q909.7,416.5 908.3,417.7Q906.8,418.9 905.5,417.9Q904.1,416.8 903.1,415.2Q902.0,413.6 903.7,412.2Q905.4,410.8 907.1,409.7Q908.8,408.6 909.9,409.9Z" fill="#cc3f14"/><path d="M1071.8,401.4Q1072.7,403.2 1073.8,405.6Q1074.9,408.0 1072.7,407.4Q1070.6,406.8 1069.0,405.4Q1067.4,404.0 1067.9,402.5Q1068.5,401.1 1069.7,400.3Q1070.9,399.6 1071.8,401.4Z" fill="#d23a10"/><path d="M926.7,409.9Q927.0,412.2 926.9,414.8Q926.9,417.4 925.3,416.8Q923.8,416.2 922.2,416.2Q920.5,416.2 921.3,413.9Q922.1,411.6 922.6,409.3Q923.2,407.0 924.8,407.3Q926.4,407.5 926.7,409.9Z" fill="#cc3f14"/><path d="M957.9,400.5Q956.6,398.8 955.1,397.6Q953.6,396.4 954.4,395.4Q955.2,394.5 955.9,393.5Q956.5,392.6 957.8,393.8Q959.0,395.1 960.3,396.4Q961.6,397.7 960.6,398.4Q959.7,399.1 959.4,400.6Q959.1,402.2 957.9,400.5Z" fill="#a6a428"/><path d="M949.4,398.6Q948.2,399.6 946.7,400.4Q945.2,401.3 944.8,399.3Q944.4,397.4 943.1,395.7Q941.8,394.1 943.4,393.3Q945.1,392.6 946.6,391.3Q948.1,390.1 948.4,392.4Q948.7,394.7 949.7,396.2Q950.7,397.6 949.4,398.6Z" fill="#9c9a24"/><path d="M1073.1,387.6Q1074.2,385.7 1076.2,384.7Q1078.3,383.7 1079.1,385.9Q1079.8,388.0 1079.8,390.0Q1079.8,392.0 1077.9,391.4Q1076.0,390.8 1074.1,390.1Q1072.1,389.4 1073.1,387.6Z" fill="#a6a428"/><path d="M1091.6,401.4Q1089.3,402.5 1086.7,402.1Q1084.1,401.7 1084.2,399.0Q1084.3,396.3 1086.0,394.4Q1087.7,392.4 1089.8,393.9Q1092.0,395.3 1093.0,397.8Q1094.0,400.4 1091.6,401.4Z" fill="#a6a428"/><path d="M971.5,408.4Q969.8,408.4 968.2,409.4Q966.7,410.4 966.8,408.2Q967.0,406.1 967.1,404.5Q967.2,402.9 968.4,402.6Q969.6,402.2 970.9,401.6Q972.2,400.9 972.0,402.8Q971.8,404.6 972.5,406.5Q973.1,408.5 971.5,408.4Z" fill="#cc3f14"/><path d="M952.1,390.9Q951.9,393.8 951.5,396.6Q951.2,399.5 949.2,397.8Q947.1,396.1 945.2,395.5Q943.3,394.9 944.4,392.9Q945.4,390.9 946.5,389.2Q947.6,387.4 949.9,387.8Q952.3,388.1 952.1,390.9Z" fill="#d5401a"/><path d="M980.8,398.0Q981.3,395.9 981.6,393.9Q981.9,391.9 983.2,393.2Q984.4,394.5 984.9,396.4Q985.4,398.3 984.4,399.1Q983.4,400.0 981.8,400.0Q980.3,400.1 980.8,398.0Z" fill="#d5401a"/><path d="M1026.2,406.8Q1023.8,406.2 1021.8,404.5Q1019.7,402.9 1021.6,401.4Q1023.5,399.9 1025.4,398.8Q1027.3,397.7 1027.9,400.0Q1028.6,402.4 1028.6,404.9Q1028.5,407.5 1026.2,406.8Z" fill="#9c9a24"/><path d="M1086.7,401.3Q1088.2,402.9 1088.8,405.0Q1089.4,407.1 1087.7,408.4Q1086.0,409.6 1084.0,410.4Q1081.9,411.2 1082.2,408.3Q1082.4,405.4 1083.7,402.6Q1085.1,399.8 1086.7,401.3Z" fill="#a6a428"/><path d="M986.4,407.5Q984.4,406.7 982.0,405.7Q979.6,404.7 981.6,402.8Q983.6,400.9 984.9,399.2Q986.1,397.5 987.7,398.7Q989.3,400.0 990.3,402.0Q991.2,404.0 989.9,406.2Q988.5,408.3 986.4,407.5Z" fill="#d23a10"/><path d="M1008.5,399.0Q1006.6,397.1 1005.6,395.2Q1004.5,393.3 1006.0,391.9Q1007.5,390.4 1009.1,389.3Q1010.8,388.2 1011.3,390.2Q1011.9,392.3 1013.2,394.4Q1014.4,396.6 1012.4,398.7Q1010.4,400.8 1008.5,399.0Z" fill="#b0aa38"/><path d="M1050.1,410.3Q1049.9,407.6 1049.5,405.6Q1049.1,403.6 1050.8,402.8Q1052.4,402.0 1054.1,401.5Q1055.8,401.0 1056.5,402.7Q1057.3,404.5 1057.8,406.7Q1058.3,408.9 1056.3,409.2Q1054.2,409.4 1052.3,411.2Q1050.4,412.9 1050.1,410.3Z" fill="#d23a10"/><path d="M1066.4,406.8Q1064.1,406.1 1061.7,405.5Q1059.4,404.8 1061.1,402.9Q1062.8,400.9 1064.2,399.2Q1065.7,397.5 1067.0,399.0Q1068.4,400.4 1069.9,401.8Q1071.4,403.1 1070.0,405.3Q1068.6,407.4 1066.4,406.8Z" fill="#d5401a"/><path d="M951.0,400.1Q952.4,397.6 954.9,396.3Q957.4,395.0 957.6,397.8Q957.7,400.6 958.1,403.5Q958.4,406.3 956.0,405.5Q953.6,404.7 951.6,403.7Q949.6,402.6 951.0,400.1Z" fill="#cc3f14"/><path d="M1070.6,403.0Q1070.3,401.6 1070.0,400.1Q1069.8,398.6 1071.2,398.8Q1072.5,399.0 1074.1,398.7Q1075.7,398.4 1074.9,400.0Q1074.2,401.5 1074.1,403.2Q1074.0,404.9 1072.4,404.6Q1070.9,404.3 1070.6,403.0Z" fill="#d23a10"/><path d="M944.9,410.0Q942.9,409.0 940.5,409.1Q938.1,409.2 939.2,407.1Q940.3,405.1 941.5,403.2Q942.6,401.3 944.4,402.5Q946.1,403.6 947.5,405.1Q948.9,406.6 947.9,408.8Q946.9,411.1 944.9,410.0Z" fill="#a6a428"/><path d="M975.2,390.4Q976.8,391.2 978.6,391.6Q980.4,392.0 979.1,393.4Q977.8,394.9 977.2,396.2Q976.7,397.5 975.5,396.8Q974.3,396.0 972.2,396.1Q970.1,396.1 971.4,394.6Q972.8,393.1 973.2,391.4Q973.6,389.7 975.2,390.4Z" fill="#d23a10"/><path d="M967.3,392.7Q966.5,394.7 966.7,396.9Q966.8,399.2 964.6,398.9Q962.4,398.5 959.9,398.4Q957.3,398.3 958.4,395.9Q959.4,393.4 959.3,390.8Q959.2,388.2 961.6,389.1Q964.0,390.0 966.0,390.4Q968.1,390.8 967.3,392.7Z" fill="#cc3f14"/><path d="M1169.5,341.4 C1171,340 1173,340 1174.4,340.4 C1177,341 1179,342.4 1180,344.2 C1182.4,347 1184,350 1184.2,354 L1184.2,368 L1183.5,383.4 C1182.6,384.8 1181.4,385.2 1180,385.5 L1175.1,387.6 L1171.6,388.3 L1167.4,387.6 C1166.6,386.8 1166.2,385.8 1166,384.8 L1165.3,379.2 L1161.8,368 L1163.9,354 C1164.2,350 1165,347 1166,344.2 C1167,343 1168,342 1169.5,341.4Z" fill="url(#hatchP3)"/><path d="M1170.2,330.6 C1173,329.6 1176,331 1176.6,334 C1177,337 1176,339.4 1174.6,341.4 L1169.6,341.6 C1168,339.6 1167.4,336.6 1168,334 C1168.4,332.4 1169,331.2 1170.2,330.6Z" fill="url(#hatchP3)"/><path d="M1171.6,388.3 L1175.1,387.6 L1177.2,396 L1176.5,401.6 L1173,404.4 L1168.8,404.4 L1170.9,399.5 L1170.2,391.8Z" fill="url(#hatchP3)"/><path d="M1171.6,388.3 L1175.1,387.6 L1177.2,396 L1176.5,401.6 L1173,404.4 L1168.8,404.4 L1170.9,399.5 L1170.2,391.8Z" fill="url(#hatchP4)"/><path d="M1165.3,373.6 L1159.7,372.2 L1156.9,375 L1157.6,382.7 L1161.8,385.5 L1165.6,383Z" fill="url(#hatchP3)"/><path d="M1165.3,373.6 L1159.7,372.2 L1156.9,375 L1157.6,382.7 L1161.8,385.5 L1165.6,383Z" fill="url(#hatchP4)"/><line x1="856.5" y1="384.3" x2="856.5" y2="428.3" stroke="#555" stroke-width="0.9"/><circle cx="856.2" cy="376.3" r="8.0" fill="#fff" stroke="#444" stroke-width="0.8"/><text x="856.2" y="379.8" text-anchor="middle" class="bd" font-size="8.5">P6</text><line x1="1017.5" y1="363.40000000000003" x2="1017.5" y2="407.2" stroke="#555" stroke-width="0.9"/><circle cx="1017.1" cy="355.3" r="8.1" fill="#fff" stroke="#444" stroke-width="0.8"/><text x="1017.1" y="358.8" text-anchor="middle" class="bd" font-size="8.5">P4</text><line x1="1133.5" y1="363.40000000000003" x2="1133.5" y2="406.6" stroke="#555" stroke-width="0.9"/><circle cx="1133.5" cy="355.3" r="8.1" fill="#fff" stroke="#444" stroke-width="0.8"/><text x="1133.5" y="358.8" text-anchor="middle" class="bd" font-size="8.5">P2</text></g>
<g id="plan" stroke-linejoin="round" stroke-linecap="butt"><polyline points="212.7,774.0 215.4,775.7 219.2,777.5 222.1,781.2 227.9,785.4 222.8,790.9 228.4,796.3 231.1,805.7 224.0,822.6" fill="none" stroke="#161616" stroke-width="0.68" /><polyline points="217.6,773.3 220.5,774.7 222.1,778.3 226.9,780.1 233.4,785.3 229.7,790.6 236.0,796.1 238.9,805.1 227.7,821.1" fill="none" stroke="#161616" stroke-width="0.68" /><polyline points="229.2,770.6 230.6,775.3 237.5,778.3 239.4,780.4 242.6,785.1 239.8,790.3 244.1,795.9 247.3,804.2 235.6,819.2" fill="none" stroke="#161616" stroke-width="0.68" /><polyline points="234.8,762.2 236.2,770.2 242.0,776.2 246.2,779.8 252.1,784.9 249.6,790.0 253.0,795.6 254.4,803.5 249.9,817.6" fill="none" stroke="#161616" stroke-width="0.68" /><polyline points="248.2,754.0 249.6,764.3 252.5,772.3 256.1,780.1 262.1,784.8 257.3,789.7 263.8,795.3 264.3,802.6 256.3,815.6" fill="none" stroke="#161616" stroke-width="0.68" /><polyline points="252.1,749.4 257.1,759.5 259.2,771.4 265.0,779.9 270.8,784.6 265.5,789.4 270.6,795.1 273.1,801.9 259.3,814.0" fill="none" stroke="#161616" stroke-width="0.68" /><polyline points="265.3,748.9 267.6,759.6 269.1,771.5 271.5,781.0 277.7,784.5 272.6,789.2 277.6,794.9 282.0,801.2 265.3,812.5" fill="none" stroke="#161616" stroke-width="0.68" /><polyline points="269.5,748.4 273.6,760.6 275.8,770.0 277.3,779.7 285.6,784.4 280.5,788.9 286.9,794.6 288.6,800.5 279.6,811.0" fill="none" stroke="#161616" stroke-width="0.68" /><polyline points="281.0,747.6 281.0,759.5 286.6,770.3 286.2,781.7 291.4,784.2 287.8,788.6 293.6,794.4 294.7,799.8 284.4,809.4" fill="none" stroke="#161616" stroke-width="0.68" /><polyline points="283.2,747.9 290.5,760.1 292.8,770.2 296.0,779.7 299.2,783.9 296.1,788.4 303.8,794.2 306.1,799.1 290.1,807.7" fill="none" stroke="#161616" stroke-width="0.68" /><polyline points="296.1,747.2 300.7,757.5 301.7,770.0 306.8,780.9 310.4,783.7 307.7,788.0 313.0,794.0 313.9,798.5 305.6,806.4" fill="none" stroke="#161616" stroke-width="0.68" /><polyline points="307.0,747.9 309.0,758.3 311.2,769.2 315.4,779.0 320.3,783.4 318.3,787.7 323.0,793.7 323.7,798.0 312.0,805.6" fill="none" stroke="#161616" stroke-width="0.68" /><polyline points="316.1,745.4 318.8,756.4 321.2,768.6 322.5,780.3 328.9,783.1 326.2,787.4 332.1,793.5 330.8,797.6 323.0,804.9" fill="none" stroke="#161616" stroke-width="0.68" /><polyline points="324.0,759.2 329.0,765.2 332.7,772.1 334.1,778.9 338.1,782.9 336.2,787.1 341.5,793.2 342.3,797.2 328.5,804.1" fill="none" stroke="#161616" stroke-width="0.68" /><polyline points="334.3,768.2 338.4,771.9 341.3,774.9 339.7,779.3 345.7,782.6 342.5,786.9 348.1,793.0 350.3,796.9 337.6,803.6" fill="none" stroke="#161616" stroke-width="0.68" /><polyline points="337.2,769.8 339.7,774.5 344.4,776.9 351.7,778.7 357.2,782.4 351.9,786.6 357.2,792.7 358.6,796.5 351.0,803.0" fill="none" stroke="#161616" stroke-width="0.68" /><polyline points="349.7,770.9 354.1,773.7 357.5,776.9 361.4,779.4 363.2,782.1 361.1,786.3 365.2,792.4 367.1,796.1 361.9,802.5" fill="none" stroke="#161616" stroke-width="0.68" /><polyline points="357.8,770.9 361.4,773.5 365.3,775.8 368.2,779.8 370.5,781.9 370.1,786.1 374.4,792.2 374.8,795.8 368.2,802.0" fill="none" stroke="#161616" stroke-width="0.68" /><polyline points="368.3,771.1 372.4,774.0 373.8,776.1 375.5,779.1 382.9,781.6 379.4,785.7 384.6,791.8 386.5,795.3 379.2,801.2" fill="none" stroke="#161616" stroke-width="0.68" /><polyline points="378.5,769.5 382.6,773.5 383.2,774.5 387.1,778.4 393.2,781.4 389.3,785.4 393.0,791.5 395.4,794.8 384.1,800.4" fill="none" stroke="#161616" stroke-width="0.68" /><polyline points="387.7,768.8 387.4,772.5 393.2,776.1 395.9,779.2 400.0,781.1 398.3,785.2 400.7,791.2 403.4,794.4 394.4,799.8" fill="none" stroke="#161616" stroke-width="0.68" /><polyline points="393.5,769.0 397.4,771.0 400.2,775.5 406.5,777.2 410.6,780.9 407.9,784.9 411.6,790.9 412.5,793.9 402.1,799.1" fill="none" stroke="#161616" stroke-width="0.68" /><polyline points="400.1,768.0 406.1,770.2 411.2,774.2 413.2,778.1 417.0,780.6 415.4,784.6 420.0,790.6 424.1,793.5 406.7,798.4" fill="none" stroke="#161616" stroke-width="0.68" /><polyline points="414.6,766.3 419.3,769.5 418.7,772.7 422.5,778.4 425.8,780.4 424.8,784.4 427.5,790.2 429.4,793.9 423.1,800.2" fill="none" stroke="#161616" stroke-width="0.68" /><polyline points="421.8,763.4 425.3,767.7 427.2,772.3 428.6,777.2 434.9,780.1 431.7,784.1 436.8,790.0 437.9,794.5 426.6,802.5" fill="none" stroke="#161616" stroke-width="0.68" /><polyline points="428.3,763.8 432.4,768.5 434.2,772.8 440.8,777.9 443.7,779.9 440.7,783.9 447.5,789.6 449.1,794.3 441.1,802.5" fill="none" stroke="#161616" stroke-width="0.68" /><polyline points="440.0,758.9 439.5,766.0 443.7,771.6 444.9,776.4 452.3,779.7 447.3,783.7 452.8,789.4 457.1,793.9 445.2,801.8" fill="none" stroke="#161616" stroke-width="0.68" /><polyline points="445.4,757.0 448.4,762.7 448.7,769.0 451.8,776.6 459.2,779.5 456.4,783.5 460.1,789.1 461.6,792.4 456.0,797.9" fill="none" stroke="#161616" stroke-width="0.68" /><polyline points="449.2,753.3 457.9,761.5 461.5,768.5 464.5,776.2 469.4,779.2 466.9,783.2 470.2,788.7 474.8,792.0 459.7,797.4" fill="none" stroke="#161616" stroke-width="0.68" /><polyline points="460.8,752.6 463.6,760.9 466.8,769.3 474.7,776.4 479.3,778.9 475.6,782.9 479.9,788.4 482.2,791.6 472.3,797.0" fill="none" stroke="#161616" stroke-width="0.68" /><polyline points="477.0,753.0 479.0,760.9 479.9,768.8 484.9,776.1 488.8,778.6 485.8,782.6 489.7,788.1 490.9,791.2 478.6,796.6" fill="none" stroke="#161616" stroke-width="0.68" /><polyline points="484.9,751.9 488.2,758.9 491.9,767.9 490.9,775.8 496.9,778.4 493.8,782.4 498.3,787.8 501.7,790.9 486.5,796.2" fill="none" stroke="#161616" stroke-width="0.68" /><polyline points="485.1,750.9 493.3,758.2 496.2,765.9 499.8,774.8 505.1,778.1 502.6,782.1 509.5,787.5 510.2,790.5 500.8,795.7" fill="none" stroke="#161616" stroke-width="0.68" /><polyline points="497.0,750.1 498.9,758.1 507.0,765.3 512.5,774.1 515.2,777.9 511.3,781.9 517.3,787.1 518.0,790.2 509.2,795.3" fill="none" stroke="#161616" stroke-width="0.68" /><polyline points="509.1,747.9 510.9,757.4 515.7,765.3 519.9,774.1 522.3,777.6 520.0,781.6 524.4,786.8 527.8,789.9 519.1,795.0" fill="none" stroke="#161616" stroke-width="0.68" /><polyline points="514.7,747.1 523.2,754.3 527.0,764.6 528.8,775.3 533.2,777.2 531.0,781.3 537.2,786.4 538.0,789.5 527.1,794.6" fill="none" stroke="#161616" stroke-width="0.68" /><polyline points="526.0,743.9 531.3,752.9 532.9,763.8 536.9,773.6 544.3,776.8 540.7,780.9 545.1,786.0 547.5,789.1 537.2,794.3" fill="none" stroke="#161616" stroke-width="0.68" /><polyline points="535.9,742.1 537.0,751.2 544.9,763.4 548.3,773.0 552.0,776.5 550.2,780.6 554.8,785.6 557.0,788.7 545.9,794.1" fill="none" stroke="#161616" stroke-width="0.68" /><polyline points="549.7,741.9 551.9,750.5 550.5,761.7 554.9,773.3 559.1,776.1 557.4,780.3 561.0,785.2 564.0,788.4 556.8,793.8" fill="none" stroke="#161616" stroke-width="0.68" /><polyline points="555.4,740.1 557.7,751.9 563.2,760.9 562.6,773.3 569.9,775.8 567.3,780.0 570.7,784.8 572.5,788.1 564.4,793.6" fill="none" stroke="#161616" stroke-width="0.68" /><polyline points="564.0,740.2 565.6,751.7 571.2,761.5 572.2,771.2 578.9,775.4 573.5,779.7 578.6,784.5 581.7,787.7 571.0,793.3" fill="none" stroke="#161616" stroke-width="0.68" /><polyline points="566.5,739.8 573.5,749.9 575.8,761.9 581.8,771.3 584.8,775.1 582.4,779.4 588.5,784.1 588.3,787.4 580.8,793.0" fill="none" stroke="#161616" stroke-width="0.68" /><polyline points="578.7,741.3 580.6,751.4 584.4,760.6 589.3,772.4 596.0,774.7 591.1,779.1 596.4,783.7 598.0,787.0 588.5,792.6" fill="none" stroke="#161616" stroke-width="0.68" /><polyline points="591.0,740.9 593.4,751.2 596.0,759.9 599.5,771.9 602.6,774.4 598.8,778.8 605.3,783.3 607.3,786.6 597.7,792.2" fill="none" stroke="#161616" stroke-width="0.68" /><polyline points="592.9,740.1 600.6,749.2 601.2,760.9 609.5,769.6 612.9,774.0 608.4,778.5 615.2,782.9 615.8,786.2 603.2,791.7" fill="none" stroke="#161616" stroke-width="0.68" /><polyline points="608.3,741.5 609.6,752.3 614.6,760.6 617.4,770.6 622.8,773.6 620.4,778.1 623.9,782.5 627.0,785.7 614.0,791.3" fill="none" stroke="#161616" stroke-width="0.68" /><polyline points="616.3,744.7 619.2,752.3 623.8,761.7 626.6,769.5 630.9,773.2 629.7,777.7 635.5,782.1 634.6,785.3 624.8,790.8" fill="none" stroke="#161616" stroke-width="0.68" /><polyline points="629.5,743.0 629.0,751.6 633.4,761.5 633.9,768.2 640.3,772.8 637.7,777.4 643.7,782.0 642.4,785.6 635.9,791.8" fill="none" stroke="#161616" stroke-width="0.68" /><polyline points="636.4,744.5 636.6,751.7 639.5,759.9 644.5,768.4 648.4,772.5 646.2,777.1 650.2,781.9 652.8,786.0 644.8,792.9" fill="none" stroke="#161616" stroke-width="0.68" /><polyline points="643.3,744.3 643.1,751.3 650.2,761.2 650.9,768.6 656.5,772.2 652.8,776.8 659.9,781.9 659.7,786.3 646.2,794.2" fill="none" stroke="#161616" stroke-width="0.68" /><polyline points="652.6,745.0 654.6,751.6 655.4,759.9 658.9,769.2 665.1,771.9 662.5,776.5 668.6,781.8 668.6,786.7 658.6,795.5" fill="none" stroke="#161616" stroke-width="0.68" /><polyline points="665.4,745.5 667.4,751.5 666.6,760.9 667.8,768.2 674.7,771.7 673.1,776.2 677.0,781.7 678.6,787.2 666.1,797.0" fill="none" stroke="#161616" stroke-width="0.68" /><polyline points="662.9,745.6 667.9,752.7 673.9,759.6 679.9,767.7 682.7,771.5 679.0,775.9 684.7,781.6 687.6,787.6 675.9,798.2" fill="none" stroke="#161616" stroke-width="0.68" /><polyline points="680.3,744.4 685.4,753.2 686.1,759.1 687.0,768.7 691.9,771.3 689.8,775.5 694.5,781.5 697.1,787.2 690.8,797.2" fill="none" stroke="#161616" stroke-width="0.68" /><polyline points="683.4,743.9 688.3,751.7 690.9,759.9 696.2,767.5 699.5,771.2 698.1,775.2 701.9,781.4 705.1,786.6 690.7,795.8" fill="none" stroke="#161616" stroke-width="0.68" /><polyline points="688.9,743.4 693.1,752.6 700.4,759.4 703.0,768.9 708.8,771.0 704.3,774.9 709.7,781.4 710.7,786.1 703.9,794.3" fill="none" stroke="#161616" stroke-width="0.68" /><polyline points="727.8,744.9 723.1,753.2 718.2,760.0 709.9,767.8 714.3,770.9 712.5,774.7 718.4,781.3 721.2,785.6 705.6,793.1" fill="none" stroke="#161616" stroke-width="0.68" /><polyline points="727.1,744.8 726.0,751.8 722.0,760.4 721.4,768.8 725.2,770.7 720.9,774.3 727.7,781.2 729.5,785.0 714.1,791.5" fill="none" stroke="#161616" stroke-width="0.68" /><polyline points="739.0,746.4 734.9,753.5 733.4,760.0 730.9,768.8 732.8,770.8 729.4,774.0 734.9,781.6 738.2,784.7 725.4,789.9" fill="none" stroke="#161616" stroke-width="0.68" /><polyline points="750.3,744.5 749.0,752.4 744.8,761.3 739.2,769.3 743.2,770.9 742.1,773.6 747.4,782.1 748.5,785.0 732.9,789.7" fill="none" stroke="#161616" stroke-width="0.68" /><polyline points="761.6,744.8 756.4,754.4 750.8,761.8 746.7,768.6 752.8,770.8 752.3,772.8 757.1,782.6 757.3,785.4 746.2,790.0" fill="none" stroke="#161616" stroke-width="0.68" /><polyline points="770.6,746.3 763.8,753.1 762.1,761.2 757.8,770.5 762.4,770.7 760.4,772.0 764.7,783.1 766.8,785.8 756.4,790.3" fill="none" stroke="#161616" stroke-width="0.68" /><polyline points="778.5,746.7 775.9,754.0 770.0,762.8 766.5,771.5 771.3,770.7 767.5,771.4 774.0,783.7 775.9,786.3 760.4,790.6" fill="none" stroke="#161616" stroke-width="0.68" /><polyline points="789.7,745.7 783.3,754.2 780.6,762.6 771.8,772.3 780.2,770.7 776.7,770.7 781.3,784.4 782.7,786.8 770.4,790.8" fill="none" stroke="#161616" stroke-width="0.68" /><polyline points="790.1,745.7 786.8,753.5 785.3,763.6 780.0,771.9 786.0,770.7 782.5,770.1 787.0,785.0 792.1,787.3 776.7,791.0" fill="none" stroke="#161616" stroke-width="0.68" /><polyline points="805.0,745.1 800.7,755.1 797.4,763.2 792.8,772.4 796.4,770.8 794.7,769.2 796.8,785.9 799.1,788.0 790.7,791.4" fill="none" stroke="#161616" stroke-width="0.68" /><polyline points="817.2,745.6 809.2,755.5 802.0,763.5 800.5,773.5 803.5,770.8 801.8,768.6 807.0,786.5 806.4,788.5 795.9,791.6" fill="none" stroke="#161616" stroke-width="0.68" /><polyline points="824.4,746.8 819.5,755.6 812.8,766.2 811.2,774.2 814.2,771.0 809.8,768.0 816.9,787.4 815.7,789.2 811.3,791.9" fill="none" stroke="#161616" stroke-width="0.68" /><polyline points="835.9,747.9 826.5,757.3 824.8,766.1 814.8,775.0 821.3,771.2 819.5,767.6 822.9,788.1 824.4,789.7 818.1,792.1" fill="none" stroke="#161616" stroke-width="0.68" /><polyline points="839.1,755.4 834.9,761.2 829.5,770.3 827.5,776.1 832.0,771.4 827.4,767.2 835.1,789.0 835.4,790.7 825.2,793.4" fill="none" stroke="#161616" stroke-width="0.68" /><polyline points="846.7,763.5 844.7,767.5 837.4,773.6 832.5,776.8 838.9,771.6 834.8,766.9 842.0,789.6 842.0,791.7 827.7,795.0" fill="none" stroke="#161616" stroke-width="0.68" /><polyline points="836.5,764.8 835.8,769.4 841.1,773.5 844.2,779.0 848.5,771.9 845.4,766.5 851.4,790.4 852.6,792.7 841.7,796.6" fill="none" stroke="#161616" stroke-width="0.68" /><polyline points="837.1,765.6 841.5,769.8 848.3,775.2 852.5,778.5 856.0,772.1 852.2,766.2 858.3,791.0 858.4,793.2 849.4,796.9" fill="none" stroke="#161616" stroke-width="0.68" /><polyline points="851.8,765.2 851.7,769.5 857.0,775.2 860.2,779.5 866.4,772.4 861.2,765.7 868.7,791.8 869.6,793.9 859.1,797.2" fill="none" stroke="#161616" stroke-width="0.68" /><polyline points="860.2,765.5 862.6,771.6 866.1,775.5 868.8,779.8 874.3,772.6 869.4,765.4 874.6,792.5 877.2,794.4 870.4,797.5" fill="none" stroke="#161616" stroke-width="0.68" /><polyline points="871.2,767.4 872.4,773.5 873.7,777.0 879.4,782.8 882.0,772.8 880.0,765.0 885.8,793.4 885.4,795.1 881.4,797.8" fill="none" stroke="#161616" stroke-width="0.68" /><polyline points="875.4,769.0 877.4,772.4 885.0,778.5 886.8,781.6 889.9,773.0 887.8,764.7 891.8,794.1 895.6,795.7 883.4,798.1" fill="none" stroke="#161616" stroke-width="0.68" /><polyline points="880.5,770.0 884.1,775.4 887.0,778.6 894.8,783.8 899.1,773.1 896.9,764.3 900.7,794.8 903.4,796.3 892.2,798.4" fill="none" stroke="#161616" stroke-width="0.68" /><polyline points="895.0,773.1 898.6,776.3 899.5,779.7 903.4,783.2 908.4,773.3 907.0,763.9 911.1,795.7 912.0,797.0 898.1,798.7" fill="none" stroke="#161616" stroke-width="0.68" /><polyline points="114.7,678.2 118.0,682.4 123.8,675.8 126.3,668.3 128.8,672.4 133.0,670.0 137.9,671.3 142.9,676.6" fill="none" stroke="#161616" stroke-width="0.68" /><polyline points="111.4,687.4 116.4,695.7 123.0,699.8 128.0,695.7 129.7,683.2" fill="none" stroke="#161616" stroke-width="0.68" /><polyline points="113.9,708.9 118.0,714.7 123.8,718.0 128.8,713.1 131.3,704.8" fill="none" stroke="#161616" stroke-width="0.68" /><polyline points="111.4,733.8 118.0,731.3 123.0,735.5 129.7,729.7 133.0,725.5 135.5,733.0 137.9,746.2" fill="none" stroke="#161616" stroke-width="0.68" /><polyline points="113.1,750.4 118.0,753.7 126.3,746.2 133.0,742.9 137.9,752.9 146.2,766.1 159.5,776.1 176.1,783.5 192.7,782.7" fill="none" stroke="#161616" stroke-width="0.68" /><polyline points="113.9,760.3 118.9,769.5 126.3,766.1 134.6,759.5 141.3,766.1 147.9,776.1 159.5,786.0 176.1,791.0 187.7,792.7 197.6,804.3" fill="none" stroke="#161616" stroke-width="0.68" /><polyline points="114.7,776.1 118.9,786.0 126.3,782.7 134.6,774.4 142.9,772.8 149.6,779.4 157.8,791.0 166.1,801.0 172.8,804.9" fill="none" stroke="#161616" stroke-width="0.68" /><polyline points="126.3,797.6 134.6,791.0 142.9,786.0 152.9,791.0 159.5,801.0 162.8,804.9" fill="none" stroke="#161616" stroke-width="0.68" /><polyline points="131.3,733.0 133.8,746.2 139.6,759.5 149.6,772.8 159.5,779.4 176.1,782.7" fill="none" stroke="#161616" stroke-width="0.68" /><polyline points="132.1,724.7 137.9,737.9 146.2,752.9 159.5,767.8 176.1,776.1 186.0,779.4" fill="none" stroke="#161616" stroke-width="0.68" /><polyline points="113.1,760.0 123.0,770.0 134.6,763.3 146.2,760.0" fill="none" stroke="#161616" stroke-width="0.68" /><polyline points="114.7,773.3 118.9,784.9 126.3,781.6 136.3,773.3 146.2,771.6 152.9,778.2 159.5,793.2 166.1,809.8 176.1,826.3" fill="none" stroke="#161616" stroke-width="0.68" /><polyline points="118.9,803.9 129.7,808.9 139.6,801.5 149.6,803.1 159.5,809.8 162.8,823.0 169.5,833.0" fill="none" stroke="#161616" stroke-width="0.68" /><polyline points="119.7,813.9 133.0,818.0 141.3,814.7 149.6,818.0 152.9,824.7 159.5,831.3" fill="none" stroke="#161616" stroke-width="0.68" /><polyline points="131.3,829.7 128.8,837.1 133.0,833.0 139.6,831.3 147.9,828.0 150.4,833.0 157.8,834.6" fill="none" stroke="#161616" stroke-width="0.68" /><polyline points="138.8,841.3 149.6,840.4 150.4,846.2 157.8,846.2" fill="none" stroke="#161616" stroke-width="0.68" /><polyline points="137.9,760.0 146.2,770.0 159.5,784.9 162.8,801.5 166.1,814.7 172.8,829.7" fill="none" stroke="#161616" stroke-width="0.68" /><polyline points="157.8,765.0 172.8,781.6 176.1,799.8 179.4,814.7 186.0,828.0" fill="none" stroke="#161616" stroke-width="0.68" /><polyline points="166.1,763.3 179.4,778.2 182.7,793.2 186.0,808.1 192.7,825.5" fill="none" stroke="#161616" stroke-width="0.68" /><polyline points="174.4,766.6 182.7,776.6 187.7,791.5 192.7,808.1 199.3,823.8" fill="none" stroke="#161616" stroke-width="0.68" /><polyline points="182.7,770.0 191.0,781.6 197.6,798.1 202.6,811.4 205.9,823.0" fill="none" stroke="#161616" stroke-width="0.68" /><polyline points="191.0,776.6 201.0,786.5 205.9,801.5 209.3,814.7 211.7,822.2" fill="none" stroke="#161616" stroke-width="0.68" /><polyline points="197.6,781.6 205.9,784.9 214.2,803.1 217.5,814.7 219.2,820.5" fill="none" stroke="#161616" stroke-width="0.68" /><polyline points="108.1,818.9 131.3,789.9 146.2,774.9" fill="none" stroke="#161616" stroke-width="0.68" /><polyline points="127.0,668.0 129.0,690.0 131.0,715.0 133.0,730.0" fill="none" stroke="#555" stroke-width="0.5" /><polyline points="128.2,671.0 130.1,690.0 131.9,715.0 133.6,730.0" fill="none" stroke="#555" stroke-width="0.5" /><polyline points="129.4,674.0 131.2,690.0 132.8,715.0 134.2,730.0" fill="none" stroke="#555" stroke-width="0.5" /><polyline points="130.6,677.0 132.3,690.0 133.7,715.0 134.8,730.0" fill="none" stroke="#555" stroke-width="0.5" /><polyline points="116.0,676.0 120.0,682.0 126.0,672.0 130.0,669.0 128.0,680.0 134.0,674.0 143.0,676.0" fill="none" stroke="#161616" stroke-width="0.5" /><line x1="132.0" y1="700.0" x2="140.0" y2="700.0" stroke="#161616" stroke-width="0.5"/><line x1="132.4" y1="705.5" x2="140.3" y2="705.5" stroke="#161616" stroke-width="0.5"/><line x1="132.8" y1="711.0" x2="140.6" y2="711.0" stroke="#161616" stroke-width="0.5"/><line x1="133.2" y1="716.5" x2="140.9" y2="716.5" stroke="#161616" stroke-width="0.5"/><line x1="133.6" y1="722.0" x2="141.2" y2="722.0" stroke="#161616" stroke-width="0.5"/><polyline points="142.0,703.0 156.0,707.0 160.0,728.0 167.0,749.0" fill="none" stroke="#161616" stroke-width="0.5" /><polyline points="150.0,680.0 157.0,692.0 160.0,690.7" fill="none" stroke="#161616" stroke-width="0.5" /><polyline points="167.0,752.5 260.0,752.0 262.0,746.0 290.0,749.0" fill="none" stroke="#161616" stroke-width="0.5" /><polyline points="195.0,753.0 212.0,754.0 218.0,768.0 232.0,771.0" fill="none" stroke="#161616" stroke-width="0.5" /><polyline points="245.0,754.0 270.0,766.0 198.0,768.5" fill="none" stroke="#161616" stroke-width="0.5" /><polyline points="183.0,775.0 200.0,781.0 230.0,781.5" fill="none" stroke="#161616" stroke-width="0.5" /><polyline points="132.0,738.0 140.0,770.0 160.0,782.0 178.0,783.0" fill="none" stroke="#161616" stroke-width="0.5" /><polyline points="131.0,726.0 136.0,752.0 150.0,775.0 170.0,789.0 190.0,800.0" fill="none" stroke="#161616" stroke-width="0.5" /><polyline points="683.5,704.0 686.0,716.0 684.0,730.0 680.0,748.0 676.0,760.0 672.0,770.0" fill="none" stroke="#161616" stroke-width="0.6" /><polyline points="701.0,700.0 697.0,715.0 692.0,730.0 688.0,745.0 684.0,760.0 681.0,772.0" fill="none" stroke="#161616" stroke-width="0.6" /><polyline points="704.0,703.0 700.0,722.0 696.0,740.0 693.0,756.0 690.0,770.0" fill="none" stroke="#161616" stroke-width="0.6" /><polyline points="304.0,729.0 307.0,742.0 305.0,756.0 306.0,768.0 310.0,778.0" fill="none" stroke="#161616" stroke-width="0.6" /><polyline points="322.0,735.0 326.0,746.0 322.0,760.0 324.0,772.0 330.0,780.0" fill="none" stroke="#161616" stroke-width="0.6" /><polyline points="160.0,781.0 284.0,780.8 400.0,778.0 520.0,774.6 656.0,768.3 720.0,768.0 760.0,770.4 820.0,776.0 870.0,781.0 925.6,785.4" fill="none" stroke="#111" stroke-width="1.05" /><polyline points="200.0,797.0 284.0,794.5 346.0,792.9 417.6,790.4 520.0,786.8 626.0,782.1 720.0,781.2 760.0,783.2 820.0,788.4 870.0,792.6 925.6,797.8" fill="none" stroke="#111" stroke-width="1.05" /><polyline points="284.0,777.4 400.0,774.6 520.0,771.2 656.0,764.9 720.0,764.6 760.0,767.0 820.0,772.6 870.0,777.6 925.6,782.0" fill="none" stroke="#161616" stroke-width="0.6" /><polyline points="284.0,798.7 346.0,797.1 417.6,794.6 520.0,791.0 626.0,786.3 720.0,785.4 760.0,787.4 820.0,792.6" fill="none" stroke="#161616" stroke-width="0.6" /><polyline points="67.0,795.6 160.0,792.0 300.0,787.2 400.0,784.0 520.0,780.6 620.0,777.0 740.0,772.6 803.0,767.2 960.0,760.5 985.6,758.0" fill="none" stroke="#222" stroke-width="0.65" stroke-dasharray="7 1.5 1.5 1.5"/><polyline points="79.0,822.0 150.0,814.0 300.0,803.0 420.0,795.0 520.0,790.0" fill="none" stroke="#222" stroke-width="0.6" stroke-dasharray="5 2"/><polyline points="300.0,783.0 520.0,777.6 740.0,769.6" fill="none" stroke="#333" stroke-width="0.55" stroke-dasharray="4 2"/><polyline points="864.6,755.0 862.0,800.0 858.0,850.0 855.5,881.0" fill="none" stroke="#444" stroke-width="0.55" stroke-dasharray="4 1.6"/><polyline points="850.0,768.0 849.0,800.0 846.5,826.0" fill="none" stroke="#444" stroke-width="0.5" stroke-dasharray="4 1.6"/><polyline points="845.0,795.0 848.0,805.0 849.0,798.0 871.0,808.0 871.5,812.0 874.0,811.0" fill="none" stroke="#161616" stroke-width="0.55" /><polyline points="844.3,803.2 847.3,813.2 848.3,806.2 870.1,816.2 870.6,820.2 873.1,819.2" fill="none" stroke="#161616" stroke-width="0.55" /><polyline points="843.6,811.4 846.6,821.4 847.6,814.4 869.2,824.4 869.7,828.4 872.2,827.4" fill="none" stroke="#161616" stroke-width="0.55" /><polyline points="842.9,819.6 845.9,829.6 846.9,822.6 868.3,832.6 868.8,836.6 871.3,835.6" fill="none" stroke="#161616" stroke-width="0.55" /><polyline points="842.2,827.8 845.2,837.8 846.2,830.8 867.4,840.8 867.9,844.8 870.4,843.8" fill="none" stroke="#161616" stroke-width="0.55" /><polyline points="841.5,836.0 844.5,846.0 845.5,839.0 866.5,849.0 867.0,853.0 869.5,852.0" fill="none" stroke="#161616" stroke-width="0.55" /><polyline points="840.8,844.2 843.8,854.2 844.8,847.2 865.6,857.2 866.1,861.2 868.6,860.2" fill="none" stroke="#161616" stroke-width="0.55" /><polyline points="840.1,852.4 843.1,862.4 844.1,855.4 864.7,865.4 865.2,869.4 867.7,868.4" fill="none" stroke="#161616" stroke-width="0.55" /><polyline points="844.0,797.0 850.0,812.0 853.0,830.0 850.0,842.0 846.0,850.0" fill="none" stroke="#161616" stroke-width="0.5" /><polyline points="836.0,798.0 846.0,806.0 851.0,822.0" fill="none" stroke="#161616" stroke-width="0.5" /><polyline points="889.0,734.0 893.0,742.0 890.0,750.0 906.0,737.0 913.0,728.0 914.0,716.0 916.0,722.0" fill="none" stroke="#161616" stroke-width="0.5" /><polyline points="908.0,758.0 905.0,764.0 908.0,772.0 903.0,780.0 895.0,786.0" fill="none" stroke="#161616" stroke-width="0.5" /><polyline points="925.6,785.4 921.0,791.0 925.6,797.8" fill="none" stroke="#161616" stroke-width="0.5" /><polyline points="888.0,800.0 905.0,796.0 912.0,800.0 918.0,795.0 925.0,798.0" fill="none" stroke="#161616" stroke-width="0.5" /><polyline points="898.0,804.0 910.0,800.0 926.0,786.0" fill="none" stroke="#161616" stroke-width="0.5" /><line x1="228.5" y1="765.9219047619047" x2="228.5" y2="801.1" stroke="#1a1a1a" stroke-width="0.85" stroke-dasharray="3.5 1.2"/><polygon points="225.8,767.4219047619047 228.8,765.1219047619047 228.8,769.1219047619047" fill="#111"/><line x1="228" y1="761.4219047619047" x2="228" y2="764.4219047619047" stroke="#333" stroke-width="0.8" stroke-dasharray="1 0.6"/><line x1="352.5" y1="763.8271983640082" x2="352.5" y2="794.3" stroke="#1a1a1a" stroke-width="0.85" stroke-dasharray="3.5 1.2"/><polygon points="349.8,765.3271983640082 352.8,763.0271983640082 352.8,767.0271983640082" fill="#111"/><line x1="352" y1="759.3271983640082" x2="352" y2="762.3271983640082" stroke="#333" stroke-width="0.8" stroke-dasharray="1 0.6"/><line x1="371.5" y1="763.3220858895705" x2="371.5" y2="792.8" stroke="#1a1a1a" stroke-width="0.85" stroke-dasharray="3.5 1.2"/><polygon points="368.8,764.8220858895705 371.8,762.5220858895706 371.8,766.5220858895706" fill="#111"/><line x1="371" y1="758.8220858895705" x2="371" y2="761.8220858895705" stroke="#333" stroke-width="0.8" stroke-dasharray="1 0.6"/><line x1="412.5" y1="760.0678571428572" x2="412.5" y2="788.8" stroke="#1a1a1a" stroke-width="0.85" stroke-dasharray="3.5 1.2"/><polygon points="409.8,761.5678571428572 412.8,759.2678571428572 412.8,763.2678571428572" fill="#111"/><line x1="412" y1="755.5678571428572" x2="412" y2="758.5678571428572" stroke="#333" stroke-width="0.8" stroke-dasharray="1 0.6"/><line x1="436.5" y1="756.4785714285714" x2="436.5" y2="789.6" stroke="#1a1a1a" stroke-width="0.85" stroke-dasharray="3.5 1.2"/><polygon points="433.8,757.9785714285714 436.8,755.6785714285714 436.8,759.6785714285714" fill="#111"/><line x1="436" y1="751.9785714285714" x2="436" y2="754.9785714285714" stroke="#333" stroke-width="0.8" stroke-dasharray="1 0.6"/><line x1="444.5" y1="753.7777777777778" x2="444.5" y2="790.1" stroke="#1a1a1a" stroke-width="0.85" stroke-dasharray="3.5 1.2"/><polygon points="441.8,755.2777777777778 444.8,752.9777777777779 444.8,756.9777777777779" fill="#111"/><line x1="444" y1="749.2777777777778" x2="444" y2="752.2777777777778" stroke="#333" stroke-width="0.8" stroke-dasharray="1 0.6"/><line x1="465.5" y1="747.25" x2="465.5" y2="790.7" stroke="#1a1a1a" stroke-width="0.85" stroke-dasharray="3.5 1.2"/><polygon points="462.8,748.75 465.8,746.45 465.8,750.45" fill="#111"/><line x1="465" y1="742.75" x2="465" y2="745.75" stroke="#333" stroke-width="0.8" stroke-dasharray="1 0.6"/><line x1="489.5" y1="744.8277777777778" x2="489.5" y2="795.1" stroke="#1a1a1a" stroke-width="0.85" stroke-dasharray="3.5 1.2"/><polygon points="486.8,746.3277777777778 489.8,744.0277777777778 489.8,748.0277777777778" fill="#111"/><line x1="489" y1="740.3277777777778" x2="489" y2="743.3277777777778" stroke="#333" stroke-width="0.8" stroke-dasharray="1 0.6"/><line x1="509.5" y1="742.588888888889" x2="509.5" y2="792.3" stroke="#1a1a1a" stroke-width="0.85" stroke-dasharray="3.5 1.2"/><polygon points="506.8,744.088888888889 509.8,741.788888888889 509.8,745.788888888889" fill="#111"/><line x1="509" y1="738.088888888889" x2="509" y2="741.088888888889" stroke="#333" stroke-width="0.8" stroke-dasharray="1 0.6"/><line x1="527.5" y1="739.3666666666667" x2="527.5" y2="787.2" stroke="#1a1a1a" stroke-width="0.85" stroke-dasharray="3.5 1.2"/><polygon points="524.8,740.8666666666667 527.8,738.5666666666667 527.8,742.5666666666667" fill="#111"/><line x1="527" y1="734.8666666666667" x2="527" y2="737.8666666666667" stroke="#333" stroke-width="0.8" stroke-dasharray="1 0.6"/><line x1="553.5" y1="733.948275862069" x2="553.5" y2="786.9" stroke="#1a1a1a" stroke-width="0.85" stroke-dasharray="3.5 1.2"/><polygon points="550.8,735.448275862069 553.8,733.148275862069 553.8,737.148275862069" fill="#111"/><line x1="553" y1="729.448275862069" x2="553" y2="732.448275862069" stroke="#333" stroke-width="0.8" stroke-dasharray="1 0.6"/><line x1="571.5" y1="733.6379310344828" x2="571.5" y2="784.1" stroke="#1a1a1a" stroke-width="0.85" stroke-dasharray="3.5 1.2"/><polygon points="568.8,735.1379310344828 571.8,732.8379310344828 571.8,736.8379310344828" fill="#111"/><line x1="571" y1="729.1379310344828" x2="571" y2="732.1379310344828" stroke="#333" stroke-width="0.8" stroke-dasharray="1 0.6"/><line x1="585.5" y1="733.3965517241379" x2="585.5" y2="791.3" stroke="#1a1a1a" stroke-width="0.85" stroke-dasharray="3.5 1.2"/><polygon points="582.8,734.8965517241379 585.8,732.596551724138 585.8,736.596551724138" fill="#111"/><line x1="585" y1="728.8965517241379" x2="585" y2="731.8965517241379" stroke="#333" stroke-width="0.8" stroke-dasharray="1 0.6"/><line x1="599.5" y1="733.1551724137931" x2="599.5" y2="784.9" stroke="#1a1a1a" stroke-width="0.85" stroke-dasharray="3.5 1.2"/><polygon points="596.8,734.6551724137931 599.8,732.3551724137932 599.8,736.3551724137932" fill="#111"/><line x1="599" y1="728.6551724137931" x2="599" y2="731.6551724137931" stroke="#333" stroke-width="0.8" stroke-dasharray="1 0.6"/><line x1="621.5" y1="735.4761904761905" x2="621.5" y2="788.0" stroke="#1a1a1a" stroke-width="0.85" stroke-dasharray="3.5 1.2"/><polygon points="618.8,736.9761904761905 621.8,734.6761904761905 621.8,738.6761904761905" fill="#111"/><line x1="621" y1="730.9761904761905" x2="621" y2="733.9761904761905" stroke="#333" stroke-width="0.8" stroke-dasharray="1 0.6"/><line x1="648.5" y1="737.304" x2="648.5" y2="787.1" stroke="#1a1a1a" stroke-width="0.85" stroke-dasharray="3.5 1.2"/><polygon points="645.8,738.804 648.8,736.504 648.8,740.504" fill="#111"/><line x1="648" y1="732.804" x2="648" y2="735.804" stroke="#333" stroke-width="0.8" stroke-dasharray="1 0.6"/><line x1="672.5" y1="737.688" x2="672.5" y2="788.7" stroke="#1a1a1a" stroke-width="0.85" stroke-dasharray="3.5 1.2"/><polygon points="669.8,739.188 672.8,736.888 672.8,740.888" fill="#111"/><line x1="672" y1="733.188" x2="672" y2="736.188" stroke="#333" stroke-width="0.8" stroke-dasharray="1 0.6"/><line x1="737.5" y1="738.3655172413793" x2="737.5" y2="780.3" stroke="#1a1a1a" stroke-width="0.85" stroke-dasharray="3.5 1.2"/><polygon points="734.8,739.8655172413793 737.8,737.5655172413793 737.8,741.5655172413793" fill="#111"/><line x1="737" y1="733.8655172413793" x2="737" y2="736.8655172413793" stroke="#333" stroke-width="0.8" stroke-dasharray="1 0.6"/><line x1="749.5" y1="738.4724832214765" x2="749.5" y2="783.9" stroke="#1a1a1a" stroke-width="0.85" stroke-dasharray="3.5 1.2"/><polygon points="746.8,739.9724832214765 749.8,737.6724832214766 749.8,741.6724832214766" fill="#111"/><line x1="749" y1="733.9724832214765" x2="749" y2="736.9724832214765" stroke="#333" stroke-width="0.8" stroke-dasharray="1 0.6"/><line x1="767.5" y1="738.6174496644295" x2="767.5" y2="785.7" stroke="#1a1a1a" stroke-width="0.85" stroke-dasharray="3.5 1.2"/><polygon points="764.8,740.1174496644295 767.8,737.8174496644295 767.8,741.8174496644295" fill="#111"/><line x1="767" y1="734.1174496644295" x2="767" y2="737.1174496644295" stroke="#333" stroke-width="0.8" stroke-dasharray="1 0.6"/><line x1="775.5" y1="738.6818791946308" x2="775.5" y2="783.3" stroke="#1a1a1a" stroke-width="0.85" stroke-dasharray="3.5 1.2"/><polygon points="772.8,740.1818791946308 775.8,737.8818791946309 775.8,741.8818791946309" fill="#111"/><line x1="775" y1="734.1818791946308" x2="775" y2="737.1818791946308" stroke="#333" stroke-width="0.8" stroke-dasharray="1 0.6"/><line x1="789.5" y1="738.7946308724833" x2="789.5" y2="792.5" stroke="#1a1a1a" stroke-width="0.85" stroke-dasharray="3.5 1.2"/><polygon points="786.8,740.2946308724833 789.8,737.9946308724833 789.8,741.9946308724833" fill="#111"/><line x1="789" y1="734.2946308724833" x2="789" y2="737.2946308724833" stroke="#333" stroke-width="0.8" stroke-dasharray="1 0.6"/><line x1="807.5" y1="738.9395973154362" x2="807.5" y2="788.5" stroke="#1a1a1a" stroke-width="0.85" stroke-dasharray="3.5 1.2"/><polygon points="804.8,740.4395973154362 807.8,738.1395973154363 807.8,742.1395973154363" fill="#111"/><line x1="807" y1="734.4395973154362" x2="807" y2="737.4395973154362" stroke="#333" stroke-width="0.8" stroke-dasharray="1 0.6"/><line x1="845.5" y1="757.8780487804878" x2="845.5" y2="796.2" stroke="#1a1a1a" stroke-width="0.85" stroke-dasharray="3.5 1.2"/><polygon points="842.8,759.3780487804878 845.8,757.0780487804878 845.8,761.0780487804878" fill="#111"/><line x1="845" y1="753.3780487804878" x2="845" y2="756.3780487804878" stroke="#333" stroke-width="0.8" stroke-dasharray="1 0.6"/><line x1="865.5" y1="759.3414634146342" x2="865.5" y2="795.4" stroke="#1a1a1a" stroke-width="0.85" stroke-dasharray="3.5 1.2"/><polygon points="862.8,760.8414634146342 865.8,758.5414634146342 865.8,762.5414634146342" fill="#111"/><line x1="865" y1="754.8414634146342" x2="865" y2="757.8414634146342" stroke="#333" stroke-width="0.8" stroke-dasharray="1 0.6"/><line x1="284.5" y1="804.5" x2="284.5" y2="817.8" stroke="#1a1a1a" stroke-width="0.85" stroke-dasharray="3.5 1.2"/><polygon points="281.8,815.3 284.8,813.2 284.8,817.2" fill="#111"/><line x1="284" y1="818.3" x2="284" y2="821.8" stroke="#333" stroke-width="0.8" stroke-dasharray="1 0.6"/><line x1="352.5" y1="797.4" x2="352.5" y2="812.0" stroke="#1a1a1a" stroke-width="0.85" stroke-dasharray="3.5 1.2"/><polygon points="349.8,809.5 352.8,807.4 352.8,811.4" fill="#111"/><line x1="352" y1="812.5" x2="352" y2="816.0" stroke="#333" stroke-width="0.8" stroke-dasharray="1 0.6"/><line x1="373.5" y1="796.0" x2="373.5" y2="809.9" stroke="#1a1a1a" stroke-width="0.85" stroke-dasharray="3.5 1.2"/><polygon points="370.8,807.4 373.8,805.3 373.8,809.3" fill="#111"/><line x1="373" y1="810.4" x2="373" y2="813.9" stroke="#333" stroke-width="0.8" stroke-dasharray="1 0.6"/><line x1="418.5" y1="793.4" x2="418.5" y2="806.5" stroke="#1a1a1a" stroke-width="0.85" stroke-dasharray="3.5 1.2"/><polygon points="415.8,804.0 418.8,801.9 418.8,805.9" fill="#111"/><line x1="418" y1="807.0" x2="418" y2="810.5" stroke="#333" stroke-width="0.8" stroke-dasharray="1 0.6"/><line x1="441.5" y1="797.0" x2="441.5" y2="810.6" stroke="#1a1a1a" stroke-width="0.85" stroke-dasharray="3.5 1.2"/><polygon points="438.8,808.1 441.8,806.0 441.8,810.0" fill="#111"/><line x1="441" y1="811.1" x2="441" y2="814.6" stroke="#333" stroke-width="0.8" stroke-dasharray="1 0.6"/><line x1="451.5" y1="792.5" x2="451.5" y2="807.9" stroke="#1a1a1a" stroke-width="0.85" stroke-dasharray="3.5 1.2"/><polygon points="448.8,805.4 451.8,803.3 451.8,807.3" fill="#111"/><line x1="451" y1="808.4" x2="451" y2="811.9" stroke="#333" stroke-width="0.8" stroke-dasharray="1 0.6"/><line x1="469.5" y1="791.7" x2="469.5" y2="804.8" stroke="#1a1a1a" stroke-width="0.85" stroke-dasharray="3.5 1.2"/><polygon points="466.8,802.3 469.8,800.2 469.8,804.2" fill="#111"/><line x1="469" y1="805.3" x2="469" y2="808.8" stroke="#333" stroke-width="0.8" stroke-dasharray="1 0.6"/><line x1="495.5" y1="790.5" x2="495.5" y2="804.8" stroke="#1a1a1a" stroke-width="0.85" stroke-dasharray="3.5 1.2"/><polygon points="492.8,802.3 495.8,800.2 495.8,804.2" fill="#111"/><line x1="495" y1="805.3" x2="495" y2="808.8" stroke="#333" stroke-width="0.8" stroke-dasharray="1 0.6"/><line x1="513.5" y1="789.7" x2="513.5" y2="804.4" stroke="#1a1a1a" stroke-width="0.85" stroke-dasharray="3.5 1.2"/><polygon points="510.8,801.9 513.8,799.8 513.8,803.8" fill="#111"/><line x1="513" y1="804.9" x2="513" y2="808.4" stroke="#333" stroke-width="0.8" stroke-dasharray="1 0.6"/><line x1="537.5" y1="788.9" x2="537.5" y2="804.1" stroke="#1a1a1a" stroke-width="0.85" stroke-dasharray="3.5 1.2"/><polygon points="534.8,801.6 537.8,799.5 537.8,803.5" fill="#111"/><line x1="537" y1="804.6" x2="537" y2="808.1" stroke="#333" stroke-width="0.8" stroke-dasharray="1 0.6"/><line x1="556.5" y1="788.3" x2="556.5" y2="801.9" stroke="#1a1a1a" stroke-width="0.85" stroke-dasharray="3.5 1.2"/><polygon points="553.8,799.4 556.8,797.3 556.8,801.3" fill="#111"/><line x1="556" y1="802.4" x2="556" y2="805.9" stroke="#333" stroke-width="0.8" stroke-dasharray="1 0.6"/><line x1="573.5" y1="787.8" x2="573.5" y2="803.6" stroke="#1a1a1a" stroke-width="0.85" stroke-dasharray="3.5 1.2"/><polygon points="570.8,801.1 573.8,799.0 573.8,803.0" fill="#111"/><line x1="573" y1="804.1" x2="573" y2="807.6" stroke="#333" stroke-width="0.8" stroke-dasharray="1 0.6"/><line x1="587.5" y1="787.2" x2="587.5" y2="801.3" stroke="#1a1a1a" stroke-width="0.85" stroke-dasharray="3.5 1.2"/><polygon points="584.8,798.8 587.8,796.7 587.8,800.7" fill="#111"/><line x1="587" y1="801.8" x2="587" y2="805.3" stroke="#333" stroke-width="0.8" stroke-dasharray="1 0.6"/><line x1="600.5" y1="786.6" x2="600.5" y2="802.5" stroke="#1a1a1a" stroke-width="0.85" stroke-dasharray="3.5 1.2"/><polygon points="597.8,800.0 600.8,797.9 600.8,801.9" fill="#111"/><line x1="600" y1="803.0" x2="600" y2="806.5" stroke="#333" stroke-width="0.8" stroke-dasharray="1 0.6"/><line x1="621.5" y1="785.6" x2="621.5" y2="801.2" stroke="#1a1a1a" stroke-width="0.85" stroke-dasharray="3.5 1.2"/><polygon points="618.8,798.7 621.8,796.6 621.8,800.6" fill="#111"/><line x1="621" y1="801.7" x2="621" y2="805.2" stroke="#333" stroke-width="0.8" stroke-dasharray="1 0.6"/><line x1="647.5" y1="788.0" x2="647.5" y2="801.6" stroke="#1a1a1a" stroke-width="0.85" stroke-dasharray="3.5 1.2"/><polygon points="644.8,799.1 647.8,797.0 647.8,801.0" fill="#111"/><line x1="647" y1="802.1" x2="647" y2="805.6" stroke="#333" stroke-width="0.8" stroke-dasharray="1 0.6"/><line x1="671.5" y1="791.6" x2="671.5" y2="805.5" stroke="#1a1a1a" stroke-width="0.85" stroke-dasharray="3.5 1.2"/><polygon points="668.8,803.0 671.8,800.9 671.8,804.9" fill="#111"/><line x1="671" y1="806.0" x2="671" y2="809.5" stroke="#333" stroke-width="0.8" stroke-dasharray="1 0.6"/><line x1="737.5" y1="784.2" x2="737.5" y2="798.3" stroke="#1a1a1a" stroke-width="0.85" stroke-dasharray="3.5 1.2"/><polygon points="734.8,795.8 737.8,793.7 737.8,797.7" fill="#111"/><line x1="737" y1="798.8" x2="737" y2="802.3" stroke="#333" stroke-width="0.8" stroke-dasharray="1 0.6"/><line x1="749.5" y1="784.6" x2="749.5" y2="800.4" stroke="#1a1a1a" stroke-width="0.85" stroke-dasharray="3.5 1.2"/><polygon points="746.8,797.9 749.8,795.8 749.8,799.8" fill="#111"/><line x1="749" y1="800.9" x2="749" y2="804.4" stroke="#333" stroke-width="0.8" stroke-dasharray="1 0.6"/><line x1="767.5" y1="785.1" x2="767.5" y2="799.7" stroke="#1a1a1a" stroke-width="0.85" stroke-dasharray="3.5 1.2"/><polygon points="764.8,797.2 767.8,795.1 767.8,799.1" fill="#111"/><line x1="767" y1="800.2" x2="767" y2="803.7" stroke="#333" stroke-width="0.8" stroke-dasharray="1 0.6"/><line x1="775.5" y1="785.4" x2="775.5" y2="799.9" stroke="#1a1a1a" stroke-width="0.85" stroke-dasharray="3.5 1.2"/><polygon points="772.8,797.4 775.8,795.3 775.8,799.3" fill="#111"/><line x1="775" y1="800.4" x2="775" y2="803.9" stroke="#333" stroke-width="0.8" stroke-dasharray="1 0.6"/><line x1="789.5" y1="785.8" x2="789.5" y2="802.2" stroke="#1a1a1a" stroke-width="0.85" stroke-dasharray="3.5 1.2"/><polygon points="786.8,799.7 789.8,797.6 789.8,801.6" fill="#111"/><line x1="789" y1="802.7" x2="789" y2="806.2" stroke="#333" stroke-width="0.8" stroke-dasharray="1 0.6"/><line x1="806.5" y1="786.3" x2="806.5" y2="800.2" stroke="#1a1a1a" stroke-width="0.85" stroke-dasharray="3.5 1.2"/><polygon points="803.8,797.7 806.8,795.6 806.8,799.6" fill="#111"/><line x1="806" y1="800.7" x2="806" y2="804.2" stroke="#333" stroke-width="0.8" stroke-dasharray="1 0.6"/><polygon points="72.5,794 75.8,797.5 70.5,797.8" fill="#111"/><line x1="64" y1="796.6" x2="69" y2="796.4" stroke="#333" stroke-width="0.7" stroke-dasharray="1.2 0.8"/><polygon points="83.8,820 88.5,819.6 86.5,824" fill="#111"/><line x1="78" y1="822.6" x2="83" y2="822.3" stroke="#333" stroke-width="0.7" stroke-dasharray="1.2 0.8"/><polygon points="110,814 113.5,816 109,819.5" fill="#111"/><polyline points="107.5,819.5 111.0,816.0 127.0,796.0" fill="none" stroke="#161616" stroke-width="0.5" /><polygon points="983,755 987.5,758.4 982.4,759.6" fill="#111"/><polygon points="853.6,876 857.6,874.6 856.4,879.6" fill="#111"/><polygon points="152.6,752.3 155.8,749.2 170.6,762.2 167.2,765.8" fill="#4a4a4a" stroke="#111" stroke-width="0.6"/><polygon points="155.6,782 163,783.4 162.6,785.2 155.2,783.6" fill="#222"/><polyline points="139.6,694.0 142.4,737.1 183.5,773.6 235.8,772.8" fill="none" stroke="#1b2030" stroke-width="1.5" /><polyline points="160.3,690.7 167.0,749.5 191.8,747.0 191.0,734.6" fill="none" stroke="#1b2030" stroke-width="1.5" /><polyline points="193.5,751.2 220.9,750.9 218.7,733.0" fill="none" stroke="#1b2030" stroke-width="1.5" /><polyline points="224.2,733.0 225.8,749.5 248.2,746.2 247.4,733.0" fill="none" stroke="#1b2030" stroke-width="1.5" /><polyline points="260.7,738.8 261.5,749.5 291.3,746.2 290.8,740.4" fill="none" stroke="#1b2030" stroke-width="1.5" /><polyline points="282.5,744.8 291.6,744.8 291.3,740.6" fill="none" stroke="#1b2030" stroke-width="1.5" /><polyline points="301.6,729.5 304.0,748.1 296.6,748.9" fill="none" stroke="#1b2030" stroke-width="1.5" /><polyline points="329.8,743.9 333.1,760.5 345.5,771.0 394.4,769.7 439.2,763.0 450.0,760.5 450.0,755.6 465.7,753.9 502.2,750.6 502.2,748.6 524.9,745.6" fill="none" stroke="#1b2030" stroke-width="1.5" /><polyline points="391.9,751.4 394.4,769.7" fill="none" stroke="#1b2030" stroke-width="1.5" /><polyline points="417.3,740.1 421.3,765.5" fill="none" stroke="#1b2030" stroke-width="1.5" /><polyline points="438.7,746.9 440.5,763.0" fill="none" stroke="#1b2030" stroke-width="1.5" /><polyline points="449.5,749.8 450.0,756.0" fill="none" stroke="#1b2030" stroke-width="1.5" /><polyline points="477.3,746.4 477.7,752.7" fill="none" stroke="#1b2030" stroke-width="1.5" /><polyline points="524.9,745.6 524.9,742.3 549.0,740.6 549.0,745.0 524.9,745.6" fill="none" stroke="#1b2030" stroke-width="1.5" /><polyline points="549.8,740.6 563.0,740.3" fill="none" stroke="#1b2030" stroke-width="1.5" /><polyline points="564.7,749.4 564.7,740.6 608.6,739.8" fill="none" stroke="#1b2030" stroke-width="1.5" /><polyline points="564.7,749.4 575.0,749.2" fill="none" stroke="#1b2030" stroke-width="1.5" /><polyline points="608.6,736.5 608.6,744.0 629.0,744.0 629.0,727.4" fill="none" stroke="#1b2030" stroke-width="1.5" /><polyline points="639.0,724.5 639.0,744.4 679.1,744.8 679.1,710.8" fill="none" stroke="#1b2030" stroke-width="1.5" /><polyline points="704.8,705.0 704.8,735.7 713.9,745.1 814.5,746.0 816.5,721.2" fill="none" stroke="#1b2030" stroke-width="1.5" /><polyline points="709.0,724.5 709.0,733.2 719.7,733.2 719.7,744.8" fill="none" stroke="#1b2030" stroke-width="1.5" /><polyline points="833.6,743.9 832.8,763.8 868.0,766.8 872.5,766.6 876.0,764.0 879.0,757.0 888.3,723.2" fill="none" stroke="#1b2030" stroke-width="1.5" /><polyline points="836.0,747.2 836.0,751.7 841.9,751.7 841.9,756.3 860.1,758.3 860.6,747.7" fill="none" stroke="#1b2030" stroke-width="1.5" /><polyline points="164.4,876.9 156.9,835.4 300.0,807.3 334.7,804.5 335.6,822.7" fill="none" stroke="#1b2030" stroke-width="1.5" /><polyline points="198.5,828.0 202.6,851.2" fill="none" stroke="#1b2030" stroke-width="1.5" /><polyline points="339.7,805.0 358.0,803.6" fill="none" stroke="#1b2030" stroke-width="1.5" /><polyline points="362.4,802.8 366.2,802.8 366.6,816.0" fill="none" stroke="#1b2030" stroke-width="1.5" /><polyline points="370.9,815.2 370.4,802.8 416.0,798.7 416.0,799.5 429.3,799.5 429.3,804.8 446.7,804.8 446.7,798.7 520.0,795.4 577.1,793.7 578.0,807.0" fill="none" stroke="#1b2030" stroke-width="1.5" /><polyline points="456.6,799.2 457.1,816.0" fill="none" stroke="#1b2030" stroke-width="1.5" /><polyline points="502.2,797.0 502.2,808.0" fill="none" stroke="#1b2030" stroke-width="1.5" /><polyline points="581.0,807.0 580.4,792.9 628.5,791.2 629.0,807.0" fill="none" stroke="#1b2030" stroke-width="1.5" /><polyline points="730.8,789.5 822.0,792.8" fill="none" stroke="#1b2030" stroke-width="1.5" /><polyline points="740.7,789.5 751.5,789.5 751.5,794.2 740.7,794.2 740.7,789.5" fill="none" stroke="#1b2030" stroke-width="1.5" /><polyline points="549.5,675.5 550.6,700 555.6,845 556.5,877.5" fill="none" stroke="#444" stroke-width="0.7"/><polygon points="549.5,675.6 555,678.6 549.7,681.8" fill="#fff" stroke="#444" stroke-width="0.6"/><polygon points="556.3,872 562,875 556.5,877.6" fill="#fff" stroke="#444" stroke-width="0.6"/><line x1="730.8" y1="675.5" x2="731.4" y2="878" stroke="#444" stroke-width="0.7"/><polygon points="730.8,675.6 735.8,678.3 730.9,681" fill="#fff" stroke="#444" stroke-width="0.6"/><polygon points="731.3,872.4 736.4,875.4 731.4,878" fill="#fff" stroke="#444" stroke-width="0.6"/><text x="526.6" y="685.8" textLength="15.4" lengthAdjust="spacingAndGlyphs" class="it" font-size="10.6">S_3</text><text x="709.8" y="685.8" textLength="15.4" lengthAdjust="spacingAndGlyphs" class="it" font-size="10.6">S_4</text></g>
<text x="1020.7" y="647.3" textLength="131.4" lengthAdjust="spacingAndGlyphs" class="it" font-size="10.6">P1_PEDRA NATURAL ALCOVER</text>
<text x="1020.7" y="672.8" textLength="128.7" lengthAdjust="spacingAndGlyphs" class="it" font-size="10.6">P2_LLOSA VULCANO BREINCO</text>
<text x="1020.7" y="699.4" textLength="165.6" lengthAdjust="spacingAndGlyphs" class="it" font-size="10.6">P3_PAVIMENT FORMIGÓ JUNTA VERDA</text>
<text x="1020.7" y="724.6" textLength="159.3" lengthAdjust="spacingAndGlyphs" class="it" font-size="10.6">P4_ZONA PLANTACIONS ARBUSTIVES</text>
<text x="1020.7" y="752.0" textLength="134.5" lengthAdjust="spacingAndGlyphs" class="it" font-size="10.6">P5_ZONA PLANTACIÓNS GESPA</text>
<text x="1020.7" y="778.6" textLength="144.6" lengthAdjust="spacingAndGlyphs" class="it" font-size="10.6">P6_PAVIMENT CONTINU FORMIGÓ</text>
<text x="88.5" y="493.2" textLength="43.5" lengthAdjust="spacingAndGlyphs" class="it" font-size="10.6">SECCIÓ_3</text>
<text x="819.5" y="492.2" textLength="43.5" lengthAdjust="spacingAndGlyphs" class="it" font-size="10.6">SECCIÓ_4</text>
</svg></body></html>
